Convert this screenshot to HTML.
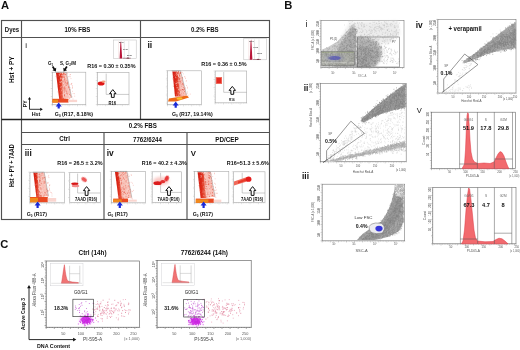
<!DOCTYPE html>
<html><head><meta charset="utf-8">
<style>
html,body{margin:0;padding:0;background:#fff;width:520px;height:350px;overflow:hidden}
svg{display:block;font-family:"Liberation Sans",sans-serif;will-change:transform}
</style></head><body>
<svg width="520" height="350" viewBox="0 0 520 350">
<g>
<defs>
<filter id="b1" x="-20%" y="-20%" width="140%" height="140%"><feGaussianBlur stdDeviation="0.7"/></filter>
<filter id="b2" x="-20%" y="-20%" width="140%" height="140%"><feGaussianBlur stdDeviation="1.5"/></filter>
<filter id="b3" x="-20%" y="-20%" width="140%" height="140%"><feGaussianBlur stdDeviation="2.5"/></filter>
<linearGradient id="rg" x1="0" x2="1" y1="0" y2="0"><stop offset="0" stop-color="#d41a0e"/><stop offset="0.35" stop-color="#e2321c"/><stop offset="0.55" stop-color="#ee6a50"/><stop offset="0.8" stop-color="#f6b4a8"/><stop offset="1" stop-color="#fbd8d2"/></linearGradient>
<linearGradient id="rg2" x1="0" x2="1" y1="0" y2="0"><stop offset="0" stop-color="#d01a10"/><stop offset="0.45" stop-color="#dc2a18"/><stop offset="1" stop-color="#ec6a52"/></linearGradient>
<marker id="ah" viewBox="0 0 6 6" refX="3" refY="3" markerWidth="2.6" markerHeight="2.6" orient="auto"><path d="M0,0 L6,3 L0,6 z" fill="#111"/></marker>
</defs>
<text x="0.9" y="9.2" font-size="11.2" font-weight="bold" text-anchor="start" fill="#111" >A</text>
<text x="284.2" y="9.2" font-size="11.2" font-weight="bold" text-anchor="start" fill="#111" >B</text>
<text x="0.3" y="248.3" font-size="11.2" font-weight="bold" text-anchor="start" fill="#111" >C</text>
<g stroke="#505050" stroke-width="1.15" fill="none">
<rect x="1.5" y="20.5" width="268" height="199"/>
<line x1="21.5" y1="20.5" x2="21.5" y2="219.5"/>
<line x1="1.5" y1="37.5" x2="269.5" y2="37.5"/>
<line x1="140.5" y1="20.5" x2="140.5" y2="119.5"/>
<line x1="1.5" y1="119.5" x2="269.5" y2="119.5" stroke-width="1.4" stroke="#222"/>
<line x1="21.5" y1="132.5" x2="269.5" y2="132.5"/>
<line x1="21.5" y1="144.5" x2="269.5" y2="144.5"/>
<line x1="104" y1="132.5" x2="104" y2="219.5"/>
<line x1="187" y1="132.5" x2="187" y2="219.5"/>
</g>
<text x="4.8" y="31.8" font-size="6.3" font-weight="bold" text-anchor="start" fill="#111"  textLength="14.4" lengthAdjust="spacingAndGlyphs">Dyes</text>
<text x="64.4" y="31.8" font-size="6.3" font-weight="bold" text-anchor="start" fill="#111"  textLength="26" lengthAdjust="spacingAndGlyphs">10% FBS</text>
<text x="190.9" y="31.7" font-size="6.3" font-weight="bold" text-anchor="start" fill="#111"  textLength="27.8" lengthAdjust="spacingAndGlyphs">0.2% FBS</text>
<text x="128.7" y="128.4" font-size="6.3" font-weight="bold" text-anchor="start" fill="#111"  textLength="28.2" lengthAdjust="spacingAndGlyphs">0.2% FBS</text>
<text x="59.2" y="141.4" font-size="6.3" font-weight="bold" text-anchor="start" fill="#111"  textLength="10.7" lengthAdjust="spacingAndGlyphs">Ctrl</text>
<text x="133" y="141.9" font-size="6.3" font-weight="bold" text-anchor="start" fill="#111"  textLength="28.8" lengthAdjust="spacingAndGlyphs">7762/6244</text>
<text x="215.2" y="141.6" font-size="6.3" font-weight="bold" text-anchor="start" fill="#111"  textLength="23.6" lengthAdjust="spacingAndGlyphs">PD/CEP</text>
<text transform="translate(14.1,69.6) rotate(-90)" font-size="6.4" font-weight="bold" text-anchor="middle" fill="#111" textLength="26.6" lengthAdjust="spacingAndGlyphs">Hst + PY</text>
<text transform="translate(14.3,165.7) rotate(-90)" font-size="6.4" font-weight="bold" text-anchor="middle" fill="#111" textLength="42.7" lengthAdjust="spacingAndGlyphs">Hst + PY + 7AAD</text>
<text x="25.3" y="47.6" font-size="8" text-anchor="start" fill="#111" >i</text>
<text x="147.4" y="47.7" font-size="8.6" font-weight="bold" text-anchor="start" fill="#111" >ii</text>
<text x="24.8" y="156.4" font-size="8.4" font-weight="bold" text-anchor="start" fill="#111" >iii</text>
<text x="106.8" y="156.4" font-size="8.4" font-weight="bold" text-anchor="start" fill="#111" >iv</text>
<text x="190.8" y="155.6" font-size="7.8" font-weight="bold" text-anchor="start" fill="#111" >V</text>
<rect x="113.5" y="40" width="22.7" height="18.5" fill="#fff" stroke="#bbb" stroke-width="0.5"/>
<line x1="118.6" y1="41" x2="118.6" y2="58.5" stroke="#f0d0d0" stroke-width="0.45"/>
<line x1="124.3" y1="41" x2="124.3" y2="58.5" stroke="#ccc" stroke-width="0.45"/>
<line x1="128.8" y1="41" x2="128.8" y2="58.5" stroke="#ccc" stroke-width="0.45"/>
<path d="M119.6,58.5 L120.4,42.5 L121.1,41 L121.5,48 L122.2,58.5 z" fill="#b81438"/>
<path d="M126.3,58.5 q1.6,-2.2 3.2,0 z" fill="#5a1020"/>
<path d="M122.8,58.2 H130.8" stroke="#7a3040" stroke-width="0.5"/>
<text x="121.3" y="43" font-size="2.4" font-weight="bold" text-anchor="middle" fill="#444" >51.9</text>
<text x="125.3" y="49.5" font-size="2.4" font-weight="bold" text-anchor="middle" fill="#444" >17.8</text>
<text x="129.3" y="55.5" font-size="2.4" font-weight="bold" text-anchor="middle" fill="#444" >29.8</text>
<text x="87.2" y="67.5" font-size="6.2" font-weight="bold" text-anchor="start" fill="#111"  textLength="48.3" lengthAdjust="spacingAndGlyphs">R16 = 0.30 ± 0.35%</text>
<rect x="52.4" y="72.2" width="33.4" height="32.5" fill="none" stroke="#aaa" stroke-width="0.6"/>
<path d="M50.8,72.2h1.6M51.6,73.8h0.8M51.6,75.5h0.8M51.6,77.1h0.8M51.6,78.7h0.8M50.8,80.3h1.6M51.6,82h0.8M51.6,83.6h0.8M51.6,85.2h0.8M51.6,86.8h0.8M50.8,88.5h1.6M51.6,90.1h0.8M51.6,91.7h0.8M51.6,93.3h0.8M51.6,95h0.8M50.8,96.6h1.6M51.6,98.2h0.8M51.6,99.8h0.8M51.6,101.5h0.8M51.6,103.1h0.8M50.8,104.7h1.6M52.4,104.7v1.6M54.1,104.7v0.8M55.7,104.7v0.8M57.4,104.7v0.8M59.1,104.7v0.8M60.8,104.7v1.6M62.4,104.7v0.8M64.1,104.7v0.8M65.8,104.7v0.8M67.4,104.7v0.8M69.1,104.7v1.6M70.8,104.7v0.8M72.4,104.7v0.8M74.1,104.7v0.8M75.8,104.7v0.8M77.5,104.7v1.6M79.1,104.7v0.8M80.8,104.7v0.8M82.5,104.7v0.8M84.1,104.7v0.8M85.8,104.7v1.6" stroke="#aaa" stroke-width="0.4" fill="none"/>
<polygon points="61.5,72.8 66.3,72.8 71.7,97.8 62.5,99.3" fill="#f8c2b8" filter="url(#b1)"/>
<polygon points="56,72.8 62,72.8 63,99.3 59.2,99.3" fill="url(#rg2)" filter="url(#b1)"/>
<path d="M62.7,81.4h0.7M62.8,90h0.7M64,87h0.7M63.7,74.3h0.7M63.3,73.8h0.7M62.2,74.7h0.7M67.1,84h0.7M62.6,76.1h0.7M69.1,89.4h0.7M64.3,88.1h0.7M63.1,98.7h0.7M64.1,95.5h0.7M62.3,76.6h0.7M66.5,81h0.7M64.4,77.6h0.7M64.3,89.7h0.7M62.7,87.3h0.7M62.5,74.4h0.7M64.7,90.8h0.7M64.9,81.1h0.7M63.5,84.8h0.7M67.3,93.9h0.7M64.6,79.3h0.7M67.9,86.7h0.7M63.9,92.1h0.7M63.3,98.8h0.7M66.5,83.9h0.7M63.9,76.8h0.7M64.5,73.8h0.7M66.1,93.1h0.7M64.3,96h0.7M66.1,91.2h0.7M64.7,88.2h0.7M70.2,95.1h0.7M65.9,85.4h0.7M64.7,74.4h0.7M69.7,89.9h0.7M64,94.6h0.7M65.7,83h0.7M63.4,73.4h0.7M62.4,77.3h0.7M65.1,74.4h0.7M62.7,76.2h0.7M67.3,83.2h0.7M63.5,74.9h0.7M68.1,87.4h0.7M69.2,94.5h0.7M63.8,80.2h0.7M67.2,82.3h0.7M63.5,98.2h0.7M62.7,77.5h0.7M64,79h0.7M63.5,88.4h0.7M63.2,72.9h0.7M64.9,82.6h0.7" stroke="#e0402a" stroke-width="0.7" opacity="0.9" fill="none"/>
<path d="M68.4,98.1h0.7M65.6,86.5h0.7M61,90.7h0.7M69,96.6h0.7M69,96h0.7M63.1,83.2h0.7M63.8,75.5h0.7M58.8,74.4h0.7M60.2,78.3h0.7M59.8,81.8h0.7M59.3,72.8h0.7M61.5,75.5h0.7M65.4,73.5h0.7M61.7,89.1h0.7M62,79.5h0.7M60.5,82.5h0.7M70.8,95.3h0.7M64.1,85.1h0.7M59.2,75.1h0.7M61.6,81.9h0.7M62.6,94.8h0.7M66,73.4h0.7M61.3,86.8h0.7M60.3,87.2h0.7M69,86.8h0.7M68,95.7h0.7M62.2,79.7h0.7M65.3,77.2h0.7M67.1,86.9h0.7M61.2,81.5h0.7M70.5,94.3h0.7M69,95.4h0.7M68.2,94.5h0.7M63.4,78.8h0.7M59.6,82.2h0.7M60.5,73.5h0.7M65,79.7h0.7M66,98.1h0.7M71.2,97.6h0.7M65.2,98.1h0.7M60.8,78.6h0.7M60.5,78h0.7M68.7,89.3h0.7M65.8,95.1h0.7M67.9,90.1h0.7M63.9,75h0.7M69.1,96.9h0.7M65.4,92.7h0.7M65.5,77.5h0.7M66.3,81.6h0.7" stroke="#fde8e4" stroke-width="0.7" opacity="0.9" fill="none"/>
<polyline points="55.4,72.2 66.3,72.2 71.7,97.8" fill="none" stroke="#777" stroke-width="0.4"/>
<rect x="52.4" y="98.8" width="16.1" height="3.8" fill="#ea4a24" filter="url(#b1)"/>
<rect x="52.4" y="99.6" width="5.6" height="3" fill="#f08a1c" filter="url(#b1)"/>
<rect x="68.5" y="99.8" width="8.6" height="2.3" fill="#fad6d0" filter="url(#b1)"/>
<path d="M65,98.5h0.6M71.6,83.4h0.6M60.2,92h0.6M57.8,76.2h0.6M71.8,96.8h0.6M68.4,76.7h0.6M69.6,98.8h0.6M64.9,82.1h0.6M55.6,76.3h0.6M69.4,98.5h0.6M72.1,86.8h0.6M70.6,84.3h0.6M61.3,94.7h0.6M60.5,79.5h0.6M65.1,79.2h0.6M62.5,79.7h0.6M69.6,76.3h0.6M63.5,82.2h0.6M71.9,88.3h0.6M71.2,83.9h0.6M65.3,86.1h0.6M57,86.7h0.6M59.4,84.5h0.6M67.2,72.9h0.6M63,77.4h0.6M66.7,92h0.6M64.3,81.4h0.6M69.7,87.5h0.6M64,75.6h0.6M60.2,79.4h0.6M66.1,93.3h0.6M69.4,87.7h0.6M65.6,97h0.6M65.4,89h0.6M68,86.4h0.6M65.1,84.8h0.6M71.9,85.5h0.6M72,91.3h0.6M62.5,97.8h0.6M72.4,87.6h0.6M60,95.1h0.6M62.3,76h0.6M59,74.7h0.6M65.6,74.7h0.6M72.8,93.6h0.6M66.7,76.9h0.6M59.5,90.3h0.6M74.5,96.2h0.6M70.7,78.6h0.6M64.2,83.4h0.6M72.7,99h0.6M62.3,77.1h0.6M62.2,86.5h0.6M60.6,78h0.6M57.6,91.9h0.6M64,87.5h0.6M60.1,73.3h0.6M65.5,89.3h0.6M70.4,74.5h0.6M74.1,93.7h0.6M59.5,75.6h0.6M67.1,73.8h0.6M57.9,80h0.6M71.1,84h0.6M62,94.5h0.6M69.8,76.8h0.6M68.4,87.9h0.6M56.2,75.2h0.6M64.4,91h0.6M69.7,74.7h0.6" stroke="#f08a80" stroke-width="0.6" opacity="1.0" fill="none"/>
<text x="50.5" y="64.6" font-size="4.6" font-weight="bold" text-anchor="middle" fill="#111" >G<tspan font-size="3" dy="1">1</tspan></text>
<text x="68" y="64.6" font-size="4.6" font-weight="bold" text-anchor="middle" fill="#111" >S, G<tspan font-size="3" dy="1">2</tspan><tspan dy="-1">/M</tspan></text>
<polygon points="51.9,66.9 53.6,69.5 52.4,70.3 55.9,71.6 56.2,67.8 55,68.6 53.3,65.9" fill="#111"/>
<polygon points="66.2,65.9 64.5,68.6 63.3,67.8 63.6,71.6 67.1,70.3 65.9,69.5 67.6,66.9" fill="#111"/>
<path d="M58.7,102.5 l-3,4 h1.9 v2.1 h2.2 v-2.1 h1.9 z" fill="#1a2ad8"/>
<text x="54.8" y="116.2" font-size="6" font-weight="bold" text-anchor="start" fill="#111"  textLength="38.3" lengthAdjust="spacingAndGlyphs">G<tspan font-size="3.6" dy="1">0</tspan><tspan dy="-1"> (R17, 8.18%)</tspan></text>
<rect x="97.4" y="72.6" width="31.6" height="32" fill="none" stroke="#aaa" stroke-width="0.6"/>
<path d="M95.8,72.6h1.6M96.6,74.2h0.8M96.6,75.8h0.8M96.6,77.4h0.8M96.6,79h0.8M95.8,80.6h1.6M96.6,82.2h0.8M96.6,83.8h0.8M96.6,85.4h0.8M96.6,87h0.8M95.8,88.6h1.6M96.6,90.2h0.8M96.6,91.8h0.8M96.6,93.4h0.8M96.6,95h0.8M95.8,96.6h1.6M96.6,98.2h0.8M96.6,99.8h0.8M96.6,101.4h0.8M96.6,103h0.8M95.8,104.6h1.6M97.4,104.6v1.6M99.1,104.6v0.8M100.7,104.6v0.8M102.4,104.6v0.8M104.1,104.6v0.8M105.7,104.6v1.6M107.4,104.6v0.8M109,104.6v0.8M110.7,104.6v0.8M112.4,104.6v0.8M114,104.6v1.6M115.7,104.6v0.8M117.4,104.6v0.8M119,104.6v0.8M120.7,104.6v0.8M122.3,104.6v1.6M124,104.6v0.8M125.7,104.6v0.8M127.3,104.6v0.8M129,104.6v0.8" stroke="#aaa" stroke-width="0.4" fill="none"/>
<polyline points="106.2,73.6 106.2,94.4 129,94.4" fill="none" stroke="#999" stroke-width="0.5"/>
<ellipse cx="101.1" cy="83.6" rx="3.4" ry="2" fill="#e01818" filter="url(#b1)"/>
<ellipse cx="103.5" cy="81.6" rx="2" ry="1.2" fill="#f4a080" filter="url(#b1)"/>
<path d="M112.8,89.6 l-3.2,4 h1.8 v3.8 h2.8 v-3.8 h1.8 z" fill="#fff" stroke="#111" stroke-width="1"/>
<text x="108.5" y="104.6" font-size="5.4" font-weight="bold" text-anchor="start" fill="#111"  textLength="7.6" lengthAdjust="spacingAndGlyphs">R16</text>
<path d="M29.5,109.3 V99 M29.5,109.3 H40.5" stroke="#111" stroke-width="0.85" fill="none"/>
<path d="M29.5,97 l-1.6,2.6 h3.2 z M42.8,109.3 l-2.6,-1.6 v3.2 z" fill="#111"/>
<text transform="translate(27,103.8) rotate(-90)" font-size="5.2" font-weight="bold" text-anchor="middle" fill="#111">PY</text>
<text x="36" y="116.2" font-size="5.4" font-weight="bold" text-anchor="middle" fill="#111" >Hst</text>
<rect x="243.8" y="38.5" width="22.5" height="21.3" fill="#fff" stroke="#bbb" stroke-width="0.5"/>
<line x1="248.8" y1="39.5" x2="248.8" y2="59.8" stroke="#f0d0d0" stroke-width="0.45"/>
<line x1="254.5" y1="39.5" x2="254.5" y2="59.8" stroke="#ccc" stroke-width="0.45"/>
<line x1="259" y1="39.5" x2="259" y2="59.8" stroke="#ccc" stroke-width="0.45"/>
<path d="M249.8,59.8 L250.6,41 L251.3,39.5 L251.7,46.5 L252.4,59.8 z" fill="#b81438"/>
<path d="M256.5,59.8 q1.6,-2.2 3.2,0 z" fill="#5a1020"/>
<path d="M253,59.5 H261" stroke="#7a3040" stroke-width="0.5"/>
<text x="251.5" y="41.5" font-size="2.4" font-weight="bold" text-anchor="middle" fill="#444" >51.9</text>
<text x="255.5" y="48" font-size="2.4" font-weight="bold" text-anchor="middle" fill="#444" >17.8</text>
<text x="259.5" y="54" font-size="2.4" font-weight="bold" text-anchor="middle" fill="#444" >29.8</text>
<text x="201.2" y="65.5" font-size="6.2" font-weight="bold" text-anchor="start" fill="#111"  textLength="45.4" lengthAdjust="spacingAndGlyphs">R16 = 0.36 ± 0.5%</text>
<rect x="167.5" y="70.8" width="33.9" height="33.9" fill="none" stroke="#aaa" stroke-width="0.6"/>
<path d="M165.9,70.8h1.6M166.7,72.4h0.8M166.7,74h0.8M166.7,75.6h0.8M166.7,77.3h0.8M165.9,78.9h1.6M166.7,80.5h0.8M166.7,82.1h0.8M166.7,83.7h0.8M166.7,85.3h0.8M165.9,86.9h1.6M166.7,88.6h0.8M166.7,90.2h0.8M166.7,91.8h0.8M166.7,93.4h0.8M165.9,95h1.6M166.7,96.6h0.8M166.7,98.2h0.8M166.7,99.9h0.8M166.7,101.5h0.8M165.9,103.1h1.6M166.7,104.7h0.8M167.5,104.7v1.6M169.1,104.7v0.8M170.7,104.7v0.8M172.3,104.7v0.8M174,104.7v0.8M175.6,104.7v1.6M177.2,104.7v0.8M178.8,104.7v0.8M180.4,104.7v0.8M182,104.7v0.8M183.6,104.7v1.6M185.3,104.7v0.8M186.9,104.7v0.8M188.5,104.7v0.8M190.1,104.7v0.8M191.7,104.7v1.6M193.3,104.7v0.8M194.9,104.7v0.8M196.6,104.7v0.8M198.2,104.7v0.8M199.8,104.7v1.6M201.4,104.7v0.8" stroke="#aaa" stroke-width="0.4" fill="none"/>
<polygon points="177,71.4 180.5,71.4 186.5,94.9 180,96.4" fill="#f8c2b8" filter="url(#b1)"/>
<polygon points="172.4,71.4 177.5,71.4 180.5,96.4 175,96.4" fill="url(#rg2)" filter="url(#b1)"/>
<path d="M182.9,87.3h0.7M180.3,73.5h0.7M180.3,73.1h0.7M179.7,82.7h0.7M183.3,85.2h0.7M178.5,78.1h0.7M179.6,84.6h0.7M178,74.1h0.7M177.9,72.7h0.7M179.1,79.2h0.7M180.6,90.4h0.7M179.3,83.9h0.7M178.6,80.1h0.7M178.3,77.7h0.7M181.8,89.7h0.7M179.2,76.1h0.7M180.5,94.8h0.7M181.5,91.9h0.7M182.4,83.8h0.7M180.2,81.2h0.7M184.5,88.6h0.7M181.6,80h0.7M182.2,89.1h0.7M179.6,81.5h0.7M177.8,72.8h0.7M179.8,73.2h0.7M178.5,77.8h0.7M180.3,73.5h0.7M183.2,93.2h0.7M178.8,78.4h0.7M179.6,78.7h0.7M179,75.3h0.7M181.9,78h0.7M182.8,95.7h0.7M181.8,77.5h0.7M179.3,79.1h0.7M178.2,71.4h0.7M180.5,83.3h0.7M179.4,76.4h0.7M177.9,71.5h0.7M178.6,73.6h0.7M177.6,72.4h0.7M178.9,79h0.7M181.1,86h0.7M182.6,90.2h0.7M183.9,89.3h0.7M179.4,81.1h0.7M180.8,96h0.7M182.3,89.5h0.7M180,72.5h0.7M183,93.7h0.7M183.5,89.7h0.7M179.2,74.9h0.7M182.5,84h0.7M184,91.5h0.7" stroke="#e0402a" stroke-width="0.7" opacity="0.9" fill="none"/>
<path d="M183.1,86h0.7M182,88.5h0.7M175,77.1h0.7M176.9,74.7h0.7M180,74h0.7M180.9,85.4h0.7M181.6,87.1h0.7M175.7,83.6h0.7M183.1,91.3h0.7M179.9,84h0.7M176.7,87.9h0.7M178.6,89.8h0.7M176,73.3h0.7M178.1,89.6h0.7M184.7,89.9h0.7M178.6,83.7h0.7M180.9,83.4h0.7M181.8,90.6h0.7M176.8,87.5h0.7M176.3,75.1h0.7M179,90h0.7M176,85.6h0.7M176,72.9h0.7M182,88.2h0.7M178.7,88.3h0.7M179.4,84.3h0.7M176.5,83.1h0.7M178.7,93.7h0.7M185.8,95.9h0.7M177.1,71.8h0.7M185.1,91.9h0.7M177.6,82.6h0.7M181.4,76.6h0.7M178.8,76.7h0.7M178.1,74.9h0.7M178.3,95.2h0.7M181.1,91.9h0.7M183.2,93.6h0.7M181.2,77.2h0.7M175.8,83.6h0.7M177.2,71.5h0.7M177.8,82.7h0.7M176.8,74.9h0.7M181.2,79.3h0.7M178.9,71.4h0.7M177.8,92.4h0.7M183.5,94.6h0.7M179.6,93.9h0.7M178.2,80.7h0.7M182.7,96.4h0.7" stroke="#fde8e4" stroke-width="0.7" opacity="0.9" fill="none"/>
<polyline points="171.8,70.8 180.5,70.8 186.5,94.9" fill="none" stroke="#777" stroke-width="0.4"/>
<polygon points="168,101.4 169,98.4 187,95.6 189,97.6 176,101.4" fill="#ee6a18" filter="url(#b1)"/>
<ellipse cx="179.5" cy="98.5" rx="3" ry="1.3" fill="#f6c030" filter="url(#b1)"/>
<path d="M178.5,80.4h0.6M172.8,78.3h0.6M182.9,73.9h0.6M185.3,78.5h0.6M175.8,77.6h0.6M175.5,84.2h0.6M186.1,80.7h0.6M186.8,93.5h0.6M187,87.2h0.6M182.8,94.9h0.6M174,89.4h0.6M180.3,89.7h0.6M183.4,90.2h0.6M172.8,78.6h0.6M175.9,94.6h0.6M177.7,83.2h0.6M182.6,78.8h0.6M178.2,95.8h0.6M177.7,87.8h0.6M178.8,85.3h0.6M174,75.6h0.6M184.4,76.6h0.6M175.9,83.8h0.6M189.9,94.1h0.6M174.6,82.6h0.6M173.1,76.2h0.6M173.6,79.9h0.6M175.6,77.4h0.6M186.2,85.6h0.6M179.8,90.1h0.6M180.1,81.7h0.6M177.2,80.8h0.6M175.3,73h0.6M176,95.6h0.6M182,84h0.6M177.1,93h0.6M175.6,78.2h0.6M178.9,81.4h0.6M187.8,95.2h0.6M174,93.2h0.6M180.9,72.2h0.6M181.4,93.8h0.6M172.9,86.1h0.6M185.8,81.2h0.6M187.2,92h0.6M178,95.7h0.6M173.8,74.1h0.6M182.9,84.5h0.6M185.6,94.9h0.6M184.8,87.6h0.6M180.7,82.8h0.6M181.9,72.4h0.6M184.8,77.2h0.6M177.7,87.5h0.6M175.1,74.6h0.6M183.7,87.3h0.6M172.6,74.2h0.6M181.4,84.5h0.6M175.6,81.1h0.6M173.1,86.4h0.6M178.7,78.9h0.6M184.4,95.4h0.6M181.4,93.5h0.6M175.4,77.3h0.6M185.4,95.4h0.6M172.5,79.1h0.6M182.7,83.9h0.6M176.2,81.9h0.6M187.4,88.1h0.6M172.5,77.1h0.6" stroke="#f08a80" stroke-width="0.6" opacity="1.0" fill="none"/>
<path d="M175.7,101.4 l-3,4 h1.9 v2.4 h2.2 v-2.4 h1.9 z" fill="#1a2ad8"/>
<text x="171.9" y="115.7" font-size="6" font-weight="bold" text-anchor="start" fill="#111"  textLength="40.9" lengthAdjust="spacingAndGlyphs">G<tspan font-size="3.6" dy="1">0</tspan><tspan dy="-1"> (R17, 19.14%)</tspan></text>
<rect x="215.2" y="71" width="31.5" height="31.8" fill="none" stroke="#aaa" stroke-width="0.6"/>
<path d="M213.6,71h1.6M214.4,72.7h0.8M214.4,74.3h0.8M214.4,76h0.8M214.4,77.7h0.8M213.6,79.4h1.6M214.4,81h0.8M214.4,82.7h0.8M214.4,84.4h0.8M214.4,86.1h0.8M213.6,87.7h1.6M214.4,89.4h0.8M214.4,91.1h0.8M214.4,92.8h0.8M214.4,94.4h0.8M213.6,96.1h1.6M214.4,97.8h0.8M214.4,99.5h0.8M214.4,101.1h0.8M214.4,102.8h0.8M215.2,102.8v1.6M216.9,102.8v0.8M218.5,102.8v0.8M220.2,102.8v0.8M221.8,102.8v0.8M223.5,102.8v1.6M225.1,102.8v0.8M226.8,102.8v0.8M228.5,102.8v0.8M230.1,102.8v0.8M231.8,102.8v1.6M233.4,102.8v0.8M235.1,102.8v0.8M236.8,102.8v0.8M238.4,102.8v0.8M240.1,102.8v1.6M241.7,102.8v0.8M243.4,102.8v0.8M245,102.8v0.8M246.7,102.8v0.8" stroke="#aaa" stroke-width="0.4" fill="none"/>
<polyline points="223.7,72 223.7,92.3 246.7,92.3" fill="none" stroke="#999" stroke-width="0.5"/>
<rect x="215.8" y="77" width="6.2" height="7" fill="#f07060" filter="url(#b1)"/>
<rect x="216.6" y="78" width="4.6" height="5" fill="#e42a22" filter="url(#b1)"/>
<path d="M232.3,86.4 l-3.2,4 h1.8 v3.9 h2.8 v-3.9 h1.8 z" fill="#fff" stroke="#111" stroke-width="1"/>
<text x="229" y="101.2" font-size="4.4" font-weight="bold" text-anchor="start" fill="#111"  textLength="5.6" lengthAdjust="spacingAndGlyphs">R16</text>
<rect x="30" y="172.2" width="34.6" height="30.6" fill="none" stroke="#aaa" stroke-width="0.6"/>
<path d="M28.4,172.2h1.6M29.2,173.8h0.8M29.2,175.4h0.8M29.2,177h0.8M29.2,178.6h0.8M28.4,180.3h1.6M29.2,181.9h0.8M29.2,183.5h0.8M29.2,185.1h0.8M29.2,186.7h0.8M28.4,188.3h1.6M29.2,189.9h0.8M29.2,191.5h0.8M29.2,193.1h0.8M29.2,194.7h0.8M28.4,196.4h1.6M29.2,198h0.8M29.2,199.6h0.8M29.2,201.2h0.8M29.2,202.8h0.8M30,202.8v1.6M31.6,202.8v0.8M33.3,202.8v0.8M34.9,202.8v0.8M36.6,202.8v0.8M38.2,202.8v1.6M39.9,202.8v0.8M41.5,202.8v0.8M43.2,202.8v0.8M44.8,202.8v0.8M46.5,202.8v1.6M48.1,202.8v0.8M49.8,202.8v0.8M51.4,202.8v0.8M53.1,202.8v0.8M54.7,202.8v1.6M56.4,202.8v0.8M58,202.8v0.8M59.7,202.8v0.8M61.3,202.8v0.8M63,202.8v1.6M64.6,202.8v0.8" stroke="#aaa" stroke-width="0.4" fill="none"/>
<polygon points="36.9,172.8 44.2,172.8 48.4,195.9 38.9,197.4" fill="#f8c2b8" filter="url(#b1)"/>
<polygon points="33.4,172.8 37.4,172.8 39.4,197.4 36.4,197.4" fill="url(#rg2)" filter="url(#b1)"/>
<path d="M40.1,181.1h0.7M39.5,189.6h0.7M44.4,192.4h0.7M39.1,185.2h0.7M40.9,196.7h0.7M40,193h0.7M42.7,178.2h0.7M44.9,180.1h0.7M39,185h0.7M39.8,178.3h0.7M46.4,189.2h0.7M39.5,176.4h0.7M44.8,178h0.7M37.8,176.3h0.7M39.2,174.3h0.7M46.5,194.9h0.7M47.2,190.8h0.7M40.9,195.7h0.7M44.3,177.4h0.7M38.9,191.2h0.7M40.7,189.1h0.7M39.6,182h0.7M37.7,177h0.7M39.5,179.7h0.7M39.7,196.3h0.7M40.2,196.5h0.7M43.8,181.6h0.7M41.5,193h0.7M39.7,174h0.7M44.9,182h0.7M39.4,177.5h0.7M39.2,194.9h0.7M43.9,182.9h0.7M39,191.7h0.7M37.6,173.7h0.7M40.4,195.4h0.7M46.1,191.2h0.7M39.2,181.1h0.7M43.6,196.4h0.7M42.4,179.2h0.7M39.1,180.6h0.7M41.9,172.9h0.7M43.7,195.3h0.7M39.3,196h0.7M40.3,178.6h0.7M47.6,196.3h0.7M39.1,182.3h0.7M40.9,183.4h0.7M39.9,195.6h0.7M44.4,192.5h0.7M44.9,193h0.7M40.1,187.7h0.7M39.7,180.7h0.7M39.2,192h0.7M42.5,177.7h0.7" stroke="#e0402a" stroke-width="0.7" opacity="0.9" fill="none"/>
<path d="M36.9,178.9h0.7M40.5,173.6h0.7M45.4,180.8h0.7M47.8,194.5h0.7M37.2,179.3h0.7M40.2,175.2h0.7M42,190.3h0.7M40,178.6h0.7M43.8,188.1h0.7M45.9,191.2h0.7M38.8,189.1h0.7M41.1,193.5h0.7M40.8,186.7h0.7M39.8,191h0.7M38.5,178.9h0.7M43.8,176.6h0.7M40.4,187h0.7M45.8,182.5h0.7M39.3,185.3h0.7M44.3,192.7h0.7M39.8,197.2h0.7M44.5,184.5h0.7M46.9,193.5h0.7M38.2,173.8h0.7M37.6,175.7h0.7M44.3,196.7h0.7M42.1,195.7h0.7M42.6,194.1h0.7M43.3,179.2h0.7M39.6,196.1h0.7M43.2,187.5h0.7M39.5,178.2h0.7M37.8,176.3h0.7M41.7,179.1h0.7M39.6,188.8h0.7M38.4,173.1h0.7M39.5,189.5h0.7M38.4,180.5h0.7M43.3,192.4h0.7M36.6,174.4h0.7M41.8,182.5h0.7M38.5,188.5h0.7M42.2,176.8h0.7M39.4,182.9h0.7M45.1,180.4h0.7M41.6,180.5h0.7M40.5,181.6h0.7M47.8,194.1h0.7M38.5,181.7h0.7M39.8,190.7h0.7" stroke="#fde8e4" stroke-width="0.7" opacity="0.9" fill="none"/>
<polyline points="32.8,172.2 44.2,172.2 48.4,195.9" fill="none" stroke="#777" stroke-width="0.4"/>
<rect x="30" y="197" width="17.8" height="5.2" fill="#ea4a24" filter="url(#b1)"/>
<rect x="30" y="197.8" width="8" height="4.4" fill="#f08a1c" filter="url(#b1)"/>
<rect x="47.8" y="198" width="8.4" height="3.7" fill="#fad6d0" filter="url(#b1)"/>
<path d="M46.7,172.9h0.6M47.1,183.2h0.6M48,182.8h0.6M36.4,184.1h0.6M41.2,173.2h0.6M49.4,188.6h0.6M42.6,175h0.6M41.7,181.9h0.6M37.4,176.4h0.6M49.2,185.6h0.6M40.5,175.5h0.6M51,192.6h0.6M35,177.7h0.6M51.7,196h0.6M34.7,184.7h0.6M41.7,195.6h0.6M45.6,195h0.6M37.6,193.1h0.6M38.5,192.1h0.6M47.4,182.8h0.6M38,193.2h0.6M39.5,178.2h0.6M40.3,185.5h0.6M36.7,175.8h0.6M49.5,190.6h0.6M41.4,173.8h0.6M35.3,191.4h0.6M36.9,193.4h0.6M43.3,187.5h0.6M39.3,188.2h0.6M43.2,183.1h0.6M44.4,183.3h0.6M40.9,183.8h0.6M42.3,173.4h0.6M37.7,184.8h0.6M47.7,191.6h0.6M36.7,184.1h0.6M35.6,184.4h0.6M39.7,176h0.6M39.7,175.1h0.6M34.6,185.3h0.6M35.7,188.5h0.6M47.6,190.8h0.6M34.8,185.4h0.6M40.1,185.2h0.6M37.6,196.2h0.6M51.7,193.9h0.6M48.2,190.8h0.6M48.7,177.6h0.6M49.6,184.9h0.6M37.9,195.3h0.6M50.3,192.2h0.6M38.2,174.4h0.6M37.3,191.4h0.6M39.7,194.9h0.6M37.3,192.9h0.6M49,185.2h0.6M37.2,177.9h0.6M39.2,185.2h0.6M35.4,173.7h0.6M47.9,176.8h0.6M49.3,189.5h0.6M45.5,177h0.6M41.2,175.6h0.6M40.3,188.5h0.6M44.4,194.3h0.6M48.7,187.1h0.6M48.5,175.4h0.6M40.8,188.3h0.6M39.2,192.4h0.6" stroke="#f08a80" stroke-width="0.6" opacity="1.0" fill="none"/>
<text x="57.3" y="165.1" font-size="6.1" font-weight="bold" text-anchor="start" fill="#111"  textLength="45.2" lengthAdjust="spacingAndGlyphs">R16 = 26.5 ± 3.2%</text>
<path d="M37.6,201.6 l-3,4 h1.9 v2.4 h2.2 v-2.4 h1.9 z" fill="#1a2ad8"/>
<text x="26.7" y="215.9" font-size="6" font-weight="bold" text-anchor="start" fill="#111"  textLength="20.2" lengthAdjust="spacingAndGlyphs">G<tspan font-size="3.6" dy="1">0</tspan><tspan dy="-1"> (R17)</tspan></text>
<rect x="69.8" y="172.6" width="30.6" height="30" fill="none" stroke="#aaa" stroke-width="0.6"/>
<path d="M68.2,172.6h1.6M69,174.3h0.8M69,175.9h0.8M69,177.6h0.8M69,179.3h0.8M68.2,180.9h1.6M69,182.6h0.8M69,184.3h0.8M69,185.9h0.8M69,187.6h0.8M68.2,189.3h1.6M69,190.9h0.8M69,192.6h0.8M69,194.3h0.8M69,195.9h0.8M68.2,197.6h1.6M69,199.3h0.8M69,200.9h0.8M69,202.6h0.8M69.8,202.6v1.6M71.4,202.6v0.8M73,202.6v0.8M74.6,202.6v0.8M76.2,202.6v0.8M77.9,202.6v1.6M79.5,202.6v0.8M81.1,202.6v0.8M82.7,202.6v0.8M84.3,202.6v0.8M85.9,202.6v1.6M87.5,202.6v0.8M89.1,202.6v0.8M90.7,202.6v0.8M92.3,202.6v0.8M94,202.6v1.6M95.6,202.6v0.8M97.2,202.6v0.8M98.8,202.6v0.8M100.4,202.6v0.8" stroke="#aaa" stroke-width="0.4" fill="none"/>
<polyline points="77.6,173.6 77.6,193 100.4,193" fill="none" stroke="#999" stroke-width="0.5"/>
<ellipse cx="74.8" cy="183.8" rx="3.6" ry="1.4" fill="#d81818" filter="url(#b1)"/>
<ellipse cx="75.5" cy="186" rx="3.8" ry="1.2" fill="#f28a8a" filter="url(#b1)"/>
<ellipse cx="84.2" cy="179.5" rx="3" ry="2.1" fill="#ec5858" filter="url(#b1)" transform="rotate(35 84.2 179.5)"/>
<path d="M86.6,186.6 l-3.2,4 h1.8 v4.8 h2.8 v-4.8 h1.8 z" fill="#fff" stroke="#111" stroke-width="1"/>
<text x="75" y="200.9" font-size="5.0" font-weight="bold" text-anchor="start" fill="#111"  textLength="22.2" lengthAdjust="spacingAndGlyphs">7AAD (R16)</text>
<rect x="111.4" y="171.4" width="34.2" height="31.4" fill="none" stroke="#aaa" stroke-width="0.6"/>
<path d="M109.8,171.4h1.6M110.6,173.1h0.8M110.6,174.7h0.8M110.6,176.4h0.8M110.6,178h0.8M109.8,179.7h1.6M110.6,181.3h0.8M110.6,183h0.8M110.6,184.6h0.8M110.6,186.3h0.8M109.8,187.9h1.6M110.6,189.6h0.8M110.6,191.2h0.8M110.6,192.9h0.8M110.6,194.5h0.8M109.8,196.2h1.6M110.6,197.8h0.8M110.6,199.5h0.8M110.6,201.1h0.8M110.6,202.8h0.8M111.4,202.8v1.6M113,202.8v0.8M114.7,202.8v0.8M116.3,202.8v0.8M117.9,202.8v0.8M119.5,202.8v1.6M121.2,202.8v0.8M122.8,202.8v0.8M124.4,202.8v0.8M126.1,202.8v0.8M127.7,202.8v1.6M129.3,202.8v0.8M130.9,202.8v0.8M132.6,202.8v0.8M134.2,202.8v0.8M135.8,202.8v1.6M137.5,202.8v0.8M139.1,202.8v0.8M140.7,202.8v0.8M142.3,202.8v0.8M144,202.8v1.6M145.6,202.8v0.8" stroke="#aaa" stroke-width="0.4" fill="none"/>
<polygon points="118.1,172 127,172 131.8,197.7 121.7,199.2" fill="#f8c2b8" filter="url(#b1)"/>
<polygon points="115,172 118.6,172 122.2,199.2 118.6,199.2" fill="url(#rg2)" filter="url(#b1)"/>
<path d="M126.4,198.9h0.7M125.8,181.8h0.7M120.9,184h0.7M121.4,192.2h0.7M122.8,194.3h0.7M129.8,189.4h0.7M125.6,187.9h0.7M119.7,180.5h0.7M119.2,172.9h0.7M123.4,188.8h0.7M128.1,185.9h0.7M120,175.6h0.7M121,189.8h0.7M120.4,172.1h0.7M120.8,174.9h0.7M123.3,178.1h0.7M121.6,188h0.7M123.8,189h0.7M126.8,175.7h0.7M120,178.6h0.7M123.3,174.6h0.7M128.3,195.7h0.7M121.3,182.9h0.7M123,172.3h0.7M122.5,187.3h0.7M123.6,189.6h0.7M128,197.5h0.7M127,178.8h0.7M122,173.2h0.7M121.1,183h0.7M124.6,173.6h0.7M122.1,172.3h0.7M122.5,197.6h0.7M123.4,177.4h0.7M125.1,185.8h0.7M122.2,194.1h0.7M121.2,180.4h0.7M125.9,173.3h0.7M127.1,193.3h0.7M125.1,172.2h0.7M124.2,192.3h0.7M124.1,192.2h0.7M119.7,178.1h0.7M119.5,178.3h0.7M125.5,181.1h0.7M128.3,190.9h0.7M122.4,191.4h0.7M123.2,187.1h0.7M125,193.4h0.7M124,179.2h0.7M123,198.3h0.7M121.8,195.9h0.7M120.5,179.1h0.7M129.8,192.2h0.7M123,192.3h0.7" stroke="#e0402a" stroke-width="0.7" opacity="0.9" fill="none"/>
<path d="M124.2,195.9h0.7M127.2,178.5h0.7M126.9,189.2h0.7M130,190.1h0.7M127.6,184.8h0.7M128.9,191h0.7M126.3,183.9h0.7M122.7,187.5h0.7M124.3,177.8h0.7M126.5,174.1h0.7M118.2,175.9h0.7M126.8,174.9h0.7M120.1,181.4h0.7M117.9,172.8h0.7M126.6,190.8h0.7M127.6,191h0.7M123.4,173.8h0.7M126.9,181.9h0.7M129.8,194.3h0.7M126,173.8h0.7M130.8,196.9h0.7M119.8,174.9h0.7M118.2,175h0.7M129.1,195.1h0.7M128.3,189.2h0.7M122.8,189.2h0.7M118.7,174.7h0.7M122.4,192.6h0.7M122.8,180.7h0.7M119.9,172.6h0.7M125.6,179.7h0.7M122,182h0.7M126.4,198.2h0.7M127.1,195.2h0.7M121.5,172.8h0.7M126.8,183.9h0.7M125.7,181.4h0.7M121.7,186.6h0.7M121.7,195.5h0.7M122.3,194.3h0.7M119.3,172h0.7M130.4,192.7h0.7M122.1,172.1h0.7M127.3,185.4h0.7M122.9,177h0.7M127,181.4h0.7M127.7,179.1h0.7M120.6,179.7h0.7M125.2,191h0.7M124,175h0.7" stroke="#fde8e4" stroke-width="0.7" opacity="0.9" fill="none"/>
<polyline points="114.4,171.4 127,171.4 131.8,197.7" fill="none" stroke="#777" stroke-width="0.4"/>
<rect x="113.2" y="198.6" width="14.8" height="3.6" fill="#ea4a24" filter="url(#b1)"/>
<rect x="113.2" y="199.4" width="8.4" height="2.8" fill="#f08a1c" filter="url(#b1)"/>
<rect x="128" y="199.6" width="8.8" height="2.1" fill="#fad6d0" filter="url(#b1)"/>
<path d="M127.8,174.2h0.6M130.5,191h0.6M122.6,189.1h0.6M122.3,182.9h0.6M118.8,196.2h0.6M117.7,196.2h0.6M119.3,177.6h0.6M126.3,196.5h0.6M130.8,182.3h0.6M122.8,178.4h0.6M129.2,186.5h0.6M128.3,192.5h0.6M120.9,181.5h0.6M129,176.2h0.6M129.6,190h0.6M122.2,176.6h0.6M127.2,193h0.6M122.4,175.4h0.6M121.5,196.1h0.6M119.9,177.2h0.6M131.6,191.1h0.6M117.2,176.2h0.6M120.5,178.7h0.6M118.7,186.2h0.6M118.5,180.9h0.6M130.8,198.5h0.6M130.8,174.8h0.6M120.9,174.8h0.6M132,198.8h0.6M124.4,191.9h0.6M125.7,177.3h0.6M117.9,174.9h0.6M116,182.6h0.6M129.3,182.9h0.6M125.4,190.9h0.6M124.5,189.2h0.6M124.9,175.9h0.6M128.4,183h0.6M125,196.7h0.6M129.3,187.6h0.6M119.5,183.5h0.6M132.3,191.6h0.6M129.3,193.1h0.6M129.3,195.2h0.6M124.4,189.4h0.6M126,180.5h0.6M121.5,174.7h0.6M129.6,193.3h0.6M120.7,189.1h0.6M123.5,183.5h0.6M123.5,188.9h0.6M133,190.4h0.6M125.9,177h0.6M123.8,193.2h0.6M132.9,185.3h0.6M123.4,173h0.6M128,176.4h0.6M126.8,197.6h0.6M124.2,174.7h0.6M128.6,186.7h0.6M127.1,185.9h0.6M126.4,194.5h0.6M132.1,183.2h0.6M126.6,177.7h0.6M128.7,182.7h0.6M131.3,175.3h0.6M116.3,181.7h0.6M121.9,179.5h0.6M121.2,172.4h0.6M127.7,183.4h0.6" stroke="#f08a80" stroke-width="0.6" opacity="1.0" fill="none"/>
<text x="141.8" y="165.1" font-size="6.1" font-weight="bold" text-anchor="start" fill="#111"  textLength="44.9" lengthAdjust="spacingAndGlyphs">R16 = 40.2 ± 4.3%</text>
<path d="M119.8,201.6 l-3,4 h1.9 v2.4 h2.2 v-2.4 h1.9 z" fill="#1a2ad8"/>
<text x="107.5" y="215.9" font-size="6" font-weight="bold" text-anchor="start" fill="#111"  textLength="20.2" lengthAdjust="spacingAndGlyphs">G<tspan font-size="3.6" dy="1">0</tspan><tspan dy="-1"> (R17)</tspan></text>
<rect x="152.2" y="171.8" width="29.4" height="30.8" fill="none" stroke="#aaa" stroke-width="0.6"/>
<path d="M150.6,171.8h1.6M151.4,173.4h0.8M151.4,175h0.8M151.4,176.7h0.8M151.4,178.3h0.8M150.6,179.9h1.6M151.4,181.5h0.8M151.4,183.1h0.8M151.4,184.8h0.8M151.4,186.4h0.8M150.6,188h1.6M151.4,189.6h0.8M151.4,191.3h0.8M151.4,192.9h0.8M151.4,194.5h0.8M150.6,196.1h1.6M151.4,197.7h0.8M151.4,199.4h0.8M151.4,201h0.8M151.4,202.6h0.8M152.2,202.6v1.6M153.8,202.6v0.8M155.5,202.6v0.8M157.1,202.6v0.8M158.7,202.6v0.8M160.4,202.6v1.6M162,202.6v0.8M163.6,202.6v0.8M165.3,202.6v0.8M166.9,202.6v0.8M168.5,202.6v1.6M170.2,202.6v0.8M171.8,202.6v0.8M173.4,202.6v0.8M175.1,202.6v0.8M176.7,202.6v1.6M178.3,202.6v0.8M180,202.6v0.8M181.6,202.6v0.8" stroke="#aaa" stroke-width="0.4" fill="none"/>
<polyline points="160.6,172.8 160.6,192.4 181.6,192.4" fill="none" stroke="#999" stroke-width="0.5"/>
<ellipse cx="161" cy="181" rx="8" ry="4" fill="#f9c8c4" filter="url(#b2)"/>
<ellipse cx="157.6" cy="183.2" rx="4.2" ry="1.9" fill="#dc1c1c" filter="url(#b1)"/>
<ellipse cx="162.8" cy="181.6" rx="2.6" ry="1.7" fill="#e43030" filter="url(#b1)"/>
<ellipse cx="166.8" cy="178.4" rx="2" ry="3" fill="#e83838" filter="url(#b1)" transform="rotate(25 166.8 178.4)"/>
<path d="M169,186.6 l-3.2,4 h1.8 v4.8 h2.8 v-4.8 h1.8 z" fill="#fff" stroke="#111" stroke-width="1"/>
<text x="157.4" y="200.9" font-size="5.0" font-weight="bold" text-anchor="start" fill="#111"  textLength="22.2" lengthAdjust="spacingAndGlyphs">7AAD (R16)</text>
<rect x="194.6" y="171.6" width="34.2" height="31.2" fill="none" stroke="#aaa" stroke-width="0.6"/>
<path d="M193,171.6h1.6M193.8,173.2h0.8M193.8,174.9h0.8M193.8,176.5h0.8M193.8,178.2h0.8M193,179.8h1.6M193.8,181.5h0.8M193.8,183.1h0.8M193.8,184.7h0.8M193.8,186.4h0.8M193,188h1.6M193.8,189.7h0.8M193.8,191.3h0.8M193.8,192.9h0.8M193.8,194.6h0.8M193,196.2h1.6M193.8,197.9h0.8M193.8,199.5h0.8M193.8,201.2h0.8M193.8,202.8h0.8M194.6,202.8v1.6M196.2,202.8v0.8M197.9,202.8v0.8M199.5,202.8v0.8M201.1,202.8v0.8M202.7,202.8v1.6M204.4,202.8v0.8M206,202.8v0.8M207.6,202.8v0.8M209.3,202.8v0.8M210.9,202.8v1.6M212.5,202.8v0.8M214.1,202.8v0.8M215.8,202.8v0.8M217.4,202.8v0.8M219,202.8v1.6M220.7,202.8v0.8M222.3,202.8v0.8M223.9,202.8v0.8M225.5,202.8v0.8M227.2,202.8v1.6M228.8,202.8v0.8" stroke="#aaa" stroke-width="0.4" fill="none"/>
<polygon points="203.1,172.2 210.2,172.2 215,196.5 205.5,198" fill="#f8c2b8" filter="url(#b1)"/>
<polygon points="197.6,172.2 203.6,172.2 206,198 200.6,198" fill="url(#rg2)" filter="url(#b1)"/>
<path d="M205.5,181.3h0.7M208.7,178h0.7M209.2,196.5h0.7M209.2,177.8h0.7M205.3,182.3h0.7M208.6,175.5h0.7M209.9,193.1h0.7M208,184.3h0.7M210.9,178h0.7M208.2,181.3h0.7M211.9,193.3h0.7M206,184.3h0.7M205.3,186.3h0.7M207.4,193.7h0.7M206.8,194.1h0.7M205.5,181.9h0.7M205.2,183.2h0.7M207.7,172.3h0.7M205.2,179.5h0.7M206.8,180h0.7M208.5,183.3h0.7M207,189.2h0.7M212.8,196.2h0.7M208.8,173.7h0.7M211.9,195.6h0.7M209.2,175.8h0.7M205.1,188.5h0.7M209.8,172.5h0.7M206.2,189.1h0.7M204.2,174.8h0.7M209.1,178.2h0.7M204.9,181.1h0.7M211.9,195.5h0.7M209.9,176.5h0.7M210.6,187.9h0.7M212.1,189.4h0.7M212,192.5h0.7M208.2,177.3h0.7M209.9,185.9h0.7M211,183.5h0.7M206,186.5h0.7M204.5,178.2h0.7M204.9,184.9h0.7M205.1,184.3h0.7M207.5,184.9h0.7M211.2,186.1h0.7M208.7,172.4h0.7M208,184.3h0.7M211.5,189.4h0.7M206.5,181.9h0.7M206.1,197h0.7M209.3,188.6h0.7M206.8,172.9h0.7M212.6,189.8h0.7M211.6,180.7h0.7" stroke="#e0402a" stroke-width="0.7" opacity="0.9" fill="none"/>
<path d="M207.1,185.4h0.7M203.5,195.4h0.7M209.5,190.7h0.7M210.4,180.9h0.7M206.4,181.6h0.7M210.2,185.8h0.7M205.3,177.6h0.7M207.5,183.1h0.7M206.2,193.5h0.7M207.5,193.6h0.7M204.7,185.2h0.7M212.4,185.3h0.7M211,189.1h0.7M204.6,180.7h0.7M207.3,179.9h0.7M210.9,188.6h0.7M207.6,173.2h0.7M209.3,195h0.7M203.3,173.5h0.7M202.1,172.4h0.7M210.2,196h0.7M211,189.2h0.7M210.1,195.7h0.7M209.1,188.1h0.7M209.1,190.2h0.7M204.8,189.8h0.7M207.4,189.4h0.7M203.8,191.9h0.7M201.1,176.9h0.7M213,192.2h0.7M206.4,189.1h0.7M211.7,193.4h0.7M204.8,186.7h0.7M205.6,180h0.7M205.7,180.4h0.7M212.6,188.8h0.7M206.1,173.6h0.7M201.5,173.2h0.7M209.3,193.1h0.7M208.3,195.9h0.7M204.1,172.6h0.7M212.4,187.5h0.7M208.9,197.5h0.7M202.6,182.8h0.7M204.6,188.8h0.7M200.8,176.1h0.7M207,172.3h0.7M210.4,175.3h0.7M209.3,174.5h0.7M200.7,175.5h0.7" stroke="#fde8e4" stroke-width="0.7" opacity="0.9" fill="none"/>
<polyline points="197,171.6 210.2,171.6 215,196.5" fill="none" stroke="#777" stroke-width="0.4"/>
<rect x="195.8" y="198.6" width="18" height="4.2" fill="#ea4a24" filter="url(#b1)"/>
<rect x="195.8" y="199.4" width="12.6" height="3.4" fill="#f08a1c" filter="url(#b1)"/>
<rect x="213.8" y="199.6" width="7.5" height="2.7" fill="#fad6d0" filter="url(#b1)"/>
<path d="M203.3,190.8h0.6M202.3,191.1h0.6M210.4,173.5h0.6M214.9,190.6h0.6M200.4,191h0.6M211.8,188.4h0.6M215.2,184.1h0.6M214.8,178.8h0.6M199,190.7h0.6M208.1,172.6h0.6M200.6,193.3h0.6M210.8,180.2h0.6M212.5,176.5h0.6M199.2,184.7h0.6M208.2,181.7h0.6M210.4,183.5h0.6M211.3,175.9h0.6M209.5,181.6h0.6M206.3,188.4h0.6M212.1,182.2h0.6M214.6,196.6h0.6M203.7,186.8h0.6M214,173.8h0.6M214.3,190.3h0.6M208.6,180.8h0.6M215.6,197.4h0.6M204.2,187.7h0.6M214.2,183.3h0.6M210.2,181.9h0.6M215.1,187.7h0.6M204.4,193h0.6M201.2,172.2h0.6M208.6,183.1h0.6M216,193.3h0.6M211.5,173.3h0.6M215.6,193.1h0.6M203.4,187h0.6M214.6,194.2h0.6M215.9,189.9h0.6M199.2,181.1h0.6M213.1,186.5h0.6M210.7,177.4h0.6M203.9,196.2h0.6M211.1,187.9h0.6M201.8,184.2h0.6M210.9,178.8h0.6M207.7,192.6h0.6M211.2,174.5h0.6M203.3,192.1h0.6M215.1,187.2h0.6M209.3,195h0.6M208.9,184.5h0.6M200.6,177.1h0.6M209.7,176.9h0.6M208,181.6h0.6M207.3,182.6h0.6M197.8,176h0.6M206.8,197.9h0.6M208.2,174.9h0.6M201.9,192.5h0.6M204.8,187.6h0.6M198.5,185.6h0.6M214.2,173.1h0.6M208.5,194.5h0.6M203.2,186.8h0.6M207,192.3h0.6M214.3,196.6h0.6M217.4,193.3h0.6M198,178.8h0.6M200.4,177.4h0.6" stroke="#f08a80" stroke-width="0.6" opacity="1.0" fill="none"/>
<text x="226.8" y="165.1" font-size="6.1" font-weight="bold" text-anchor="start" fill="#111"  textLength="41.9" lengthAdjust="spacingAndGlyphs">R16=51.3 ± 5.6%</text>
<path d="M203.6,201.6 l-3,4 h1.9 v2.4 h2.2 v-2.4 h1.9 z" fill="#1a2ad8"/>
<text x="192.8" y="215.9" font-size="6" font-weight="bold" text-anchor="start" fill="#111"  textLength="20.2" lengthAdjust="spacingAndGlyphs">G<tspan font-size="3.6" dy="1">0</tspan><tspan dy="-1"> (R17)</tspan></text>
<rect x="233.4" y="171.8" width="31.6" height="30.8" fill="none" stroke="#aaa" stroke-width="0.6"/>
<path d="M231.8,171.8h1.6M232.6,173.4h0.8M232.6,175h0.8M232.6,176.7h0.8M232.6,178.3h0.8M231.8,179.9h1.6M232.6,181.5h0.8M232.6,183.1h0.8M232.6,184.8h0.8M232.6,186.4h0.8M231.8,188h1.6M232.6,189.6h0.8M232.6,191.3h0.8M232.6,192.9h0.8M232.6,194.5h0.8M231.8,196.1h1.6M232.6,197.7h0.8M232.6,199.4h0.8M232.6,201h0.8M232.6,202.6h0.8M233.4,202.6v1.6M235.1,202.6v0.8M236.7,202.6v0.8M238.4,202.6v0.8M240.1,202.6v0.8M241.7,202.6v1.6M243.4,202.6v0.8M245,202.6v0.8M246.7,202.6v0.8M248.4,202.6v0.8M250,202.6v1.6M251.7,202.6v0.8M253.4,202.6v0.8M255,202.6v0.8M256.7,202.6v0.8M258.3,202.6v1.6M260,202.6v0.8M261.7,202.6v0.8M263.3,202.6v0.8M265,202.6v0.8" stroke="#aaa" stroke-width="0.4" fill="none"/>
<polyline points="242.2,172.8 242.2,193 265,193" fill="none" stroke="#999" stroke-width="0.5"/>
<polygon points="234,185.5 234,181.5 247,177 248.5,181" fill="#f06a5a" filter="url(#b1)"/>
<polygon points="238,183.5 238,181.5 246,178.5 247,180.5" fill="#e83a2a" filter="url(#b1)"/>
<ellipse cx="248.6" cy="179.2" rx="2.8" ry="2.6" fill="#e41c1c" filter="url(#b1)"/>
<path d="M252.6,186.6 l-3.2,4 h1.8 v4.8 h2.8 v-4.8 h1.8 z" fill="#fff" stroke="#111" stroke-width="1"/>
<text x="241" y="200.9" font-size="5.0" font-weight="bold" text-anchor="start" fill="#111"  textLength="22.2" lengthAdjust="spacingAndGlyphs">7AAD (R16)</text>
<rect x="321" y="20.4" width="83" height="46.9" fill="none" stroke="#777" stroke-width="0.6"/>
<path d="M319.4,20.4h1.6M320.2,22h0.8M320.2,23.6h0.8M320.2,25.3h0.8M320.2,26.9h0.8M319.4,28.5h1.6M320.2,30.1h0.8M320.2,31.7h0.8M320.2,33.3h0.8M320.2,35h0.8M319.4,36.6h1.6M320.2,38.2h0.8M320.2,39.8h0.8M320.2,41.4h0.8M320.2,43h0.8M319.4,44.7h1.6M320.2,46.3h0.8M320.2,47.9h0.8M320.2,49.5h0.8M320.2,51.1h0.8M319.4,52.7h1.6M320.2,54.4h0.8M320.2,56h0.8M320.2,57.6h0.8M320.2,59.2h0.8M319.4,60.8h1.6M320.2,62.4h0.8M320.2,64.1h0.8M320.2,65.7h0.8M320.2,67.3h0.8M321,67.3v1.6M322.6,67.3v0.8M324.3,67.3v0.8M325.9,67.3v0.8M327.5,67.3v0.8M329.1,67.3v1.6M330.8,67.3v0.8M332.4,67.3v0.8M334,67.3v0.8M335.6,67.3v0.8M337.3,67.3v1.6M338.9,67.3v0.8M340.5,67.3v0.8M342.2,67.3v0.8M343.8,67.3v0.8M345.4,67.3v1.6M347,67.3v0.8M348.7,67.3v0.8M350.3,67.3v0.8M351.9,67.3v0.8M353.5,67.3v1.6M355.2,67.3v0.8M356.8,67.3v0.8M358.4,67.3v0.8M360.1,67.3v0.8M361.7,67.3v1.6M363.3,67.3v0.8M364.9,67.3v0.8M366.6,67.3v0.8M368.2,67.3v0.8M369.8,67.3v1.6M371.5,67.3v0.8M373.1,67.3v0.8M374.7,67.3v0.8M376.3,67.3v0.8M378,67.3v1.6M379.6,67.3v0.8M381.2,67.3v0.8M382.8,67.3v0.8M384.5,67.3v0.8M386.1,67.3v1.6M387.7,67.3v0.8M389.4,67.3v0.8M391,67.3v0.8M392.6,67.3v0.8M394.2,67.3v1.6M395.9,67.3v0.8M397.5,67.3v0.8M399.1,67.3v0.8M400.7,67.3v0.8M402.4,67.3v1.6M404,67.3v0.8" stroke="#777" stroke-width="0.4" fill="none"/>
<polygon points="340,40 350,22 398,21 400,34 388,44 360,42" fill="#ececec" filter="url(#b2)" opacity="1.0"/>
<path d="M369.9,42h0.7M393.4,21.6h0.7M353,31.1h0.7M379.3,30.3h0.7M358,27.2h0.7M384.7,41.5h0.7M376.5,39.2h0.7M354.5,24h0.7M354.2,24.1h0.7M386.4,26.3h0.7M351.2,33.3h0.7M389.2,35.9h0.7M388.8,31.4h0.7M356.7,31.5h0.7M391.2,30.2h0.7M362.2,44.5h0.7M378.9,26h0.7M352.4,29.1h0.7M393.6,21.1h0.7M388.5,28.9h0.7M390.6,34.6h0.7M394,25.7h0.7M350.6,37.8h0.7M376.4,33.4h0.7M377.5,35.4h0.7M352,21h0.7M383.8,21h0.7M390.3,40.9h0.7M395.4,31.1h0.7M350.6,40.8h0.7M364.1,34.7h0.7M368.5,34.5h0.7M388,43h0.7M365.7,39.4h0.7M395.4,32.2h0.7M398.3,26.8h0.7M355.7,39.9h0.7M384,25.7h0.7M374.4,32.4h0.7M392.9,37.7h0.7M369.5,33.3h0.7M361.8,22.5h0.7M348.8,33.3h0.7M388.4,43.6h0.7M387.6,35.3h0.7M386.7,30.1h0.7M389.4,39.3h0.7M354,29.7h0.7M370.2,23.3h0.7M397.3,32.7h0.7M392.3,20.9h0.7M377.4,26.4h0.7M375.7,26.6h0.7M396.3,29.6h0.7M349,34.2h0.7M355.3,31.5h0.7M357.3,31.4h0.7M346.4,31.8h0.7M374.9,38.2h0.7M366.4,32.5h0.7M358.9,28.3h0.7M364.4,34.6h0.7M390.1,25.9h0.7M358,39.2h0.7M393.7,31.7h0.7M367.2,38.6h0.7M347.9,30.6h0.7M377.8,38.9h0.7M384.4,36.4h0.7M387.8,36.9h0.7M382.1,34.5h0.7M375,27.6h0.7M374.9,30.2h0.7M381.9,28.9h0.7M363.7,25.6h0.7M370.5,32.4h0.7M348.1,33.9h0.7M396.8,26.1h0.7M394.6,27.2h0.7M376.2,31.2h0.7M370.5,31.5h0.7M359.3,37.6h0.7M381.8,33.9h0.7M361.3,32.5h0.7M395.9,33h0.7M372.4,40.9h0.7M372.6,22.1h0.7M394,31.7h0.7M371.1,33.5h0.7M374.9,38.7h0.7M375.9,23.4h0.7M359.7,36.9h0.7M390,33.6h0.7M369.7,35.9h0.7M375.1,31.1h0.7M386.3,24h0.7M369.3,38.2h0.7M385.9,27.1h0.7M352.8,29h0.7M373.5,29.5h0.7M366.4,35.7h0.7M359.4,40.5h0.7M372.5,43.2h0.7M354.4,28.9h0.7M355.9,41.4h0.7M354,25.7h0.7M397.6,27.4h0.7M371.6,30.2h0.7M346.7,40.9h0.7M351.5,27.9h0.7M381.2,30.8h0.7M387.4,24.9h0.7M386.8,26.6h0.7M369.5,26.5h0.7M384,25.8h0.7M361.3,26h0.7M390.5,23.7h0.7M354.6,40.2h0.7M373.6,28.6h0.7M349.7,42.6h0.7M345.4,35.3h0.7M357.4,23.5h0.7M347.3,39h0.7M350.2,27.8h0.7M377.9,30.2h0.7M382.8,25.6h0.7M380.2,27.4h0.7M384.5,37.5h0.7M349.2,26.9h0.7M379.3,23.5h0.7M380.9,27.8h0.7M390,39.3h0.7M392.3,35.3h0.7M347.5,42.4h0.7M384.5,21.6h0.7M384.7,40.7h0.7M398.9,29.8h0.7M383.2,38.9h0.7M341.6,37.8h0.7M395.7,23.5h0.7M382,41.4h0.7M374,27.3h0.7M364.4,26.4h0.7M382.5,37.5h0.7M372.2,30.7h0.7M359.2,42.8h0.7M357.6,39h0.7M348.8,35.4h0.7M386.9,40.9h0.7M362.8,26.2h0.7M351.1,37.4h0.7M358.9,32.5h0.7M347,37.3h0.7M345.6,32.6h0.7M392.7,33.3h0.7M379.2,27.6h0.7M342.3,37.7h0.7M353.1,32.8h0.7M351.3,36.9h0.7M360.2,24.1h0.7M360.2,35.7h0.7M352.4,21.1h0.7M392.2,35.2h0.7M370.4,33.5h0.7M374.5,22h0.7M366.4,25.3h0.7M390.8,39.1h0.7M355.4,36.1h0.7M358.9,28.7h0.7M393.8,26.3h0.7M374,29.6h0.7M362.7,31h0.7M397.9,34.8h0.7M380,36.9h0.7M396.4,31h0.7M361.6,41.5h0.7M382.6,32.4h0.7M360.7,35.3h0.7M374.6,30.7h0.7M395.7,35.5h0.7M354.1,23h0.7M369.6,35.7h0.7M346.3,32.5h0.7M361.7,23.8h0.7M373.1,36.7h0.7M345.4,40.7h0.7M397.7,33.1h0.7M386.7,23.8h0.7M352.4,26.4h0.7M394.7,33.9h0.7M348.7,40.3h0.7M381.9,41h0.7M384.2,42.4h0.7M373.7,22.5h0.7M381.1,28.4h0.7M390.5,34.6h0.7M347.4,41.2h0.7M356.8,37.4h0.7M391.5,30.9h0.7M396.5,22h0.7M370.2,40.7h0.7M350.3,38.5h0.7M369.4,23.4h0.7M393.6,35.7h0.7M376,23.2h0.7M367,35.2h0.7M380,29h0.7M352,33.4h0.7M375.4,36.9h0.7M377.2,36.5h0.7M389.8,40.2h0.7M358.1,36.8h0.7M376.7,28.6h0.7M368.9,30.5h0.7M364,24.3h0.7M366,30.7h0.7M349.7,23.7h0.7M384.9,33.2h0.7M396.1,34.9h0.7M358.7,40.1h0.7M393.9,27.7h0.7M349.6,26.2h0.7M361.6,23.8h0.7M378.5,21.7h0.7M361.2,25.9h0.7M393.4,35.2h0.7M358.7,37h0.7M382.2,29.3h0.7M341.8,36.9h0.7M375.6,27h0.7M396,33.9h0.7M376.5,38.2h0.7M349.4,23.6h0.7M386.9,30.3h0.7M372.2,35.3h0.7M383.9,24.5h0.7M387.1,24h0.7M363.7,26.9h0.7M368.8,34.7h0.7M386.2,23.2h0.7M374.6,24.7h0.7M348.7,21.7h0.7M388.4,26.4h0.7M378.7,27.3h0.7M361.3,43.3h0.7M341.5,37.6h0.7M340.8,35.8h0.7M396.9,36.6h0.7M355.9,32h0.7M384.1,40.4h0.7M354.7,36.6h0.7M392.2,24.4h0.7M353.8,28.9h0.7M348.3,35.8h0.7M375.5,44.3h0.7M362.2,38.2h0.7M349.8,38.5h0.7M379.2,25.9h0.7M383.4,41.2h0.7M353.9,38.8h0.7M369.6,26.6h0.7M360.2,42.4h0.7M349.1,32.9h0.7M348.1,38h0.7M362.4,31.7h0.7M392.9,38.7h0.7M357.6,23.1h0.7M364.3,34h0.7M379.5,35.5h0.7M391.4,38.3h0.7M362.5,30.3h0.7M376.4,44.4h0.7M362.9,27.2h0.7M391,38.8h0.7M380.5,27h0.7M387.1,30.1h0.7M354,34h0.7M380.7,29.7h0.7M379.3,27h0.7M353.1,38.4h0.7M366.7,37.4h0.7M354.9,23.5h0.7M371.9,32.1h0.7M348.3,40.4h0.7M389.9,41.2h0.7M363.2,39.4h0.7M350.4,27.6h0.7M387.6,33.2h0.7M379,31.7h0.7M384.9,23.1h0.7M370.3,27.5h0.7M352.9,34.5h0.7M382.6,28.3h0.7M388.1,20.9h0.7M352.6,28.7h0.7M361,22.5h0.7M380.9,29h0.7M387.2,30.4h0.7M397.8,25h0.7M362.1,36.8h0.7M383.6,29.4h0.7M396.1,38.7h0.7M368.6,30.3h0.7M366.8,42.1h0.7M369.5,37.8h0.7M386.9,39.4h0.7M345.1,40.2h0.7M387.3,34.7h0.7M384.8,32.9h0.7M367.8,34.4h0.7M391.4,25.9h0.7M356,28.1h0.7M390,33.7h0.7M392.7,38.5h0.7M350.7,21.9h0.7M366.6,31.5h0.7M389.8,24.7h0.7M370.8,29.9h0.7M355.8,41.6h0.7M384.8,35.6h0.7M368.2,41.8h0.7M378.7,21.7h0.7M377.5,24.2h0.7M387,30.5h0.7M358.1,25.1h0.7M395.6,26.2h0.7M385.2,44h0.7M383.3,25.4h0.7M342.2,41.3h0.7M374.1,28h0.7M395.2,27.7h0.7M387.7,43.8h0.7M363.1,37.6h0.7M345.4,30.1h0.7M381.1,23h0.7M396,34.4h0.7M385.6,32.1h0.7M367.6,39.8h0.7M356.9,40.7h0.7M378.6,23.6h0.7M356,40.5h0.7M357.3,22.4h0.7M371.7,38.2h0.7M347.2,37.3h0.7M360.7,28.9h0.7M361.1,39.1h0.7M390.9,23.7h0.7M348,33.4h0.7M370.9,30.9h0.7M352.4,27h0.7M373.7,41.8h0.7M367.2,38.2h0.7M354.4,39.2h0.7M371.6,27.3h0.7M372.5,24.9h0.7M382.7,24.5h0.7M377.6,35.7h0.7M388.8,31.5h0.7M395.9,30.8h0.7M354.3,37.1h0.7M361,25.2h0.7M369.4,29.2h0.7M385.7,37.6h0.7M392.7,40.4h0.7M363.1,24.3h0.7M386.4,21h0.7M395.6,35.8h0.7M376.6,28.7h0.7M394,27.4h0.7M399.3,23.1h0.7M355.2,41.3h0.7M364.2,26.6h0.7M379.1,39h0.7M390.2,35.7h0.7M361.7,32.4h0.7M387.4,29.6h0.7M358.4,28.2h0.7M378.2,28.3h0.7M380.6,28.9h0.7M349.9,37.4h0.7M352.4,26.9h0.7M375.2,42.6h0.7M398.3,32.6h0.7M389.8,24.7h0.7M367.3,41h0.7M347.2,32.3h0.7M395.5,37.3h0.7M360.7,35.1h0.7M372.8,35.6h0.7M342.6,38.5h0.7M368.7,36.7h0.7M384.6,22.5h0.7M348.3,34.3h0.7M362.8,37.2h0.7M384.2,27.3h0.7M385.5,39.2h0.7M382.4,37.8h0.7M374.9,38.7h0.7M349,32.2h0.7M384.1,25.4h0.7M361.6,29h0.7M352.2,27.8h0.7M360.2,31.8h0.7M364.8,29.6h0.7M365.3,38.3h0.7M359,22.8h0.7M373.5,35.2h0.7M360.5,41.9h0.7M377.9,26.5h0.7M387.4,36.9h0.7M357.6,27.4h0.7M382.9,38h0.7M344.3,25h0.7M378.3,35.4h0.7" stroke="#bdbdbd" stroke-width="0.7" opacity="0.8" fill="none"/>
<polygon points="321,67 321,50 328,47 337,41.7 344,34.3 349,29 351,25.4 354,23.5 356,30 356,67" fill="#cdcdcd" filter="url(#b1)" opacity="1.0"/>
<path d="M353.4,56.6h0.8M350,40.6h0.8M338.6,44.3h0.8M337.9,59.4h0.8M334.8,50.4h0.8M349.5,61.2h0.8M349.1,44h0.8M345.8,57.6h0.8M325.2,52.8h0.8M342,60h0.8M345,65h0.8M351.8,37.7h0.8M342.2,59.1h0.8M342.4,39.4h0.8M329.1,59.9h0.8M351,47.2h0.8M342.2,54.5h0.8M339.2,51.1h0.8M356.7,58.3h0.8M336.6,52.1h0.8M326.7,55.4h0.8M328.2,54.9h0.8M342.2,53.7h0.8M353.9,61.9h0.8M327.6,51h0.8M333.8,61.6h0.8M323.4,57.9h0.8M351.1,58.3h0.8M340.9,46.3h0.8M355.2,41.5h0.8M349.5,60.2h0.8M328.4,49.1h0.8M349.8,57.8h0.8M352.9,47.1h0.8M341.4,62.1h0.8M353.8,41h0.8M335.9,47.8h0.8M344.6,56h0.8M346.6,45.7h0.8M347.5,58.1h0.8M355.5,58.5h0.8M329.7,65.5h0.8M354.2,50.9h0.8M355.8,56.1h0.8M326.4,56.3h0.8M337.1,49.5h0.8M349.5,58.9h0.8M354.9,47.6h0.8M346.8,60.1h0.8M342.2,66h0.8M344.1,49.4h0.8M333.9,48.3h0.8M348.3,57.2h0.8M343,61.3h0.8M325.8,65.1h0.8M356.9,51.2h0.8M350.3,66h0.8M351.2,65.1h0.8M348.5,61h0.8M324.1,60.7h0.8M334.4,46.7h0.8M337.3,51.2h0.8M334.3,60.8h0.8M331.8,63h0.8M345,51.9h0.8M322.2,54.3h0.8M353.5,50.7h0.8M341.8,54.1h0.8M354.7,55.1h0.8M345.1,42.4h0.8M353.8,38.2h0.8M351.1,31.9h0.8M345.1,35.6h0.8M352,29.3h0.8M354.6,39.1h0.8M323.3,62.5h0.8M334.9,56.3h0.8M329.5,59.1h0.8M348,33.9h0.8M343.7,43.8h0.8M344.3,60.1h0.8M337.5,54.7h0.8M334.8,43.4h0.8M348.8,46.1h0.8M352.2,27.9h0.8M351.9,33.1h0.8M353.3,43.2h0.8M327.9,52.7h0.8M355.5,44.6h0.8M345,46.1h0.8M347,48h0.8M343.3,53.3h0.8M354.7,55h0.8M352.8,32.7h0.8M352.6,27.3h0.8M325.7,54.9h0.8M337.5,53.2h0.8M335.8,64.9h0.8M351.3,32.3h0.8M328.5,66.2h0.8M334,52.7h0.8M328,59.5h0.8M341.1,55h0.8M325.5,65.7h0.8M339.5,48.6h0.8M339.7,44.3h0.8M344.9,60.7h0.8M356.1,41.9h0.8M353.8,62h0.8M350,57.6h0.8M344.7,47h0.8M356.6,32.9h0.8M345.3,35.6h0.8M340.8,53.7h0.8M342,42.4h0.8M344.3,53.8h0.8M354.7,58.7h0.8M352.4,33.9h0.8M352.4,32.7h0.8M344.7,57.4h0.8M353,49.8h0.8M334.1,63.5h0.8M342.7,48.6h0.8M327.6,57.6h0.8M351,48h0.8M346.5,35.4h0.8M327.8,53.8h0.8M330.5,54.4h0.8M325.6,64h0.8M332.3,47.2h0.8M342.7,55.6h0.8M345.9,38.4h0.8M354.1,48.1h0.8M345.1,39.6h0.8M350,59.1h0.8M328.3,52.6h0.8M344.6,48.6h0.8M341.2,55.3h0.8M341.8,52.1h0.8M344.6,35.4h0.8M347.5,57h0.8M348.2,38.4h0.8M323.2,50.2h0.8M353,61.8h0.8M346.1,46.1h0.8M345.2,57.8h0.8M353.1,63.8h0.8M336.9,51.5h0.8M356.1,63.9h0.8M344.2,37.2h0.8M348.8,43h0.8M325.1,65.7h0.8M350.9,32.4h0.8M354.9,30.2h0.8M349.7,63.3h0.8M337.2,54.1h0.8M329.2,66.3h0.8M356.2,29.3h0.8M326.7,56.4h0.8M336.5,58.3h0.8M355.4,36.2h0.8M327.7,63.8h0.8M352.1,58.6h0.8M348.9,64.9h0.8M348.9,33.7h0.8M349.5,29.1h0.8M350.8,36.9h0.8M353.3,28.9h0.8M346.6,52.5h0.8M339.2,44.8h0.8M348.6,62.2h0.8M349.2,33.5h0.8M346,32.4h0.8M348.6,66.3h0.8M353.6,43h0.8M331.5,61.3h0.8M340.4,59.4h0.8M335.2,61.2h0.8M356.1,55.3h0.8M335.7,54.9h0.8M339.6,58.3h0.8M329,55.2h0.8M346.1,64.8h0.8M333,56.5h0.8M340.1,54.5h0.8M356.2,47.3h0.8M353,45.5h0.8M333.7,63.9h0.8M340.6,61.1h0.8M338.4,63.9h0.8M341.9,59.1h0.8M335.3,45.9h0.8M346.2,56.8h0.8M342.5,64.1h0.8M345.9,54.6h0.8M330.8,59.8h0.8M354.4,43h0.8M349.6,53.8h0.8M343,37.3h0.8M332.5,46.5h0.8M334,66h0.8M344.8,66.1h0.8M346.3,42.2h0.8M349.9,56.3h0.8M352.4,41.3h0.8M340.2,49.9h0.8M349.5,57.1h0.8M331.9,64.3h0.8M353.3,58.5h0.8M336.4,46.7h0.8M334.5,46h0.8M334.7,49.2h0.8M332.9,63h0.8M333.5,60.5h0.8M323.5,59.1h0.8M348.7,53.5h0.8M342.2,64.8h0.8M346.8,61.1h0.8M349.3,54.7h0.8M346.2,51.3h0.8M326.1,47.7h0.8M332.7,66.5h0.8M354.9,66.2h0.8M334.4,56h0.8M335.4,57.4h0.8M351.3,50.5h0.8M355.1,60.2h0.8M336.2,53.6h0.8M350.3,46h0.8M334,51.9h0.8M337.5,64.6h0.8M342,37.8h0.8M353.1,56.2h0.8M355,55h0.8M331.3,51.7h0.8M354.8,26.4h0.8M324.3,55.6h0.8M341.9,41.9h0.8M351.4,42h0.8M347.5,52.4h0.8M345.8,32.2h0.8M337.3,62.3h0.8M336.5,46.8h0.8M335,62.5h0.8M355.6,46.5h0.8M343.3,41.7h0.8M324.2,60.4h0.8M336.9,42.3h0.8M333.2,64.6h0.8M350,29.8h0.8M353.7,43.4h0.8M354.1,32.4h0.8M354.1,56.1h0.8M352.7,44.1h0.8M349.2,52.4h0.8M339.4,58.8h0.8M325.7,52.9h0.8M337.4,45.9h0.8M339.9,56.3h0.8M354.8,38.8h0.8M326.9,48.6h0.8M344.5,47.5h0.8M332.8,63.9h0.8M350.3,53.7h0.8M349.4,50.5h0.8M355.7,52.9h0.8M354.8,37.1h0.8M334,61.8h0.8M329.1,61.1h0.8M329.5,61.7h0.8M354.7,40.8h0.8M336.8,51.4h0.8M355.4,50.1h0.8M345.1,49.1h0.8M342.2,59.3h0.8M340,48.5h0.8M347.8,33.4h0.8M346.9,31.5h0.8M338,44.8h0.8M323.3,52.1h0.8M338.9,64.8h0.8M352.3,54.5h0.8M351.4,52.9h0.8M346.4,54.6h0.8M344.2,42h0.8M334.5,53.7h0.8M356.6,64.2h0.8M344.7,44.3h0.8M353.1,59h0.8M342.6,52.5h0.8M322.7,54.1h0.8M340.5,56.2h0.8M333.4,57.2h0.8M325.1,54h0.8M326.3,61h0.8M334.6,52.7h0.8M334.3,61.5h0.8M353.7,56.7h0.8M356.2,51.1h0.8M333.5,45.3h0.8M338.3,41.2h0.8M348.2,52.9h0.8M328.7,63.7h0.8M344.2,59.3h0.8M333.5,55.7h0.8M328.3,56.4h0.8M343.2,54h0.8M353.4,44h0.8M348.9,33.9h0.8M347.9,55.6h0.8M347.1,60.8h0.8M332.2,66.4h0.8M331.4,62.9h0.8M350.2,62.5h0.8M349.6,41.3h0.8M333.3,57.9h0.8M328.6,60.3h0.8M341.4,48.7h0.8M331.4,50.8h0.8M335.9,64.7h0.8M329.5,62.1h0.8M348.7,60.5h0.8M338.7,66.8h0.8M329.3,48.8h0.8M340.3,39.9h0.8M327.2,57.4h0.8M346.2,45.9h0.8M337.5,46.4h0.8M327.8,62.4h0.8M342.4,48.4h0.8M355.5,40.5h0.8M331.9,61.1h0.8M354,39.5h0.8M343.2,52.8h0.8M327.3,58.4h0.8M334.8,55.5h0.8M354.1,52.1h0.8M326.8,50.8h0.8M338.5,51h0.8M343.5,46.1h0.8M335,58.9h0.8M354.7,58.9h0.8M353.6,65h0.8M351.2,30.1h0.8M345.5,46.2h0.8M353.3,38.4h0.8M332.4,62.4h0.8M355.9,41.9h0.8M353.3,58.1h0.8M322.9,63.3h0.8M350.8,28.7h0.8M349.3,45.7h0.8M331.2,55.2h0.8M345.4,41.4h0.8M353.2,39.4h0.8M321.9,54.2h0.8M332.6,54.5h0.8M351.4,43.9h0.8M326.8,56.4h0.8M342.3,45.4h0.8M340,49.3h0.8M349.3,34.9h0.8M343.4,59.5h0.8M355.2,32.3h0.8M328.3,61.6h0.8M327.8,49.7h0.8M337.9,42.6h0.8M321.7,64.2h0.8M347.2,48.1h0.8M348.2,36.1h0.8M340.3,52.5h0.8M323.1,50.9h0.8M341.8,56.5h0.8M351.5,26.1h0.8M333.9,57.3h0.8M346.1,57.4h0.8M322.5,64.7h0.8M336.9,55.9h0.8M351.5,40.1h0.8M337.2,49.8h0.8M349.9,28.5h0.8M343.6,50.1h0.8M346.3,56.6h0.8M345.1,52.3h0.8M332.1,49.9h0.8M344.7,35.2h0.8M341.3,59.7h0.8M325,64.5h0.8M334.4,45.6h0.8M354.2,40.4h0.8M353.8,36h0.8M334.7,56.8h0.8M350,33h0.8M341.2,41.2h0.8M329.1,48h0.8M336.1,64.6h0.8M352.8,29.8h0.8M349.7,42.4h0.8M352.4,40.1h0.8M345.1,48.3h0.8M332.2,52.4h0.8M337.9,55.5h0.8M354.3,35.2h0.8M355.6,66.4h0.8M356.4,50.5h0.8M324.1,61.7h0.8M338.4,55.4h0.8M344.4,53.6h0.8M353.7,41h0.8M344.8,54.9h0.8M341.9,48.2h0.8M355.9,57.3h0.8M350.3,32.4h0.8M354.4,59.2h0.8M348.2,45.1h0.8M349.8,58.9h0.8M326.7,56.6h0.8M332.3,61.2h0.8M321.4,61h0.8M354.6,33.7h0.8M323.5,53.8h0.8M357,39.6h0.8M326.9,60.6h0.8M347.6,53.2h0.8M326.1,53.5h0.8M344.6,48.7h0.8M341.7,37.3h0.8M344.8,62.8h0.8M352.8,57.7h0.8M348.7,38.2h0.8M348.5,32.4h0.8M356,31.6h0.8M333.8,66h0.8M348.4,49.9h0.8" stroke="#a0a0a0" stroke-width="0.8" opacity="0.8" fill="none"/>
<polygon points="334,67 339,46 346,36 352,27 356,29 356,67" fill="#b0b0b0" filter="url(#b1)" opacity="1.0"/>
<path d="M344.2,42h0.8M341.7,51.3h0.8M342.5,58.2h0.8M352.3,50.4h0.8M345,42.1h0.8M352.5,51.7h0.8M353.2,66.2h0.8M353,55.6h0.8M352.2,64h0.8M350.2,52.6h0.8M355.4,49.1h0.8M343.8,46.7h0.8M347,45.3h0.8M350.3,64.9h0.8M353.3,29.2h0.8M348.3,59.9h0.8M337.8,55h0.8M342.7,50h0.8M354.1,36.8h0.8M342.1,60.2h0.8M351.7,64.5h0.8M345.7,65.9h0.8M343,48.8h0.8M350.6,51.3h0.8M352.5,61.9h0.8M353.6,36.2h0.8M352.3,29.4h0.8M348.7,60.2h0.8M351.8,65.1h0.8M348.4,60.7h0.8M340.7,50.1h0.8M353.1,35.4h0.8M336.8,57.4h0.8M351.2,45.2h0.8M354.7,34.1h0.8M347.8,62.5h0.8M339,57h0.8M346.3,55.6h0.8M349.9,36.2h0.8M352.1,52.6h0.8M353.2,64.9h0.8M353,37.7h0.8M345.6,58.5h0.8M354.5,47.4h0.8M354.5,42.9h0.8M349.9,63.3h0.8M344.4,38.8h0.8M355,62.8h0.8M356.3,31.9h0.8M353.4,43.5h0.8M351.5,61h0.8M337.8,57.3h0.8M338.3,58.6h0.8M354.9,36.5h0.8M347.9,62.2h0.8M347.8,44.8h0.8M342.7,45.6h0.8M346.4,49h0.8M338.6,47.6h0.8M342.1,57.9h0.8M350.1,44.4h0.8M347.2,55.9h0.8M353.1,39.5h0.8M349.4,36.3h0.8M347.1,38.4h0.8M351.8,44.3h0.8M351.2,50.1h0.8M354.2,53.6h0.8M340,60.8h0.8M353,57.6h0.8M338.7,56.5h0.8M340.2,56.7h0.8M355.8,42.1h0.8M352.4,27.9h0.8M351.3,41.1h0.8M345.9,57.2h0.8M350.9,35.7h0.8M339.8,52.3h0.8M343.5,55.8h0.8M345.7,50.3h0.8M350.7,51.4h0.8M336.8,57.4h0.8M339.3,49.5h0.8M354.6,36.9h0.8M348.5,36.5h0.8M345.2,63.2h0.8M353.9,38.3h0.8M346.4,45.9h0.8M349.9,57.6h0.8M350.6,49.6h0.8M336.6,62.2h0.8M355.7,62.8h0.8M339.7,47.7h0.8M345.4,54.8h0.8M350.2,29.6h0.8M351.6,45.5h0.8M351.5,34.4h0.8M336.8,59.5h0.8M355.4,29.7h0.8M339.7,55.2h0.8M333.7,65.4h0.8M344,60.6h0.8M335.3,60.5h0.8M355.8,64.8h0.8M349.4,56h0.8M353,43.6h0.8M354.8,37.9h0.8M356,57.1h0.8M353.3,53.4h0.8M344,64.9h0.8M353.8,56.6h0.8M345.5,47.5h0.8M352.3,31.6h0.8M342.4,52.1h0.8M345.9,47.5h0.8M355.3,45.4h0.8M349.6,58.7h0.8M337.2,48.3h0.8M352.6,59.1h0.8M349,55.6h0.8M346.5,48.9h0.8M346.9,50.6h0.8M342.3,44.3h0.8M341.2,43h0.8M356.8,30.8h0.8M342,44.5h0.8M353,65.5h0.8M353.7,61.1h0.8M348.5,59h0.8M340.3,57.6h0.8M355.2,55.7h0.8M350.3,44.6h0.8M347,45.9h0.8M350.2,32.7h0.8M345.1,40.6h0.8M336.9,57.7h0.8M354.6,39.8h0.8M342.5,51.3h0.8M341.6,51.1h0.8M339.4,52h0.8M343.9,63.8h0.8M341.4,41.9h0.8M344.7,40.9h0.8M343.4,66.3h0.8M345,54.8h0.8M336.1,63.5h0.8M344.3,48.6h0.8M341.3,54.2h0.8M350.3,44.6h0.8M337.9,59.7h0.8M350.8,56.8h0.8M340.2,47.1h0.8M355.4,57.4h0.8M355.9,36.9h0.8M348.9,40.8h0.8M350.9,65.1h0.8M337.1,66.7h0.8M343.6,64.8h0.8M347.3,53.2h0.8M353.5,32h0.8M343.9,45.6h0.8M355.3,46.2h0.8M350.7,33.8h0.8M348.5,29.9h0.8M348.9,40.2h0.8M341.6,48.8h0.8M350.6,32.4h0.8M353.1,62.7h0.8M351.8,50.4h0.8M335.7,62.8h0.8M350.1,57h0.8M350.2,55.3h0.8M335.8,60.7h0.8M345.9,56.3h0.8M350.2,42h0.8M345.9,43.4h0.8M352.1,39.5h0.8M350.8,47.8h0.8M344.7,50.4h0.8M349.3,51.3h0.8M355.1,29.1h0.8M349.6,32.8h0.8M353,57.5h0.8M340.4,64.1h0.8M339.1,56.4h0.8M341.6,61.4h0.8M344.1,58.8h0.8M350,46.2h0.8M341.8,54.8h0.8M356.3,53.1h0.8M353.1,60.2h0.8M339.4,53.1h0.8M355.2,55.8h0.8M356.3,60.2h0.8M345.1,38h0.8M347,37.6h0.8M349,46h0.8M348.7,33h0.8M352.2,59.7h0.8M340.4,56.5h0.8M343,52h0.8M341.1,64h0.8M336.4,64.7h0.8M350.5,66.2h0.8M340,66.5h0.8M354,37.2h0.8M348.4,63.7h0.8M340.6,59.9h0.8M354,38.1h0.8M339,55h0.8M354,29.1h0.8M354.4,59.4h0.8M354.6,63.9h0.8M345.2,64.9h0.8M350.9,42.7h0.8M339.5,61.5h0.8M354.7,45.4h0.8M347.4,44.2h0.8M349.6,33.9h0.8M353,62.3h0.8M350.5,51.1h0.8M347,66.6h0.8M349.4,32.3h0.8M355.3,40.9h0.8M349.6,39.4h0.8M345.1,64.6h0.8M349.6,42.7h0.8M349.3,46.1h0.8M347.8,44.9h0.8M347.2,62.8h0.8M347.9,57.9h0.8M356.9,42.3h0.8M348.6,62.5h0.8M355.3,30.6h0.8M351.6,51.7h0.8M348.5,34.4h0.8M354.3,40.5h0.8M340.5,58.2h0.8M340.8,62.3h0.8M340.7,51h0.8M350.2,42.5h0.8M345.4,65.6h0.8M350.3,55.2h0.8M351.7,53.4h0.8M339.7,63.8h0.8M336.8,65.2h0.8M351.9,58.1h0.8M351.9,60.1h0.8M352.8,31.9h0.8M355.8,42h0.8M347.1,64.4h0.8M355.2,29.6h0.8M355.3,29.6h0.8M355.6,45.8h0.8M349.6,41.2h0.8M348.8,64.1h0.8M349.2,50.6h0.8M350.5,53h0.8M352.3,52.9h0.8M335.9,60h0.8M338.7,48.8h0.8M345.3,51.7h0.8M355.9,59h0.8M339,53.5h0.8M340.6,44.2h0.8M350.9,46.7h0.8M354.3,46.9h0.8M352.5,31.9h0.8M346.7,53h0.8M354.4,63.9h0.8M339.1,59.9h0.8M342.3,65.6h0.8M348.5,36.6h0.8M352,34.9h0.8M346.3,52.2h0.8M350,35.3h0.8M354,53.6h0.8M347.4,48.3h0.8M347.8,51.8h0.8M338.5,50.4h0.8M353.8,43.3h0.8M352.6,65.4h0.8M352.1,51.9h0.8M349.8,35.3h0.8M339.3,59.7h0.8M344.4,42.7h0.8M356,66.3h0.8M349.6,46.5h0.8M344.2,48.7h0.8M340.8,46.8h0.8M346.1,66.6h0.8M339.4,56.8h0.8M343.7,42.2h0.8M345.9,64.6h0.8M354.4,40.9h0.8M347.1,50.9h0.8M341.8,54.7h0.8M353.5,36.9h0.8M356,33.2h0.8M351.3,55.1h0.8M354,40.3h0.8M353.6,46.6h0.8M336,61.2h0.8M339.6,62.8h0.8M348.6,61.1h0.8M346.3,45.5h0.8M349.2,50.1h0.8M355,63.9h0.8M342.5,46.5h0.8M351.6,32.5h0.8M354.3,45.6h0.8M345.7,59.1h0.8M351.1,43.7h0.8M353.7,36.2h0.8M355.3,41h0.8M346.3,49.3h0.8M344.5,38.9h0.8M349.8,65.4h0.8M336.8,57.7h0.8M356.4,51.4h0.8M347.9,61.3h0.8M355.2,39.3h0.8M337.4,58h0.8M347.5,50.5h0.8M350.1,50.7h0.8M345.2,35.8h0.8M339.8,43.1h0.8M347.4,33.9h0.8M345.5,55.7h0.8M341.3,50h0.8M347.8,39.6h0.8M350.4,47.5h0.8M353,62.8h0.8M347.7,41h0.8M350.9,54h0.8M344.7,63.3h0.8M344.1,48.7h0.8M355.5,46.5h0.8M337.3,51.9h0.8M354.6,57.6h0.8M348.8,50h0.8M352.8,51.2h0.8M354.6,50h0.8M353.3,60.3h0.8M352.9,42.1h0.8M355.3,51.4h0.8M349.7,52h0.8M333.6,61.2h0.8M350.6,33.8h0.8M353.2,47.9h0.8M349.5,46.3h0.8M350.3,37h0.8M344.7,61.5h0.8M348.2,52h0.8M348.7,33.8h0.8M346.2,46.4h0.8M343.3,49.2h0.8M336,66.1h0.8M337.1,62.8h0.8M348.3,50.5h0.8M352.4,47h0.8M352.1,54.5h0.8M352.5,30.9h0.8M345.7,47.5h0.8M350.5,39.9h0.8M354.9,38h0.8M345.1,64.4h0.8M341.7,64.8h0.8M354.1,29.4h0.8M341.7,43.3h0.8M353,62.9h0.8M350.9,52.6h0.8M335,63.7h0.8M355.2,34.6h0.8M347.2,57.8h0.8M355.9,57.9h0.8M350.5,47.4h0.8M348.2,54.5h0.8M341.3,60.6h0.8M356.6,29.7h0.8M335.1,65.7h0.8M352.1,47.6h0.8M343.9,66.4h0.8M353.5,45h0.8M338.3,62.7h0.8M342.4,57.6h0.8M342.4,50h0.8M346,40.8h0.8M349.6,41.2h0.8M342.8,39.5h0.8M348.5,42.7h0.8M343.8,48h0.8M349.1,40.3h0.8M336.6,54h0.8M350.7,54.6h0.8M349.2,45.1h0.8" stroke="#8c8c8c" stroke-width="0.8" opacity="0.8" fill="none"/>
<polygon points="357,67 357,37.5 364,37.5 370,38.8 376,41.5 380,46 382,52 381,58 378.8,62 375,67" fill="#b2b2b2" filter="url(#b2)" opacity="1.0"/>
<path d="M380.3,48.1h0.8M375.5,63.8h0.8M370,45.6h0.8M377.1,51.7h0.8M361.4,65.1h0.8M371.9,50.7h0.8M372.5,47.3h0.8M370.9,64.9h0.8M364.4,63.7h0.8M372.1,47.8h0.8M370.3,62.4h0.8M364.8,62.9h0.8M357.4,38.6h0.8M360.9,51h0.8M370.6,49.9h0.8M378.5,55.4h0.8M362.3,64.1h0.8M372.2,54.1h0.8M375.2,42.2h0.8M356.6,41h0.8M381.2,51.6h0.8M378.1,52.7h0.8M359.2,56.5h0.8M359.9,56.6h0.8M375.8,47.8h0.8M375.9,57.8h0.8M364.5,59.7h0.8M375.4,52.2h0.8M373.6,53.2h0.8M359.2,52.5h0.8M359.3,64.2h0.8M374.5,58.4h0.8M369.3,65.4h0.8M368.3,49.1h0.8M374.4,63.4h0.8M367.1,41.2h0.8M362.1,58.3h0.8M365.2,51.4h0.8M363.6,63.9h0.8M362.3,50.7h0.8M376.6,52.3h0.8M365,53.4h0.8M359.9,45.5h0.8M364.3,53.5h0.8M379.8,52.2h0.8M359.5,52.4h0.8M370.7,45h0.8M380.1,56.1h0.8M375.7,61.9h0.8M365.1,50.2h0.8M375.3,61.7h0.8M364.6,51.2h0.8M361.8,63.1h0.8M369.1,66.3h0.8M362.1,37.8h0.8M361.3,48.7h0.8M362.5,59.4h0.8M371.6,54h0.8M361.7,42.6h0.8M376.4,54h0.8M377.6,51.8h0.8M374.1,47.9h0.8M360.5,46.2h0.8M372.6,52.5h0.8M368.9,51.1h0.8M369,44.7h0.8M363.1,43.6h0.8M378.8,60.7h0.8M356.8,64.6h0.8M369.5,51.2h0.8M381.7,56.8h0.8M378.5,44.2h0.8M378.5,43.1h0.8M369.9,60.5h0.8M380.8,52.6h0.8M366.2,52.2h0.8M364.6,60.9h0.8M372.6,51.8h0.8M358,50.4h0.8M368.6,42h0.8M358.5,58.8h0.8M362.5,65.9h0.8M380.5,53h0.8M358.9,46.7h0.8M362.9,65h0.8M374.3,46.8h0.8M376.2,59.8h0.8M364.6,43h0.8M371.2,42.8h0.8M356.7,39h0.8M375.1,62.3h0.8M364,51.5h0.8M380.6,61.2h0.8M375.4,52h0.8M372.3,58.9h0.8M358.4,53.2h0.8M365.4,50.6h0.8M379.1,46.6h0.8M360.4,62.3h0.8M368.2,61.7h0.8M358.5,44.9h0.8M363.1,50.8h0.8M360.6,47.6h0.8M359.8,60.8h0.8M376.5,61.6h0.8M360.4,58h0.8M373,44.4h0.8M378.2,54.5h0.8M358.8,62.2h0.8M371.8,50.5h0.8M364,52.8h0.8M369.9,62.4h0.8M368.5,54.1h0.8M370.8,56.8h0.8M377.3,58.2h0.8M363.8,48h0.8M366.9,57.8h0.8M378.4,48.7h0.8M365.5,48.3h0.8M376.1,42.8h0.8M362.6,48.8h0.8M359.5,57.2h0.8M376.4,47.5h0.8M375.6,64.3h0.8M376.1,41.5h0.8M364.7,49.9h0.8M373.8,39.4h0.8M377.7,60.4h0.8M358.7,54.1h0.8M361.6,63.7h0.8M360.7,48.2h0.8M377,52.5h0.8M357.8,39h0.8M375.9,44.2h0.8M379.4,59.8h0.8M357.9,53.3h0.8M375.1,58h0.8M375.3,58.1h0.8M377.7,48h0.8M378.1,56.5h0.8M370.1,50.7h0.8M362.5,44.2h0.8M369.4,63.5h0.8M375.1,61h0.8M380.4,54.6h0.8M357.7,55.7h0.8M371.8,58.9h0.8M358.9,66.1h0.8M361.2,38.3h0.8M371.6,45.2h0.8M374.8,65.4h0.8M356.9,55.8h0.8M367.8,56.8h0.8M371.6,62.7h0.8M380.6,48.3h0.8M361.7,47.1h0.8M369.4,66.4h0.8M357.6,49.9h0.8M364.2,53h0.8M359.3,57.8h0.8M369.3,48.5h0.8M358.6,38.7h0.8M372.4,47.8h0.8M370.8,45.6h0.8M367.5,54.8h0.8M370.4,57.9h0.8M367,60.1h0.8M357.9,44.2h0.8M373.6,61.8h0.8M376.6,55.9h0.8M357.6,51.8h0.8M362.4,54.1h0.8M372.6,51.2h0.8M360,40.4h0.8M380.6,47.1h0.8M374.8,52.3h0.8M366.4,62.4h0.8M362.2,49h0.8M370.8,56.1h0.8M370.6,59.2h0.8M375.3,54.7h0.8M359.7,42.7h0.8M361.9,50.9h0.8M360.9,41.8h0.8M356.1,57.9h0.8M363.8,56.2h0.8M366.3,60.5h0.8M369.6,51.7h0.8M361.3,38h0.8M368.7,53.4h0.8M370.2,42.2h0.8M362.5,51.6h0.8M362.2,63.2h0.8M356.6,46.7h0.8M362,55.3h0.8M369.7,44.6h0.8M376,55.2h0.8M358.7,63.5h0.8M362.8,46.6h0.8M372.1,51.3h0.8M365.2,57.1h0.8M369.1,40.3h0.8M379.5,56.9h0.8M372.2,65.2h0.8M362.1,65.7h0.8M381.9,56.5h0.8M375.7,55.6h0.8M376.7,51.9h0.8M364.8,44.1h0.8M374.5,62.1h0.8M368.2,45.6h0.8M364.5,58.6h0.8M372.3,63.8h0.8M375.1,44.7h0.8M359.6,64.8h0.8M365.5,52.9h0.8M358.1,54.3h0.8M367.5,62.9h0.8M356.6,53.7h0.8M358.2,65.6h0.8M371.2,51.9h0.8M371.9,62.8h0.8M358.8,64.2h0.8M373.8,48.7h0.8M356.7,52.6h0.8M365.4,54.2h0.8M373,65.2h0.8M369,63.2h0.8M368.7,59.5h0.8M369.3,59.2h0.8M369.5,56.2h0.8M372.6,51.2h0.8M366.1,57.9h0.8M363.2,52.8h0.8M377.3,56.8h0.8M370.1,59.5h0.8M378.2,44.2h0.8M376.3,51.1h0.8M365.7,42.7h0.8M359.3,45.1h0.8M362.3,56.6h0.8M361.7,42.9h0.8M374.1,63.7h0.8M360.7,47.6h0.8M369.3,58.3h0.8M368.6,57.7h0.8M362,41.3h0.8M375.4,61h0.8M371.5,50.2h0.8M366.1,58.7h0.8M376.5,50.3h0.8M377.2,60.5h0.8M371.8,49h0.8M365.2,59h0.8M370.2,38.4h0.8M369.4,52.8h0.8M368.7,49.8h0.8M364.1,61.7h0.8M368.4,63.3h0.8M365,48.5h0.8M358.2,53.4h0.8M381.2,54.4h0.8M374.4,60h0.8M373.6,43.9h0.8M362.9,52.8h0.8M373.3,65.9h0.8M375,47.9h0.8M375,45.3h0.8M374.1,48.9h0.8M365.2,36.7h0.8M374.1,61.2h0.8M374.4,63h0.8M364.2,48.8h0.8M358.9,65.2h0.8M373.3,43.9h0.8M366.7,53.1h0.8M376.7,57h0.8M360.7,38.8h0.8M361.2,54.3h0.8M375.4,46.1h0.8M367.2,37.2h0.8M369,56.9h0.8M356.3,65.3h0.8M370.6,48.6h0.8M360,63.3h0.8M357.8,42.1h0.8M363.5,47.6h0.8M375.3,42.4h0.8M376.8,42h0.8M358.4,64.1h0.8M368.2,39.7h0.8M374.6,55.6h0.8M371.6,53.5h0.8M363.2,46.7h0.8M364.9,50.8h0.8M366.4,62.1h0.8M364.2,54h0.8M368.1,41.6h0.8M362.2,45.3h0.8M376,49.3h0.8M369.5,66.2h0.8M361.4,63.7h0.8M356.2,57.7h0.8M375,60.4h0.8M379.3,58.8h0.8M359,53.3h0.8M357.4,58.1h0.8M368,65.7h0.8M368.3,55.5h0.8M374.6,63.1h0.8M372.8,54.9h0.8M369.1,41h0.8M373.6,57.5h0.8M359.3,48.8h0.8M363,38.9h0.8M370.3,51h0.8M370.6,45.2h0.8M361.4,50.5h0.8M361.8,58.4h0.8M360.3,66.8h0.8M376.4,51.3h0.8M376.9,62.9h0.8M368.6,51.6h0.8M363.6,39.1h0.8M365.3,65.1h0.8M358.9,51.1h0.8M367.5,66.6h0.8M376.2,57.3h0.8M365,65.5h0.8M379.6,46.8h0.8M374.4,60.5h0.8M360.5,55h0.8M367.3,65.6h0.8M359.7,48.6h0.8M381.1,47.3h0.8M374.9,54.5h0.8M374.7,63.8h0.8M360.2,59.1h0.8M361.1,51.8h0.8M364.3,62.3h0.8M376.6,53.8h0.8M372.6,40.1h0.8M367.8,60.1h0.8M370.9,53.1h0.8M372.5,39.6h0.8M360.6,58.8h0.8M377.7,40h0.8M373.9,65.2h0.8M365.8,58.8h0.8M367.9,41.7h0.8M375.7,43.6h0.8M373.3,58.1h0.8M371.3,56.9h0.8M377.9,56.8h0.8M368.9,52.7h0.8M358.7,62.6h0.8M370.3,40.1h0.8M375.8,43.7h0.8M365,51.4h0.8M362.1,59.2h0.8M359.6,39.1h0.8M371.7,55.8h0.8M366.6,57.5h0.8M362.2,50.7h0.8M366,55.7h0.8M372,50.7h0.8M358.6,57h0.8M376,51.4h0.8M374.4,51.2h0.8M363.4,57h0.8M381.1,46.3h0.8M375,48.8h0.8M377.8,49.3h0.8M370.5,42.7h0.8M357.3,53.5h0.8M376.7,53.1h0.8M366.5,40.1h0.8M359.1,56.3h0.8M381.8,61.3h0.8M367,65.7h0.8M365.5,52.5h0.8M378.3,56.6h0.8M366.3,48.2h0.8M375,63.5h0.8M377.4,49.6h0.8M367.9,55.3h0.8M364.2,62.6h0.8M366.8,48.8h0.8M366,53.6h0.8M376.7,52.8h0.8M370.1,45.3h0.8M366.4,42.6h0.8M369.4,54.5h0.8M379.8,47.2h0.8M379,54h0.8M362.7,56.8h0.8M360.1,45.2h0.8M370,61.8h0.8M365,58.7h0.8M363.1,56.3h0.8M367.7,38.6h0.8M374.7,52h0.8M360.3,60.2h0.8M377.3,53.2h0.8M369.3,54h0.8M360.6,55.8h0.8M369.5,47.6h0.8M361.7,46.8h0.8M371.3,57h0.8M368.4,62.3h0.8M359.2,46.9h0.8M368.4,56.8h0.8M372.1,42h0.8M362.7,54.4h0.8M368.4,46.8h0.8M369.4,47.4h0.8M373.1,42.5h0.8M381.3,47.9h0.8M367.2,53h0.8M377.1,53.8h0.8M377.2,55.6h0.8M374.5,56.4h0.8M377.3,56h0.8M368.1,64.7h0.8M370.3,53h0.8M375.7,55.5h0.8M357.5,50.9h0.8M366.8,54.7h0.8M360.6,36.7h0.8M368.1,38.4h0.8M364.3,51.1h0.8M373.7,56.3h0.8M364.2,41.3h0.8M357.4,63.3h0.8M378.9,61.2h0.8M377.3,55.4h0.8M376.7,54.4h0.8M367.7,41h0.8M368.1,61.1h0.8M374,53.5h0.8M373.4,41.5h0.8M374.4,46.9h0.8M366,66h0.8M375.7,41.3h0.8M360.2,56.2h0.8M361.9,57h0.8" stroke="#8e8e8e" stroke-width="0.8" opacity="0.85" fill="none"/>
<polygon points="357,67 357,48 366,46 373,52 374,60 370,67" fill="#a8a8a8" filter="url(#b1)" opacity="1.0"/>
<path d="M366.6,46.5h0.8M367.3,63.3h0.8M357.3,59.6h0.8M366.6,55.1h0.8M359.5,63.9h0.8M358.7,56.4h0.8M371,51.1h0.8M362,65h0.8M360.9,54.7h0.8M357.4,54h0.8M368.3,51.7h0.8M363.4,62.4h0.8M365.9,64.4h0.8M364.7,49.8h0.8M364.2,65.5h0.8M365.5,60.8h0.8M362.7,62.9h0.8M366.3,61h0.8M364.9,53h0.8M365.8,55.7h0.8M361.1,61.6h0.8M366.3,65.5h0.8M363,54h0.8M369.2,65.6h0.8M368.7,55.9h0.8M367.7,58.5h0.8M370,50.6h0.8M369,62.7h0.8M365.5,52.3h0.8M370.3,50h0.8M367.9,52.9h0.8M364.1,59.5h0.8M367.7,50.5h0.8M374.8,56.8h0.8M359.9,60.7h0.8M368.5,61.3h0.8M365.3,65.4h0.8M359.7,51.2h0.8M362.4,61.5h0.8M363.9,62.1h0.8M371,55.9h0.8M363.9,58.2h0.8M372.8,61.3h0.8M358.3,59.4h0.8M368.3,50h0.8M360.1,63.9h0.8M369.3,55.4h0.8M358.5,61.6h0.8M364.1,53h0.8M364.8,48.8h0.8M359.3,48.7h0.8M357,63.6h0.8M364.8,55.6h0.8M373.3,50.9h0.8M363.9,64.2h0.8M356.7,57h0.8M362.2,60.8h0.8M372.7,55.8h0.8M361.7,47h0.8M361.2,49h0.8M363.2,59.4h0.8M365.9,51.6h0.8M357.3,48.8h0.8M364.8,57h0.8M368.9,63.5h0.8M373.4,57.3h0.8M362.8,49.6h0.8M368.1,64.5h0.8M364.3,56.6h0.8M358.1,63h0.8M364.9,48.6h0.8M361.3,66.3h0.8M365.3,58.8h0.8M365.3,54h0.8M371.5,50.8h0.8M361.8,66h0.8M359.9,59.8h0.8M358.3,59.6h0.8M358.1,62.9h0.8M361.2,54.2h0.8M366.8,64.2h0.8M363.6,65.6h0.8M370.3,66.2h0.8M371,57.5h0.8M364.3,51.5h0.8M361.9,63.6h0.8M361.5,62.7h0.8M360.9,66h0.8M369,52.4h0.8M360.7,49.7h0.8M360.6,64.5h0.8M358.4,57.8h0.8M356.5,55h0.8M362.5,63.3h0.8M361.7,58.3h0.8M358.7,51.1h0.8M357.4,53.8h0.8M366.3,57.8h0.8M368.6,65.8h0.8M362.6,58.2h0.8M368.3,53.2h0.8M360.4,47.9h0.8M361.1,53h0.8M372.6,56.7h0.8M365.1,62.9h0.8M363.1,50.3h0.8M365.3,59.1h0.8M363.1,59.9h0.8M367.8,48.3h0.8M369.7,54h0.8M362.2,65.9h0.8M364.9,57.6h0.8M362.4,47.9h0.8M361.9,58.7h0.8M360.7,64.2h0.8M361.8,59.4h0.8M360.6,53.6h0.8M367.8,56.3h0.8M363.5,65.3h0.8M366.8,56.2h0.8M366.9,53.3h0.8M364.2,56.2h0.8M365.9,46.8h0.8M361.4,51.5h0.8M367.3,53.9h0.8M365.3,64.4h0.8M360.4,47.4h0.8M363.4,49.3h0.8M370.9,53.8h0.8M358.6,49.3h0.8M357.6,52.7h0.8M356.7,65.2h0.8M359,57.3h0.8M361.7,58.6h0.8M357.7,63.4h0.8M365.9,65.4h0.8M361.7,62.7h0.8M363.1,57.5h0.8M366.2,59.3h0.8M361.6,53h0.8M363.1,51.4h0.8M365.2,60.7h0.8M365.9,49.6h0.8M363.1,60.6h0.8M373.4,61.7h0.8M361.2,54.7h0.8M360.8,56.1h0.8M360.6,60.6h0.8M366.5,57.4h0.8M368,62.9h0.8M372,58.1h0.8M356,66.3h0.8M366.9,47h0.8M363.9,50.4h0.8M362.8,63.2h0.8M365.1,60.1h0.8M367.7,55h0.8M362.4,50.7h0.8M372.4,60.4h0.8M370.5,59.1h0.8M365.2,52.3h0.8M365.4,54.7h0.8M372.2,50.1h0.8M368.2,60h0.8M366,66.2h0.8M371.6,60.3h0.8M360.4,49.2h0.8M369.9,50.6h0.8M369.9,59.2h0.8M360.3,49.6h0.8M355.9,55h0.8M365.1,54.2h0.8M364.9,54.9h0.8M365.9,60.2h0.8M359.1,59.9h0.8M370,54.8h0.8M360.8,58.5h0.8M362.8,56.5h0.8M362.2,61.3h0.8M365.7,48.6h0.8M359.5,55.8h0.8M363,61.4h0.8M365.9,61.3h0.8M363.3,49.2h0.8M361.2,58h0.8M371.7,57h0.8M373.8,52.7h0.8M359.5,61.8h0.8M358.7,47h0.8M364.8,65.7h0.8M368.2,54.3h0.8M360.8,53h0.8M370.2,53.3h0.8M370.7,48.6h0.8M372,51.7h0.8M357.1,52.7h0.8M364.6,65.1h0.8M358.1,56.6h0.8M367.9,63.3h0.8M371,57.2h0.8M363.3,54.3h0.8M363.9,60.1h0.8M363.5,59.5h0.8M358.7,48.2h0.8M366.6,61h0.8M363.7,59.1h0.8M357.3,66.6h0.8M360.1,56.8h0.8M371.3,63.6h0.8M366.1,54.5h0.8M369.1,52.3h0.8M368.8,57.4h0.8M357.4,47.8h0.8M366,60.6h0.8M359.3,66.7h0.8M365.6,47.8h0.8M370.2,61h0.8M365.6,57.1h0.8M358.7,58.4h0.8M373,57.7h0.8M367.5,64.7h0.8M358.9,59.9h0.8M362.4,50.9h0.8M364.2,53.3h0.8M369.4,50.4h0.8M359,48.4h0.8M361.3,62.5h0.8M369.9,56.2h0.8M367.8,51.8h0.8M360.9,51h0.8M355.7,51.6h0.8M368.1,49.4h0.8M366.4,66.7h0.8M374.2,61.4h0.8M366.2,57.9h0.8M371.1,57.5h0.8M370.2,58h0.8M364.8,64h0.8M371.2,59.6h0.8M370.1,55.7h0.8M360.1,61.2h0.8M365.5,50.9h0.8M357.4,53.7h0.8M363.5,59.8h0.8M365.3,50.4h0.8M363.7,57.1h0.8M363.7,47.8h0.8M366.7,48.4h0.8" stroke="#838383" stroke-width="0.8" opacity="0.85" fill="none"/>
<path d="M390.5,49.2h0.7M391.9,62.3h0.7M386.8,61.8h0.7M388.2,49h0.7M395.2,52.2h0.7M390.6,59.2h0.7M384,59h0.7M395.6,53.2h0.7M382.8,56.4h0.7M392.5,58.1h0.7M398.2,59h0.7M392.6,62.2h0.7M381.3,43.6h0.7M386.2,50.1h0.7M384.6,48.6h0.7M385.8,55.3h0.7M397.7,62.8h0.7M390.9,54.4h0.7M395.4,61.5h0.7M383.8,52h0.7M384.1,60.9h0.7M388,57.6h0.7M392.7,61.7h0.7M386.9,55.5h0.7M381.9,53.3h0.7M384.6,61.9h0.7M391.5,50.4h0.7M394,50.2h0.7M399,61.2h0.7M389,48.3h0.7M383.8,63.6h0.7M385.9,60.4h0.7M391.2,49.3h0.7M387.8,56.4h0.7M397.1,51.9h0.7M396.2,63.4h0.7M383.1,62.9h0.7M381.5,49.3h0.7M384,46.2h0.7M395.6,52.3h0.7M386.4,63.7h0.7M387,59.8h0.7M385.8,52h0.7M383.9,50.3h0.7M393.4,59.4h0.7M387.2,59.4h0.7M384.5,53.6h0.7M393.4,53.5h0.7M391.9,60.5h0.7M393.7,60.2h0.7M386,47.4h0.7M386.6,56.1h0.7M397.6,63.8h0.7M384.7,47h0.7M381.8,43.7h0.7M387.4,51.1h0.7M388.1,49.2h0.7M384.9,57.2h0.7M390.8,51.2h0.7M389.8,61.6h0.7M398.6,61.4h0.7M390.5,53.3h0.7M391.6,55.2h0.7M383.4,49.1h0.7M394.7,54.4h0.7M390.7,58h0.7M390.1,53h0.7M384.4,55.8h0.7M394.3,51.7h0.7M383.3,59.9h0.7M390.3,61.2h0.7M382.8,62.9h0.7M387.5,57.8h0.7M385.3,48h0.7M385.1,47.7h0.7M391.4,60.5h0.7M389.4,53.7h0.7M383.8,46.2h0.7M392.7,58.4h0.7M387.2,52.5h0.7" stroke="#aaaaaa" stroke-width="0.7" opacity="0.8" fill="none"/>
<rect x="321.5" y="51.6" width="33" height="14" fill="#b0b2aa" opacity="0.75" filter="url(#b1)"/>
<path d="M335,63.1h0.8M330.2,55.4h0.8M342.5,57.4h0.8M349.4,57.6h0.8M329.5,63.7h0.8M339,61.5h0.8M352.8,57.3h0.8M348.3,64.1h0.8M352.4,54.9h0.8M331.1,57.9h0.8M322.5,56.6h0.8M336.7,63.6h0.8M349.6,58.7h0.8M340.1,63.5h0.8M346,59.3h0.8M339.3,59.1h0.8M323.8,63.5h0.8M332.6,62.9h0.8M337,54h0.8M334,58.1h0.8M351.2,59.3h0.8M352.4,61.4h0.8M326.2,62.5h0.8M327,60.5h0.8M354,59.4h0.8M344.7,64.7h0.8M326.2,55.1h0.8M329.2,61.2h0.8M335.2,54.3h0.8M322,61.2h0.8M350.3,60.6h0.8M335.6,56.4h0.8M326.1,54.9h0.8M341.1,54.7h0.8M337.7,61.7h0.8M328.3,52.3h0.8M331.2,53.7h0.8M337,63.2h0.8M328.9,64.4h0.8M351.3,58.6h0.8M349.5,64.3h0.8M323.4,52.1h0.8M350.3,65.7h0.8M330.3,55.4h0.8M351.5,56.8h0.8M347.5,64.3h0.8M337.7,64.2h0.8M328.2,58.7h0.8M346.9,63.1h0.8M343.4,57.9h0.8M349.8,65.7h0.8M339.4,63.8h0.8M329.8,62.8h0.8M324.6,53.6h0.8M332.3,52.9h0.8M335.4,55.8h0.8M347.8,56.8h0.8M328.7,55.2h0.8M351.3,54.2h0.8M327.5,56.6h0.8M340.6,54.1h0.8M330.4,59.8h0.8M330.2,63.8h0.8M332,56h0.8M342.7,64.8h0.8M322.7,62.9h0.8M342.6,61.6h0.8M350.8,58.6h0.8M350.3,61h0.8M352.5,55.2h0.8M325.6,56.5h0.8M332,64.5h0.8M333,63.1h0.8M323.6,57.1h0.8M335.7,63.5h0.8M331.8,52.8h0.8M353.3,64.8h0.8M348.8,54.2h0.8M324,61.1h0.8M323.2,61.3h0.8M324.1,65.1h0.8M327.7,61.2h0.8M326,53.3h0.8M349,52.1h0.8M339.1,54.9h0.8M342.4,60.9h0.8M344.2,65.4h0.8M332.4,54.2h0.8M326.7,54.7h0.8M338.3,65.4h0.8M327.4,53.9h0.8M336.6,59h0.8M353.2,57.1h0.8M341.5,64.3h0.8M325.5,54h0.8M335.3,60.8h0.8M340.1,57.7h0.8M321.6,54.9h0.8M343.6,58.1h0.8M329.1,65.3h0.8M338.8,59h0.8M335.7,64h0.8M336.5,55h0.8M336.8,52.2h0.8M321.6,54h0.8M331.2,53h0.8M324.9,60.5h0.8M344.1,52.2h0.8M350.8,60.9h0.8M328.8,62.6h0.8M351.8,52.5h0.8M339.3,63.1h0.8M322.2,52.4h0.8M335.7,53.5h0.8M349.1,55.7h0.8M340.3,61.4h0.8M331.8,64.9h0.8M343.3,64.9h0.8M351.8,58h0.8M341.8,63.7h0.8M350.4,56.1h0.8M342.7,56h0.8M334.5,65.3h0.8M342.4,52.3h0.8M353.7,53.1h0.8M325.2,64.4h0.8M330,54.1h0.8M327.6,59h0.8M325.7,54.7h0.8M331.9,55h0.8M333.8,63h0.8M346.5,55h0.8M351.2,56.6h0.8M328.7,62.3h0.8M334.7,63.3h0.8M343.8,54.3h0.8M334.8,62.1h0.8M337.6,53.2h0.8M340.3,56h0.8M338.2,64.5h0.8M336.2,57.4h0.8M339,55h0.8M352,58.6h0.8M338.6,56.9h0.8M341.5,56.3h0.8M323.1,52.6h0.8M339.3,55.5h0.8M334.5,59.6h0.8M353.5,64.4h0.8M329.9,61.6h0.8M325.2,59.7h0.8M326.4,54.6h0.8M350.1,64.3h0.8M339.5,62.7h0.8M341.1,63.8h0.8M338.8,63.7h0.8M331.4,53.4h0.8M353.2,54.8h0.8M327.3,60.7h0.8M341.5,53.5h0.8M337.4,59.5h0.8M335.9,62.9h0.8M348.5,52.5h0.8M352.9,58.5h0.8M324.9,64.2h0.8M347.7,56.9h0.8M337.7,55.9h0.8M339.2,59.4h0.8M324,55.9h0.8M338.6,53.7h0.8M352,64.3h0.8M344.1,52.9h0.8M322.9,54h0.8M351.7,63.1h0.8M321.8,59.4h0.8M351.8,60.9h0.8M341,53.8h0.8M339.4,60.7h0.8M321.9,55.1h0.8M323.7,62.2h0.8M348.7,54.6h0.8M349.2,55.6h0.8M328.7,55h0.8M353.2,61.1h0.8M340.9,59.8h0.8M352.7,58.5h0.8M332.4,58.5h0.8M325.8,55.2h0.8M325.1,59.9h0.8M330.8,59.4h0.8M323.5,60.2h0.8M340.2,64.3h0.8M338,62.3h0.8M333.6,59.1h0.8M340.8,57.5h0.8M335.8,58.1h0.8M342,64.3h0.8M338.6,60.3h0.8M321.4,56.8h0.8M351.5,60.6h0.8M347.6,53.5h0.8M335.3,61.1h0.8M325.2,52.7h0.8M328.6,65.4h0.8M333.4,55.2h0.8M353.1,62h0.8M353.7,64.4h0.8M339.1,65.4h0.8M321.8,60.4h0.8M328.5,64.4h0.8M344.5,64.5h0.8M330.2,55.3h0.8M332.2,63.1h0.8M337.9,53.9h0.8M345.8,54.1h0.8M324.6,54.2h0.8M331.5,65.3h0.8M346.5,53.3h0.8M332.3,54.8h0.8M353.2,57.1h0.8M328,56.4h0.8M346.9,53.5h0.8M322.2,64.7h0.8M328.2,54.1h0.8M322,63.1h0.8M341.2,52.8h0.8M330.3,53.9h0.8M322.9,61.7h0.8M326.6,53h0.8M351.1,63.8h0.8M342.1,56.6h0.8M335.7,57.3h0.8M345.4,63.7h0.8M328.8,58.3h0.8M351.2,62.6h0.8M337.6,56h0.8M338.9,62.1h0.8M336,64.5h0.8M353.6,53.6h0.8M331.4,53.4h0.8M327.4,64.1h0.8M339.4,58.7h0.8M330.6,64.1h0.8M338,58.9h0.8M340.8,65.6h0.8M323.2,65.6h0.8M341.8,54.9h0.8M327.7,57.5h0.8M352.8,59.5h0.8" stroke="#8e9088" stroke-width="0.8" opacity="0.8" fill="none"/>
<line x1="321.5" y1="52.2" x2="354" y2="52.2" stroke="#8c9a6a" stroke-width="0.8" opacity="0.7"/>
<line x1="321.5" y1="62.8" x2="354" y2="62.8" stroke="#d4d4d0" stroke-width="0.7"/>
<ellipse cx="334.6" cy="58" rx="9.5" ry="3.2" fill="#8488b4" opacity="0.45" filter="url(#b2)"/>
<ellipse cx="334.6" cy="58" rx="6.2" ry="2.1" fill="#5252b4" filter="url(#b1)" opacity="0.75"/>
<path d="M326.4,61.8h0.8M333.7,54.4h0.8M349,53.7h0.8M338.8,61.4h0.8M326.6,61.6h0.8M336.6,64.3h0.8M338.7,63.6h0.8M348.3,54.1h0.8M323.7,54.9h0.8M350.5,54.7h0.8M342.1,59.2h0.8M328.7,64.8h0.8M329.7,64.7h0.8M328.2,63.3h0.8M349.4,61.9h0.8M347.8,61.6h0.8M325.2,55.3h0.8M343.6,57.4h0.8M329,58.6h0.8M347.8,62.2h0.8M331.7,59.6h0.8M348.2,62.7h0.8M329.3,61.7h0.8M351,58.3h0.8M331.4,57.4h0.8M344.3,60.1h0.8M349,60.5h0.8M352.7,53.5h0.8M345.3,56.3h0.8M322.5,60.5h0.8M342.1,60.9h0.8M324.7,53.4h0.8M351.3,64.7h0.8M338.9,59.2h0.8M335.3,55.4h0.8M347,64h0.8M338.2,54.5h0.8M343.1,59h0.8M349.3,59h0.8M334.3,57.9h0.8M326.1,60.8h0.8M345.3,59.2h0.8M339.1,60.7h0.8M333,62.1h0.8M326.2,60.1h0.8M347.2,62.8h0.8M331.2,63.6h0.8M339.1,53.3h0.8M346.8,62.5h0.8M352.7,54.7h0.8M349.3,62h0.8M344.3,53.4h0.8M336.2,59.2h0.8M323.9,63.2h0.8M337.3,55.4h0.8M345.2,55.5h0.8M341.4,55.1h0.8M324.4,61h0.8M343.3,64.7h0.8M326.5,53.7h0.8M344.8,63.9h0.8M323.4,58h0.8M347.2,54.2h0.8M342.5,55.1h0.8M329.9,57.8h0.8M338.9,54.1h0.8M340.1,57.6h0.8M339.2,59.4h0.8M329.3,57.5h0.8M323.8,64.9h0.8" stroke="#909090" stroke-width="0.8" opacity="0.7" fill="none"/>
<rect x="321.3" y="51.6" width="33" height="14" fill="none" stroke="#6a6a6a" stroke-width="0.45"/>
<rect x="357.2" y="37" width="42.4" height="30" fill="none" stroke="#555" stroke-width="0.5"/>
<text x="330" y="40" font-size="3" text-anchor="start" fill="#555" >P1(1)</text>
<text x="392" y="42.5" font-size="3" text-anchor="start" fill="#555" >P7</text>
<text x="305.6" y="27.3" font-size="8.4" text-anchor="start" fill="#111" >i</text>
<text transform="translate(319,24) rotate(-90)" font-size="3.2" text-anchor="middle" fill="#444">250</text>
<text transform="translate(319,33) rotate(-90)" font-size="3.2" text-anchor="middle" fill="#444">200</text>
<text transform="translate(319,42) rotate(-90)" font-size="3.2" text-anchor="middle" fill="#444">150</text>
<text transform="translate(319,51) rotate(-90)" font-size="3.2" text-anchor="middle" fill="#444">100</text>
<text transform="translate(319,61) rotate(-90)" font-size="3.2" text-anchor="middle" fill="#444">50</text>
<text transform="translate(314.3,40) rotate(-90)" font-size="2.8" text-anchor="middle" fill="#555">FSC-A (x 1,000)</text>
<text x="333" y="73.5" font-size="2.6" text-anchor="middle" fill="#555" >10²</text>
<text x="354" y="73.5" font-size="2.6" text-anchor="middle" fill="#555" >10³</text>
<text x="375" y="73.5" font-size="2.6" text-anchor="middle" fill="#555" >10⁴</text>
<text x="395" y="73.5" font-size="2.6" text-anchor="middle" fill="#555" >10⁵</text>
<text x="362" y="77" font-size="2.8" text-anchor="middle" fill="#888" >SSC-A</text>
<rect x="320.5" y="83.3" width="85.7" height="78.4" fill="none" stroke="#777" stroke-width="0.6"/>
<path d="M318.9,83.3h1.6M319.7,84.9h0.8M319.7,86.6h0.8M319.7,88.2h0.8M319.7,89.8h0.8M318.9,91.5h1.6M319.7,93.1h0.8M319.7,94.7h0.8M319.7,96.4h0.8M319.7,98h0.8M318.9,99.6h1.6M319.7,101.3h0.8M319.7,102.9h0.8M319.7,104.5h0.8M319.7,106.2h0.8M318.9,107.8h1.6M319.7,109.4h0.8M319.7,111.1h0.8M319.7,112.7h0.8M319.7,114.3h0.8M318.9,116h1.6M319.7,117.6h0.8M319.7,119.2h0.8M319.7,120.9h0.8M319.7,122.5h0.8M318.9,124.1h1.6M319.7,125.8h0.8M319.7,127.4h0.8M319.7,129h0.8M319.7,130.7h0.8M318.9,132.3h1.6M319.7,133.9h0.8M319.7,135.6h0.8M319.7,137.2h0.8M319.7,138.8h0.8M318.9,140.5h1.6M319.7,142.1h0.8M319.7,143.7h0.8M319.7,145.4h0.8M319.7,147h0.8M318.9,148.6h1.6M319.7,150.3h0.8M319.7,151.9h0.8M319.7,153.5h0.8M319.7,155.2h0.8M318.9,156.8h1.6M319.7,158.4h0.8M319.7,160.1h0.8M319.7,161.7h0.8M320.5,161.7v1.6M322.1,161.7v0.8M323.7,161.7v0.8M325.4,161.7v0.8M327,161.7v0.8M328.6,161.7v1.6M330.2,161.7v0.8M331.8,161.7v0.8M333.4,161.7v0.8M335.1,161.7v0.8M336.7,161.7v1.6M338.3,161.7v0.8M339.9,161.7v0.8M341.5,161.7v0.8M343.1,161.7v0.8M344.8,161.7v1.6M346.4,161.7v0.8M348,161.7v0.8M349.6,161.7v0.8M351.2,161.7v0.8M352.8,161.7v1.6M354.5,161.7v0.8M356.1,161.7v0.8M357.7,161.7v0.8M359.3,161.7v0.8M360.9,161.7v1.6M362.5,161.7v0.8M364.2,161.7v0.8M365.8,161.7v0.8M367.4,161.7v0.8M369,161.7v1.6M370.6,161.7v0.8M372.2,161.7v0.8M373.9,161.7v0.8M375.5,161.7v0.8M377.1,161.7v1.6M378.7,161.7v0.8M380.3,161.7v0.8M381.9,161.7v0.8M383.6,161.7v0.8M385.2,161.7v1.6M386.8,161.7v0.8M388.4,161.7v0.8M390,161.7v0.8M391.6,161.7v0.8M393.3,161.7v1.6M394.9,161.7v0.8M396.5,161.7v0.8M398.1,161.7v0.8M399.7,161.7v0.8M401.3,161.7v1.6M403,161.7v0.8M404.6,161.7v0.8M406.2,161.7v0.8" stroke="#777" stroke-width="0.4" fill="none"/>
<polygon points="323,162 404.5,141.5 405.5,146.5 332,162" fill="#d2d2d2" filter="url(#b1)" opacity="1.0"/>
<path d="M395.9,143.4h0.8M389.7,146.8h0.8M369.3,153.6h0.8M376.7,149.3h0.8M378.7,150.2h0.8M390.2,148.3h0.8M394.3,144.3h0.8M358.5,155.4h0.8M390.9,144.9h0.8M368,154.2h0.8M400.3,145.9h0.8M368.5,152.9h0.8M356,154.4h0.8M403.5,146.4h0.8M395.6,145.2h0.8M355.9,156.4h0.8M384.9,149.2h0.8M333.7,160.7h0.8M380.6,147.9h0.8M359,154.2h0.8M404.4,147.1h0.8M350.2,157.1h0.8M350,157.1h0.8M384.8,148.5h0.8M378,149.7h0.8M394.7,146.7h0.8M375.8,152.3h0.8M400.3,145.6h0.8M340.6,158.2h0.8M388.6,147.4h0.8M365.9,150.4h0.8M373.3,151.8h0.8M391.1,147.1h0.8M399.5,145.4h0.8M385.8,148.5h0.8M347,156.6h0.8M379.2,150.9h0.8M340.6,156.7h0.8M402.1,145.2h0.8M353.1,156.4h0.8M378.7,152.6h0.8M398.4,146.5h0.8M400.9,145.5h0.8M353.8,156.9h0.8M355.6,158.5h0.8M404.6,146.2h0.8M390.8,148.9h0.8M402.8,145.1h0.8M365.6,152.9h0.8M390.1,144.6h0.8M380,150.3h0.8M352,159.3h0.8M393.1,146.5h0.8M402.1,144.9h0.8M336,158.8h0.8M375.7,149.5h0.8M385.1,148.4h0.8M366.3,153.9h0.8M362.8,155.4h0.8M377.2,149.3h0.8M373.2,150.1h0.8M355.1,154.3h0.8M401.2,147.1h0.8M401.7,144.1h0.8M379.2,149.2h0.8M395.3,148.4h0.8M343.4,157.4h0.8M402.6,145.9h0.8M341.7,160.2h0.8M352.8,157.3h0.8M349.8,157.7h0.8M363.1,153.6h0.8M333.2,159.3h0.8M364.5,153.1h0.8M363,153.9h0.8M353.8,156.4h0.8M364.4,151h0.8M399,142h0.8M373.6,151.9h0.8M371.6,152.9h0.8M371.5,151.5h0.8M388.3,150.8h0.8M381.7,149h0.8M392.3,144.4h0.8M357.7,154.3h0.8M373.3,150.3h0.8M361.3,155h0.8M391.8,148.9h0.8M333,160.5h0.8M337.6,161.2h0.8M340.7,154.6h0.8M387.5,144.9h0.8M351.4,156.7h0.8M337.8,159h0.8M392.4,146.2h0.8M403.9,146.3h0.8M393.9,149.6h0.8M384,145.8h0.8M386.6,151.8h0.8M385.4,146.6h0.8M401.2,149.5h0.8M399.7,145.2h0.8M370.6,152.7h0.8M344.7,155.5h0.8M393.9,147.2h0.8M403.8,140.8h0.8M384.5,148.9h0.8M375.1,150.7h0.8M341.4,158.5h0.8M384.6,149.3h0.8M391,146.7h0.8M363.2,154.2h0.8M365.9,151.1h0.8M370.1,154.2h0.8M350.1,156.2h0.8M391.2,146.1h0.8M388.1,145.2h0.8M352.9,156h0.8M374.3,149.7h0.8M388.4,148.1h0.8M370.3,149.6h0.8M376.7,152h0.8M371.9,152.9h0.8M404.3,145.8h0.8M350.2,157h0.8M387.6,149.7h0.8M393.6,149.2h0.8M339.3,158.2h0.8M360.6,155.4h0.8M372.9,152.5h0.8M356.2,154.6h0.8M384.7,148.3h0.8M364.6,153.6h0.8M375.8,152.7h0.8M342.2,156.9h0.8M390.6,147.9h0.8M399.2,144.9h0.8M366.5,153.8h0.8M359.6,155.1h0.8M367.4,152.8h0.8M375.2,153.1h0.8M387.9,145.3h0.8M396.4,147.8h0.8M361.5,155.4h0.8M333.5,158.9h0.8M377,147.7h0.8M364.7,153.6h0.8M376.4,152.7h0.8M381,149.2h0.8M343,158.9h0.8M374.4,152.2h0.8M383.6,148.2h0.8M340.7,160h0.8M347.7,155.2h0.8M364.1,153.8h0.8M395,147h0.8M380.9,151.6h0.8M362.2,154h0.8M386,148.4h0.8M377.7,149h0.8M383.8,147.9h0.8M391.8,145.2h0.8M362.5,153.1h0.8M404.7,145h0.8M390.6,148.7h0.8M362.7,153.2h0.8M384.1,151.5h0.8M388.4,149h0.8M398.6,145.8h0.8M396,146.5h0.8M355.8,153.4h0.8M344.3,157.4h0.8M348.5,158.8h0.8M335.4,160.7h0.8M372.6,153.2h0.8M386.7,146.4h0.8M339,158.7h0.8M362.5,153.3h0.8M396.9,146.9h0.8M394.7,144.8h0.8M397.2,145.6h0.8M403.2,144.1h0.8M376.3,152.3h0.8M342.8,158.5h0.8M375.3,150.4h0.8M353.7,155.5h0.8M369.6,150.4h0.8M388.8,146.7h0.8M362.6,156h0.8M403.3,141.8h0.8M369.6,153h0.8M400.8,145.4h0.8M349,158.3h0.8M365.4,152.9h0.8M380.2,148.3h0.8M348.6,155.1h0.8M386.5,149.2h0.8M403.9,142.7h0.8M369.5,154.8h0.8M387.4,148.6h0.8M337.8,159.3h0.8M390.9,148.9h0.8M401.7,146.7h0.8M404.4,144.4h0.8M394,147.3h0.8M355.8,155.4h0.8M345.2,157.9h0.8M352.1,157h0.8M376.5,151.2h0.8M341.1,157.1h0.8M395.3,144.9h0.8M399.4,145.5h0.8M360.5,154.1h0.8M396,145.3h0.8M359.3,156h0.8M391.7,146.5h0.8M391.8,144.1h0.8M345.1,160.1h0.8M401.4,143.7h0.8M388.5,148.4h0.8M360.5,155.7h0.8M398.8,143.8h0.8M375.6,153h0.8M391.8,146.2h0.8M404.8,146.5h0.8M379.7,150.1h0.8M398.8,141.4h0.8M335.9,159.5h0.8M403.6,142.9h0.8M387.4,149.5h0.8M369.3,150.6h0.8M368.2,152.2h0.8M352.6,156.3h0.8M354.2,156.1h0.8M360.8,154.4h0.8M375.4,153.8h0.8M403.5,146.3h0.8M393.5,148.1h0.8M378.8,153.1h0.8M350.6,155.9h0.8M343.2,158.4h0.8M343,158.1h0.8M369.5,153.6h0.8M381.8,147.3h0.8M363.1,151.2h0.8M395.9,143.9h0.8M327.7,160.8h0.8M397.9,143.8h0.8M394.4,142h0.8M382.3,147.7h0.8M396.8,145.4h0.8M397.9,146.2h0.8M386.2,147.3h0.8M391.3,145.8h0.8M364.6,153.8h0.8M368.6,152.1h0.8M354.7,153.7h0.8M340.3,158h0.8M364,153.2h0.8M354.4,155.7h0.8M390.5,145.2h0.8M348.8,156.5h0.8M337.5,160.8h0.8M390.6,150.6h0.8M350.9,154.9h0.8M367.2,152.8h0.8M391,145.9h0.8M340.3,160.3h0.8M397.6,143.8h0.8M374.1,151.8h0.8M401.2,144.6h0.8M345.1,157.4h0.8M397.6,144h0.8M382.4,149.1h0.8M344.6,157.6h0.8M391.9,148.5h0.8M338,158.7h0.8M389.7,148.3h0.8M387.6,147.3h0.8M354.8,156.4h0.8M404.1,146.9h0.8M346.2,157.6h0.8M337.4,159.2h0.8M343,158.8h0.8M342.2,156h0.8M391,146.2h0.8M387,146.8h0.8M369.4,151.1h0.8M366.1,151.8h0.8M337.8,158.5h0.8M385.1,149.9h0.8M398.8,146.9h0.8M404.5,145.8h0.8M393.9,146.1h0.8M347,159.6h0.8M339.7,158.9h0.8M403.7,145.1h0.8M356.5,159h0.8M387.3,145.5h0.8M388.8,148.3h0.8M404.1,142h0.8M334.5,160.4h0.8M402.3,144.1h0.8M353.5,156.3h0.8M350.6,158.1h0.8M369.7,149.3h0.8M372.1,150.7h0.8M372.7,152.9h0.8M329.9,158.6h0.8M348.8,158.9h0.8M346.4,157h0.8M376.3,149.9h0.8M363,152.6h0.8M405,144.3h0.8M356.8,153.7h0.8M363.5,153.8h0.8M360,155.3h0.8M392,150.1h0.8M393.7,143.9h0.8M396,145.7h0.8M380.9,148.8h0.8M367.3,151.7h0.8M385.6,147.8h0.8M405.7,146.5h0.8M382,147.9h0.8M358.6,155.4h0.8M368.3,151.7h0.8M351.9,154.4h0.8M390.4,150.1h0.8M392.1,148.8h0.8M380.8,150.3h0.8M385.5,149.6h0.8M391.7,148.9h0.8M339.2,157.5h0.8M375.7,152.3h0.8M345.2,160.2h0.8M349.4,157h0.8M343.1,156.6h0.8M401.7,146.1h0.8M362.8,155.8h0.8M392.4,145.1h0.8M368,151.1h0.8M330,161.1h0.8M332.5,159.6h0.8M402.1,146.1h0.8M373.4,152.6h0.8M350.2,155h0.8M382.8,147.6h0.8M395.5,148.6h0.8M386.3,151.9h0.8M371.8,154.2h0.8M400.5,142.4h0.8M402.4,145.4h0.8M369.3,152.1h0.8M371.8,153.3h0.8M379.3,150.9h0.8M367.4,150.2h0.8M350.1,154.3h0.8M380.8,148.5h0.8M345.5,156.1h0.8M400.1,143.2h0.8M362.2,154.1h0.8M361.3,154.9h0.8M360.5,153.8h0.8M385,146.7h0.8M348.9,154.7h0.8M400.1,145.4h0.8M402.7,144h0.8M398.6,144.6h0.8M385.8,147.6h0.8M360.1,154.2h0.8M402.3,145.4h0.8M393.9,147.9h0.8M390.5,147.8h0.8M400.6,143.6h0.8M365.5,153h0.8M402.5,144.8h0.8M379.3,147.3h0.8M341.5,158.3h0.8M333.1,159.6h0.8M382.1,152.2h0.8M397.2,145.4h0.8M393.6,143.8h0.8M401.4,147.5h0.8M389.4,149.8h0.8M373.6,149.2h0.8M376.4,149.2h0.8M393.1,145.8h0.8M401.1,144.1h0.8M369.4,150.1h0.8M391.1,146.8h0.8M393.7,148.1h0.8M403.6,143.3h0.8M346.9,157h0.8M351,155.2h0.8M402.9,143.3h0.8M363.9,153.3h0.8M352.2,155.1h0.8M363.7,152h0.8M393.3,145.7h0.8M403.9,142.4h0.8M385.5,146.5h0.8M390.6,146h0.8M402.6,144.3h0.8M387.4,149.6h0.8M355.6,158.2h0.8M394.2,145.4h0.8M404.7,141.7h0.8M396.2,144.5h0.8M398.6,144.1h0.8M377.5,149.4h0.8M332.1,160.7h0.8M338.8,158.4h0.8M350.6,157.4h0.8M402.2,143.9h0.8M392.7,146.5h0.8M401.9,146.9h0.8M372.4,152.7h0.8M403.2,143h0.8M331.5,160h0.8M386,147.8h0.8M404.1,147.4h0.8M379.5,154h0.8M388,147.6h0.8M370.9,151.2h0.8M338.8,160h0.8M387.9,146.1h0.8M342.5,159.4h0.8M362.9,154.6h0.8M380.7,152.1h0.8M349.5,156.7h0.8M369.4,152.8h0.8M382.6,148.3h0.8M339.5,159.9h0.8M395.1,144.7h0.8M358,154.6h0.8M403.4,147.6h0.8M366.3,150.7h0.8M357.8,155h0.8M365.3,150.9h0.8M350.7,155.9h0.8M388.7,149.2h0.8M400.8,142.3h0.8M356.4,156.2h0.8M327.2,160.6h0.8M364.6,156.1h0.8M377.1,153.4h0.8M380.9,151.8h0.8M373.1,152h0.8M400.7,146.8h0.8M347,157.2h0.8M404.3,143.7h0.8M364.2,153.6h0.8M349.3,155.3h0.8M390.7,146.5h0.8M350.9,154.5h0.8M368.7,155.1h0.8M401.8,146.5h0.8M335.3,160.6h0.8M400.2,142.4h0.8M394.6,145.2h0.8M385,149.1h0.8M400.6,145.9h0.8M383.2,149.7h0.8M393.6,147.7h0.8M352.5,154.7h0.8M384.2,147.3h0.8M381.8,150.4h0.8M375.8,148.6h0.8M395.2,144.7h0.8M402.1,145.5h0.8M394.4,147h0.8M374.2,151.7h0.8M402.4,141.5h0.8M376.5,150.3h0.8M391.3,147.5h0.8M403.3,146.9h0.8M387.7,147.3h0.8M343.8,158.4h0.8M404.5,143.7h0.8M358.4,151.9h0.8M349.5,158h0.8M339.8,157.4h0.8M331.3,160.3h0.8M363.8,153.8h0.8M362.6,154.1h0.8M333.3,157.8h0.8M393,145.5h0.8M394.6,146.3h0.8M363.4,155h0.8M367.9,153.4h0.8M384.2,150.2h0.8M392.7,145.5h0.8M397.1,143.3h0.8M348.6,157.1h0.8M351.8,156.5h0.8M331.4,160.3h0.8M377.5,149.7h0.8M375.8,148.7h0.8M366.9,154.2h0.8M351.6,157.8h0.8M379.6,152h0.8M345.7,158.1h0.8M347.8,156.2h0.8M391.8,146.5h0.8M361.5,154.9h0.8M355.9,157.5h0.8M356.4,157.7h0.8M397.8,144h0.8M359.9,154.4h0.8M397.5,147h0.8M391.3,145.8h0.8M355.6,156.4h0.8M384,148.9h0.8M347.1,157.1h0.8M398.1,144.2h0.8M350.2,155.4h0.8M386.7,148.2h0.8M382.8,149.3h0.8M377.8,150.1h0.8M395.6,145.2h0.8M380,150.5h0.8M373.7,152.4h0.8M346.2,157h0.8M396.1,143.4h0.8M350.2,156.7h0.8M342.9,159h0.8M397,145.5h0.8M369.4,153.3h0.8M352.4,157.9h0.8M338.5,159.1h0.8M381.5,147.8h0.8M356.9,155.1h0.8M395.9,145.4h0.8M364.3,154.1h0.8M390.5,145.6h0.8M368.4,154h0.8M389.8,146.8h0.8M395.6,144.6h0.8M344.4,157.6h0.8M396.1,145.1h0.8M374.1,149h0.8M355.1,155.1h0.8M399.2,144.8h0.8M369.5,152.9h0.8M370.3,154.2h0.8M340.3,158.8h0.8M358.3,154.4h0.8M395.8,145.4h0.8M395.4,147.5h0.8M347.3,156h0.8M349.8,156.4h0.8M390.8,147.3h0.8M365.1,151.1h0.8M387.9,150.3h0.8M390.2,149.6h0.8M382,149.4h0.8M327.1,161.1h0.8M362.2,155.7h0.8M345.7,156.2h0.8M358.2,153.8h0.8M390.3,145.2h0.8M396.5,142.2h0.8M374.3,150.9h0.8M355.3,155h0.8M404.5,143.6h0.8M402.6,144.2h0.8M337.7,158.9h0.8M360.3,154.2h0.8M361.4,150.2h0.8M362.3,154.6h0.8M382.1,147.2h0.8M402.5,142.4h0.8M352,157.4h0.8M356.8,154.6h0.8M362.5,152.8h0.8M390.4,146.2h0.8M330.3,160.3h0.8M381.6,150.9h0.8M354.7,152.5h0.8M357.7,154.3h0.8M342.9,156.3h0.8M400.7,147.4h0.8M336.1,159.7h0.8M370.2,152.9h0.8M337.1,160.1h0.8M389.9,146h0.8" stroke="#a8a8a8" stroke-width="0.8" opacity="0.85" fill="none"/>
<path d="M399.9,145.4h0.7M381.8,153.6h0.7M386.2,151.8h0.7M391.7,147.2h0.7M402.5,146.1h0.7M399.5,147.4h0.7M384.4,149.4h0.7M383.1,151.1h0.7M405.1,146.6h0.7M400,149.2h0.7M402.9,146.8h0.7M395.4,146.8h0.7M384.1,152.2h0.7M399.3,146.3h0.7M400.9,144.3h0.7M403.4,146.8h0.7M390.8,151.8h0.7M381.4,148.8h0.7M386.3,148.5h0.7M382,150.9h0.7M396,150.6h0.7M395,150.2h0.7M392.7,153.5h0.7M396.7,149.6h0.7M396.5,153.1h0.7M383.9,150.1h0.7M384.3,148.2h0.7M389.5,148.9h0.7M386.3,149h0.7M385.3,149.1h0.7M395.1,145.6h0.7M399,148.6h0.7M401.2,149.4h0.7M392.3,146h0.7M400.3,146h0.7M405.1,147.2h0.7M404.8,151.1h0.7M401.5,146h0.7M403.9,146.5h0.7M391.5,150.6h0.7M387,149h0.7M392.6,150.4h0.7M398.4,146.7h0.7M396,150.3h0.7M403.4,149.3h0.7M391,147.4h0.7M404.9,149.1h0.7M405.2,150.8h0.7M404.6,145.9h0.7M389.1,149.8h0.7M398.3,148.5h0.7M399,149h0.7M395,146.8h0.7M402.5,149.5h0.7M403,148.5h0.7M394,149.3h0.7M385.9,151.1h0.7M398.2,147.8h0.7M401.4,147.5h0.7M384.2,149.1h0.7M393.9,150.7h0.7M396.1,147h0.7M392.5,151.9h0.7M405.4,150.5h0.7M399.5,148.3h0.7M383.3,148.7h0.7M399.7,149.3h0.7M397.1,148.5h0.7M394.9,148.9h0.7M384.4,147.4h0.7M386.3,150.4h0.7M387,150.3h0.7M405.2,145.7h0.7M401.2,150.2h0.7M403.4,151.1h0.7M386,151.4h0.7M398.6,145.7h0.7M401.2,148.5h0.7M382.9,150.8h0.7M400.8,154.2h0.7M397.4,151h0.7M387.9,150.5h0.7M400.2,147h0.7M400.9,150.5h0.7M404,150.9h0.7M390.2,147.6h0.7M404.4,144.5h0.7M393.8,149.4h0.7M403.4,147.3h0.7M399.3,147.3h0.7M398.7,149.8h0.7M382.1,150.6h0.7M398.1,150.2h0.7M402.6,150h0.7M395.1,147h0.7M396,147.8h0.7M402.3,150.6h0.7M385.9,151h0.7M404.1,145.2h0.7M393.1,151.7h0.7M396.8,152.6h0.7M399.1,150.9h0.7M397.3,145h0.7M390.3,149.6h0.7M395.8,149.9h0.7M401.2,147.8h0.7M404.6,146.7h0.7M394.8,150.5h0.7M380.6,148.9h0.7M389.6,150.5h0.7M385.4,152h0.7M392.3,153h0.7M391,149.7h0.7M400.1,148h0.7M405.2,150.5h0.7M397.8,150.4h0.7" stroke="#b8b8b8" stroke-width="0.7" opacity="0.8" fill="none"/>
<path d="M387.1,121.2h0.7M376,131.9h0.7M371.2,128.6h0.7M359.7,142.4h0.7M361.7,147h0.7M400.7,128h0.7M380.5,139.5h0.7M368.7,144.5h0.7M392,128.9h0.7M397.2,116.2h0.7M403.3,142.1h0.7M341,153.3h0.7M359.5,135h0.7M381,123.3h0.7M396.8,115.6h0.7M361.8,136.3h0.7M392.2,128.6h0.7M376.9,136.6h0.7M349.6,155.5h0.7M393.3,136.6h0.7M396.7,125.3h0.7M392.8,140.3h0.7M370.4,145h0.7M359.1,146.2h0.7M369.8,129h0.7M387.8,123h0.7M361,132.7h0.7M383.2,130h0.7M402.9,137.6h0.7M377.5,130.5h0.7M366.7,149.1h0.7M393.5,118.4h0.7M381.3,133h0.7M377.8,142.7h0.7M370.4,135.1h0.7M391,136.6h0.7M390.3,142.6h0.7M375.6,129.8h0.7M396.2,143.1h0.7M362.5,134.6h0.7M364.7,148.2h0.7M376.1,123.9h0.7M381.2,123.3h0.7M372.2,123.1h0.7M360.8,146.3h0.7M401,132h0.7M404.4,129.7h0.7M396.4,124.9h0.7M368,147.8h0.7M402.4,128.5h0.7M383.6,138.2h0.7M376.8,127h0.7M382.7,134.7h0.7M366.3,151.4h0.7M388.3,131.9h0.7M378.1,122.8h0.7M399.9,114.1h0.7M377.1,133.8h0.7M366.8,150.8h0.7M349.6,153.9h0.7M401.4,129h0.7M382.3,135.4h0.7M352.5,150.6h0.7M404.4,137h0.7M386.9,138h0.7M375.3,131.9h0.7M399.1,137.5h0.7M342.7,152.3h0.7M381.3,142.7h0.7M391.9,137.8h0.7M357,143.2h0.7M348.4,147.2h0.7M383.6,137.3h0.7M397.5,133.5h0.7M358,139.4h0.7M387.2,130.6h0.7M401.3,130.2h0.7M401.3,138.8h0.7M394.4,118.1h0.7M365.1,138.4h0.7M400.1,119.8h0.7M402.1,125.5h0.7M371.5,124.1h0.7M376.7,150.2h0.7M376.7,149h0.7M371.4,146.8h0.7M346.1,149.8h0.7M371.1,134.7h0.7M401.7,115.4h0.7M398.1,139h0.7M376.9,141.3h0.7M361.5,132.8h0.7M383.3,131.9h0.7M356.7,144.3h0.7M383.1,126h0.7M344,148.9h0.7M388.7,115.7h0.7M357.9,152.3h0.7M369.1,147.8h0.7M396.9,140.7h0.7M357.4,147h0.7M398.8,138.1h0.7M367.7,143.7h0.7M380,133.4h0.7M385.1,135.3h0.7M404.8,139h0.7M399.3,135.2h0.7M344.1,150.5h0.7M400.1,136.4h0.7M380.6,124.2h0.7M402.5,122.1h0.7M397.8,139.4h0.7M350.6,150.4h0.7M381.1,141.3h0.7M376.1,128.2h0.7M371.2,132.1h0.7M378.1,131.3h0.7M385.1,127.1h0.7M386.4,123.7h0.7M402.1,129.3h0.7M399.8,116.3h0.7M385.5,138.9h0.7M351.7,151h0.7M389.8,123.6h0.7M369.6,139.2h0.7M353.7,155.3h0.7M387.5,135.5h0.7M393.5,124.2h0.7M369.5,134.8h0.7M354.6,148.7h0.7M376.2,143.9h0.7M351.4,150.2h0.7M387,125.1h0.7M354.9,141h0.7M388,120.2h0.7M375.9,131.3h0.7M398.3,129.7h0.7M371.7,136.4h0.7M370.2,138.6h0.7M387.9,128.6h0.7M387.3,138.6h0.7M397.6,125.4h0.7M368.9,135.2h0.7M382.6,120.9h0.7M384.4,141.3h0.7M390.2,134.4h0.7M378.1,128.4h0.7M377.8,143.5h0.7M378,132.5h0.7M393.6,113.3h0.7M373.1,131.2h0.7M394.5,136.3h0.7M367.2,146.9h0.7M366.2,138.2h0.7M366.2,136h0.7M395.1,139.2h0.7M377.7,143.4h0.7M367.8,149.9h0.7M360.5,140.5h0.7M374.5,145.9h0.7M364.4,127.7h0.7M356.3,147.7h0.7M392.3,141.4h0.7M402.4,112.4h0.7M399.3,119.1h0.7M365.5,133.2h0.7M389.1,146.7h0.7M398.8,122.5h0.7M394.9,118.9h0.7M371.3,124.7h0.7M363.9,142h0.7M365.8,128.7h0.7M397.1,117.8h0.7M385.2,124h0.7M394.7,124.8h0.7M387.6,117h0.7M403.6,116.6h0.7M390.1,138.1h0.7M364.5,149.9h0.7M343,155.7h0.7M364.3,129.8h0.7M378.5,134h0.7M356.9,148.1h0.7M365.9,137.1h0.7M372.9,142.8h0.7M361.4,133.5h0.7M370.7,130h0.7M384,137.7h0.7M381.3,120.9h0.7M397.9,128.1h0.7M369.7,128.8h0.7M363,133.3h0.7M357.2,149.8h0.7M398.2,129.9h0.7M375,136.2h0.7M401.5,112.3h0.7M364,135.3h0.7M382.3,120.5h0.7M340.3,156h0.7M375.1,125.7h0.7M388,139.5h0.7M364.3,143.5h0.7M388.8,118.6h0.7M386.2,121.5h0.7M374.9,126.7h0.7M353.4,145.2h0.7M350,152.7h0.7M402.7,122h0.7M387,129.5h0.7M378.9,133.8h0.7M348.5,151.8h0.7M384.8,142.9h0.7M352.5,146.7h0.7M389.4,132.8h0.7M370.9,131h0.7M378,127.2h0.7M398.3,121h0.7M387.4,120.1h0.7M383.4,136.5h0.7M371.5,131.5h0.7M378.5,131.5h0.7M395.3,133.3h0.7M402.9,138h0.7M395.8,138.7h0.7M356.5,155h0.7M391.5,129.5h0.7M390.5,118.6h0.7M392.9,117h0.7M397.6,137.1h0.7M375.3,147.4h0.7M372.4,136.7h0.7M388.1,118.4h0.7M356.4,147h0.7M397.3,133.3h0.7M380.3,128.2h0.7M370.5,124.2h0.7M387.9,141.5h0.7M388,120.3h0.7M366.3,134.1h0.7M399.4,116.7h0.7M390.7,121.2h0.7M385.4,125.4h0.7M357.7,142.7h0.7M393.1,114.6h0.7M356.9,147.4h0.7M361.4,144.8h0.7M402,136.5h0.7M367,128.3h0.7M393.9,117.8h0.7M399.7,139.3h0.7M394.9,114.3h0.7M375.6,144h0.7M387.9,131.3h0.7M355.3,145.5h0.7M388.9,131.9h0.7M386.5,133h0.7M391.1,127.9h0.7M372.7,132.8h0.7M391.6,129.1h0.7M356.1,134.4h0.7M361.6,137.6h0.7M360.7,141.3h0.7M372.5,127.9h0.7M378.3,124.6h0.7M374.9,131.1h0.7M378.5,143.2h0.7M355.1,152.7h0.7M362.9,143.1h0.7M380.1,139.8h0.7M371.6,142h0.7M384.9,138.9h0.7M349.7,152.9h0.7M389.8,119.8h0.7M366.7,132.3h0.7M377,146.4h0.7M378.7,141.3h0.7M364.3,143h0.7M400.2,135.4h0.7M358.3,142.4h0.7M379.6,126h0.7M392.2,122.7h0.7M380.8,138.4h0.7M375.6,129.8h0.7M362.2,135.6h0.7M363.1,145.9h0.7M372.9,122.8h0.7M396.8,121.8h0.7M397.1,136.5h0.7M355.3,149.4h0.7M392.3,140.5h0.7M358,153.9h0.7M345.2,156h0.7M397.4,122.4h0.7M356.7,146.2h0.7M344,156.1h0.7M371.2,126.8h0.7M355.2,152h0.7M389.9,115.2h0.7M385.8,125.2h0.7M374.9,128.4h0.7M390.4,133.1h0.7M398.1,130.2h0.7M353.2,148.6h0.7M377.7,135.4h0.7M384.4,122.5h0.7M376.1,131.9h0.7M360.3,147h0.7M347.8,149.9h0.7M392.5,132.9h0.7M373.5,145.8h0.7M395.7,142.3h0.7M375.9,128.5h0.7M396.4,138.3h0.7M378.2,132.6h0.7M400.4,126h0.7M347.3,152.8h0.7M377.4,132.4h0.7M390,120.3h0.7M389.9,126.5h0.7M390.8,119.2h0.7M390.8,131.3h0.7M398.3,139.3h0.7M375.2,142h0.7M389.1,126.8h0.7M363.9,133.4h0.7M370.3,140.6h0.7M392.2,130.1h0.7M391.2,133.4h0.7M348,152.9h0.7M385.6,130.4h0.7M389.3,135.5h0.7M370.1,129.8h0.7M377.1,126.2h0.7M397.2,139.5h0.7M392.1,141.6h0.7M390.2,141.8h0.7M397.9,124.8h0.7M393.1,127.7h0.7M378.1,139h0.7M383.2,136.7h0.7M366.9,142.4h0.7M351.2,150.4h0.7M399.2,114h0.7M350.6,152.1h0.7M374.8,142.7h0.7M399.1,116.6h0.7M401.5,128.1h0.7M383.5,136h0.7M391.9,142.4h0.7M403.3,118.6h0.7M374.4,136.9h0.7M387.6,132.2h0.7M372.6,137.5h0.7M388.1,134.4h0.7M404.3,133.1h0.7M375,137.2h0.7M364.8,133.5h0.7M385.3,119.3h0.7M365.4,131.7h0.7M365.9,137h0.7M404.7,127.3h0.7M367.8,146.9h0.7M391.3,136.6h0.7M399.8,137.4h0.7M404.2,113h0.7M387.2,133.5h0.7M380.3,142.6h0.7M347.2,153.4h0.7M386.8,120.7h0.7M399.3,116.6h0.7M345.1,158.8h0.7M392.2,135.2h0.7M394.6,126h0.7M381.3,133.4h0.7M401.3,117.3h0.7M355.8,146.1h0.7" stroke="#c8c8c8" stroke-width="0.7" opacity="0.8" fill="none"/>
<path d="M330.4,156.6h0.7M334.2,154.7h0.7M351.6,132.8h0.7M348.6,137.1h0.7M345.7,140.4h0.7M349.8,134.8h0.7M340.1,150.5h0.7M358,133.6h0.7M349.5,141.1h0.7M339.7,151.3h0.7M339.9,149.3h0.7M351.6,139.8h0.7M338.1,153.6h0.7M341.5,148.9h0.7M355.4,131.5h0.7M338.8,149.1h0.7M349.2,135.1h0.7M355,129.1h0.7M339.4,146.6h0.7M337.7,152.7h0.7M328.1,157.3h0.7M335.8,151.7h0.7M347.5,139.2h0.7M350.6,136.9h0.7M344.2,142.7h0.7M341.5,143h0.7M343.6,145.3h0.7M358.9,127.2h0.7M338.3,147.7h0.7M358.6,127.6h0.7M336.9,156.3h0.7M356.5,131.8h0.7M332.1,158.4h0.7M336.5,150.1h0.7M354.3,131.1h0.7M343.7,141.2h0.7M346.8,142.7h0.7M343.3,148.2h0.7M357.1,127.6h0.7M342.5,143.1h0.7M330.3,157.1h0.7M343.9,141.6h0.7M331.3,157.7h0.7M331.5,154.5h0.7M339,152.8h0.7M329.5,158.5h0.7M351.6,131.1h0.7M355.2,131.1h0.7M345.5,145.9h0.7M345.5,141.1h0.7M341.9,147.7h0.7M343.8,143.6h0.7M353.7,125.4h0.7M349.9,141.4h0.7M362.3,125.9h0.7M350.7,139.8h0.7M344.5,140.8h0.7M360.2,130.9h0.7M347,144.2h0.7M348.5,140.7h0.7M333.1,150h0.7M334.3,156.2h0.7M334.3,151.6h0.7M344.3,138.3h0.7M327.9,161h0.7M333.7,161.1h0.7M354.9,132.4h0.7M339.4,145.9h0.7M330.8,159.9h0.7M334.4,152.3h0.7M346.8,140.6h0.7M342.9,142h0.7M342,149.8h0.7M358.5,126h0.7M359.7,127.6h0.7M332.5,150.3h0.7M358.5,128.4h0.7M360.1,127.5h0.7M328.6,155.5h0.7M333.6,153.8h0.7M342.6,141.6h0.7M334.4,155.7h0.7M357.1,126.5h0.7M353.8,135.7h0.7M350.6,137.9h0.7M352.4,131.5h0.7M345.5,146.7h0.7M339.8,151.7h0.7M330.1,157.7h0.7M339,148.9h0.7M343.7,144.7h0.7M355.2,130.8h0.7M355.9,127.6h0.7M330.2,159h0.7M337.4,147.7h0.7M343.2,143.8h0.7M331.3,155.9h0.7M342.8,144.7h0.7M332.9,151h0.7M330.4,155h0.7M352.1,133.8h0.7M351.5,136.8h0.7M330,154.9h0.7M360.1,126.5h0.7M342.6,144.7h0.7M342.9,142h0.7M332.7,155.3h0.7M336.5,148.1h0.7M361,127.8h0.7M350.7,138.7h0.7M332.4,159.1h0.7M348.1,140.2h0.7M332.7,154.8h0.7M335.8,149.3h0.7M334.2,153.3h0.7M328.3,161.2h0.7M351.5,134.4h0.7M354.7,128.2h0.7M345.7,143.1h0.7M332.2,152.5h0.7M350.8,131.9h0.7M347.9,141.7h0.7M360.2,127.5h0.7M344,144.2h0.7M351.6,137.1h0.7M346.8,142h0.7M340.3,145.1h0.7M331.2,156.2h0.7M351.8,135.2h0.7M358.9,123.5h0.7M345.4,143.2h0.7M358.1,123.6h0.7M358.3,125.4h0.7M350.2,134.8h0.7M340.2,151.3h0.7M346.1,145.3h0.7M346.1,138.2h0.7M335.2,159.6h0.7M333.4,150.3h0.7M327.4,157.7h0.7M348.4,138.6h0.7M354.1,128.8h0.7M334.2,153.6h0.7M330.5,157.8h0.7M344.2,144.5h0.7M344.6,143.4h0.7M351.8,138h0.7M331,155.9h0.7M353.5,127.8h0.7M337.8,143.8h0.7M336.3,146h0.7M345.4,136h0.7M330.7,156.3h0.7M341.1,140.6h0.7M329,158.6h0.7M335.5,151.4h0.7M338.9,143.3h0.7M356.4,128.4h0.7M327.1,159.6h0.7" stroke="#bdbdbd" stroke-width="0.7" opacity="0.8" fill="none"/>
<polygon points="360.4,121 364,116.5 372,109.5 386,98 398,89 405.7,84 405.7,107.5 396,109.5 384,113 372,117.5 364,122.5" fill="#a0a0a0" filter="url(#b1)" opacity="1.0"/>
<path d="M386.6,102.1h0.8M377.7,107.1h0.8M379.5,108.1h0.8M385.8,108.9h0.8M386.6,106.4h0.8M403,85.1h0.8M391.9,100.6h0.8M367.7,118.1h0.8M389.9,106h0.8M389.3,108.9h0.8M390.8,101.8h0.8M364,119.9h0.8M401.8,90.1h0.8M400.7,106.8h0.8M395.8,95.2h0.8M401.2,92.5h0.8M405.1,86h0.8M377.9,108.5h0.8M380.2,107.4h0.8M377.9,112.1h0.8M398.6,108.3h0.8M392.3,104.2h0.8M396.2,105.6h0.8M395.9,97.3h0.8M387.4,104.5h0.8M396.8,90.8h0.8M362.6,118.2h0.8M386.8,109.9h0.8M378.5,111.8h0.8M387.3,96.9h0.8M378.7,111.4h0.8M371.6,116.1h0.8M403.6,86.1h0.8M383.8,105.9h0.8M386.5,102.1h0.8M377,114.1h0.8M378.3,109.6h0.8M396.8,93.5h0.8M363.1,117.3h0.8M397.8,89.6h0.8M389.8,103.7h0.8M390,102.8h0.8M403.7,99h0.8M394,99h0.8M394.4,102.1h0.8M370.4,114.8h0.8M389.3,97.2h0.8M379.3,111.4h0.8M379.9,108.9h0.8M392.7,100.3h0.8M401.6,103.4h0.8M366,119.6h0.8M383.4,105.6h0.8M389.9,103.6h0.8M397.8,109.5h0.8M382.4,103.5h0.8M371.2,115.2h0.8M391.8,106.6h0.8M394.3,97.3h0.8M362.1,120.4h0.8M361.7,119.1h0.8M382.9,106h0.8M403.8,101.7h0.8M386.5,105.6h0.8M377.1,112.6h0.8M405.7,103.2h0.8M395.4,90.5h0.8M392.4,105.5h0.8M388.9,99.5h0.8M398.8,90.1h0.8M393.6,101h0.8M372.3,111.2h0.8M401.8,92h0.8M378.2,115.4h0.8M387.8,104h0.8M377.9,111.1h0.8M402.1,107.9h0.8M379.8,103.8h0.8M377.2,112.6h0.8M373,114.4h0.8M400.9,95h0.8M376.5,109.7h0.8M402.7,96.9h0.8M396.2,91h0.8M396.1,96.1h0.8M385.6,111.2h0.8M367.8,116.6h0.8M377.1,113.9h0.8M385.9,99.9h0.8M382.1,112.2h0.8M397.7,99.5h0.8M394,95.5h0.8M371.5,118.2h0.8M377.5,113.2h0.8M390.2,102.2h0.8M396.3,94.1h0.8M374.7,115.2h0.8M400.8,96.4h0.8M372.5,111.7h0.8M396.5,90.8h0.8M401.6,95.8h0.8M364.2,117.5h0.8M381.7,108.9h0.8M396.3,103.7h0.8M381.6,110.6h0.8M401.8,99.1h0.8M368,115.9h0.8M390,101h0.8M400.5,95.5h0.8M400.5,88h0.8M372.1,116.3h0.8M390.1,101.2h0.8M377.6,107.6h0.8M378.6,106.5h0.8M402.7,87.9h0.8M388.8,98.9h0.8M394.3,99.1h0.8M382.6,110.8h0.8M398.4,95h0.8M381.8,111.1h0.8M371.8,111.4h0.8M383.8,108h0.8M388.3,109.9h0.8M384,105.9h0.8M379.5,111.2h0.8M386.6,105.8h0.8M362.2,118h0.8M388.1,98.8h0.8M374.9,114.2h0.8M396,95.3h0.8M401.9,91h0.8M398.3,94.5h0.8M369,112.2h0.8M363.2,121.8h0.8M389.8,103.3h0.8M394.4,101.6h0.8M399.1,93.1h0.8M398.8,95.6h0.8M367,112.5h0.8M381,109h0.8M395.6,92.9h0.8M367.1,115.8h0.8M381.8,104.8h0.8M397.2,109.1h0.8M404.5,84.1h0.8M398.2,93.1h0.8M399.4,96.2h0.8M396.6,97.5h0.8M389.8,103.4h0.8M398.9,97.8h0.8M385,111.2h0.8M371.8,114.6h0.8M403.4,94.9h0.8M401.1,96.9h0.8M376,115.5h0.8M404.6,84.6h0.8M377.9,113.1h0.8M363.7,119h0.8M372.2,115.4h0.8M396.4,100.9h0.8M380.1,106.8h0.8M361.6,121.8h0.8M383,110.2h0.8M376,113.9h0.8M395.7,107.1h0.8M375.3,113.8h0.8M372.9,109.6h0.8M401.2,92.2h0.8M389.4,110.2h0.8M384.6,105.9h0.8M378.3,104.8h0.8M397.3,99.3h0.8M383.7,107.5h0.8M374,108.3h0.8M381.2,100.7h0.8M402.3,104.1h0.8M382.9,104.2h0.8M383,111.2h0.8M370.1,118.4h0.8M380.4,107.6h0.8M380.6,108h0.8M366.4,117.5h0.8M367,119.2h0.8M389.8,100.2h0.8M383.7,100.6h0.8M389.9,99.2h0.8M398.8,92h0.8M365.1,118.8h0.8M395.1,106.3h0.8M391.3,105.6h0.8M365.1,116.5h0.8M388.4,102h0.8M389.2,108.9h0.8M380.7,110.4h0.8M393.7,99.1h0.8M398.1,98.6h0.8M362,119.6h0.8M375.5,107.3h0.8M395.4,104.8h0.8M376,112.9h0.8M394.2,102h0.8M402.3,88.6h0.8M404.1,95.6h0.8M365.8,119.2h0.8M360.9,117.9h0.8M386.4,110.2h0.8M369.1,115.1h0.8M401.9,97h0.8M393,96.8h0.8M394.4,107.4h0.8M382.3,111h0.8M387.6,109.3h0.8M397.5,106.7h0.8M378,106.4h0.8M384.1,106.6h0.8M401.2,88h0.8M389.5,102h0.8M385,107.7h0.8M363.4,121.6h0.8M395.7,99.9h0.8M389,109.5h0.8M402.1,91.8h0.8M404.2,89.5h0.8M373.7,113.2h0.8M379.7,107.1h0.8M382.5,105.9h0.8M394.7,95.2h0.8M397.8,97.1h0.8M379.6,109.2h0.8M364.6,121.1h0.8M397.4,101.1h0.8M391.4,98.4h0.8M404.2,106.5h0.8M368.5,113.9h0.8M398.3,106.6h0.8M369.8,118.5h0.8M364.3,116.5h0.8M390.1,106.3h0.8M396.9,96.7h0.8M390.8,94.2h0.8M396.6,106h0.8M403.6,108.5h0.8M377.8,104.3h0.8M389.9,104.7h0.8M374.8,116.2h0.8M401.3,90.9h0.8M384.9,107h0.8M395.4,93.8h0.8M390.4,106.3h0.8M380.7,106.4h0.8M399.2,106.3h0.8M371.7,113.1h0.8M382,110.7h0.8M392.4,95.3h0.8M381.2,107.1h0.8M375.2,115.1h0.8M369,114.5h0.8M396.1,100.5h0.8M363.8,119.4h0.8M392.2,97.1h0.8M386,99.1h0.8M393.8,97h0.8M399.3,99.8h0.8M399.5,91.1h0.8M396.5,101.3h0.8M367,118.3h0.8M381.9,112.6h0.8M372.6,113.4h0.8M378,112.6h0.8M392.4,95.2h0.8M377.5,104.6h0.8M404,86h0.8M399.5,91.9h0.8M386.6,101.7h0.8M391,109h0.8M375.3,111.3h0.8M387.8,111h0.8M366.4,115.1h0.8M370,118.7h0.8M375.6,117h0.8M405.5,96h0.8M392,97.8h0.8M384.1,105.2h0.8M403.4,94.5h0.8M367.5,116.9h0.8M371.8,117.4h0.8M401.8,104h0.8M396.1,106.1h0.8M396,96h0.8M369.5,116.2h0.8M395.5,100.6h0.8M370.4,111.8h0.8M401.6,99.1h0.8M386.2,105.4h0.8M395.7,92.1h0.8M382,108.8h0.8M398.1,98h0.8M391.2,100.1h0.8M381.1,111.8h0.8M372.4,112.9h0.8M387.2,96.6h0.8M397.2,97.5h0.8M379.9,108h0.8M376.8,114.1h0.8M389,95.6h0.8M400.1,100.1h0.8M395.1,105.4h0.8M399.5,95.1h0.8M381.7,110.1h0.8M400.4,98.8h0.8M372.7,110.9h0.8M400.8,87.1h0.8M397.9,103.2h0.8M379.1,106.9h0.8M399,91.2h0.8M403.3,106h0.8M373.9,114.6h0.8M385.6,108.1h0.8M391.7,94.2h0.8M400.2,96.4h0.8M394.3,102.6h0.8M389.1,111.2h0.8M380.6,105.6h0.8M390.4,104h0.8M381.3,106.4h0.8M398.6,103.1h0.8M362.6,117.9h0.8M368.9,117.5h0.8M404.8,94.5h0.8M401.9,99.8h0.8M402.4,93.1h0.8M362,119.4h0.8M400,95h0.8M395.8,103.7h0.8M404.1,97.9h0.8M391.1,104.1h0.8M398.2,102h0.8M383.5,107h0.8M398.3,108.2h0.8M394.4,96.7h0.8M362.6,116.4h0.8M395.5,103.7h0.8M377.7,109.8h0.8M385.1,109.1h0.8M389.6,98.8h0.8M381.7,112.6h0.8M371.6,112.8h0.8M396.9,105.1h0.8M394.9,101.7h0.8M373.5,115.5h0.8M400.2,106.8h0.8M373.7,115.3h0.8M404.9,98.2h0.8M380.4,113.1h0.8M400.3,101.8h0.8M372.5,114.4h0.8M368.5,122.7h0.8M396.2,103h0.8M365.5,118.8h0.8M380.9,110.7h0.8M395.3,106h0.8M394.7,93.4h0.8M392.8,97.1h0.8M373,112.6h0.8M382.4,102.8h0.8M382,108.7h0.8M373.6,109.4h0.8M364.1,118.6h0.8M395.6,104.9h0.8M365.8,118.1h0.8M392.7,96.5h0.8M392.6,97.3h0.8M401.5,90h0.8M390.8,101h0.8M404.9,91.9h0.8M397.3,93.8h0.8M391.8,101.7h0.8M403.6,95.9h0.8M379.8,105.6h0.8M395.9,100.2h0.8M369.9,114.1h0.8M400.2,101.2h0.8M403.5,89.8h0.8M389.9,106.9h0.8M403.5,105.7h0.8M382.3,105.2h0.8M393.3,93.9h0.8M405.6,94.3h0.8M381.5,109.3h0.8M385.2,107.2h0.8M379.4,111h0.8M395,95.1h0.8M401.8,104.4h0.8M387.2,108.6h0.8M391.8,112.7h0.8M380.9,106.1h0.8M396.7,98.8h0.8M379.6,112.9h0.8M398.8,95.3h0.8M371.1,111.4h0.8M368.3,113.6h0.8M387.2,102.1h0.8M387.4,101.9h0.8M400.8,103.2h0.8M367.3,111.4h0.8M380.9,103.4h0.8M386.7,103.9h0.8M374.1,108.6h0.8M387.9,107.3h0.8M397.4,106.7h0.8M389.5,100.7h0.8M385.9,104.6h0.8M384.4,107.3h0.8M391.1,102.9h0.8M393.6,108h0.8M367.8,117.6h0.8M403.9,108.7h0.8M372.1,113.5h0.8M401.4,108.2h0.8M398.1,105.3h0.8M377.2,112.4h0.8M376,110.8h0.8M383.8,104.4h0.8M401.4,91.2h0.8M385.8,107.7h0.8M403.2,89.6h0.8M394.3,108.8h0.8M396.2,97h0.8M405.3,89.4h0.8M400.5,94.2h0.8M376.4,110.8h0.8M398.3,95.7h0.8M398.4,103.3h0.8M402.2,102.9h0.8M379.7,113.3h0.8M384.7,110.6h0.8M382.3,109h0.8M379,113.4h0.8M400.1,97.8h0.8M378.8,111.8h0.8M380.1,110.4h0.8M388.6,101.6h0.8M388.7,109h0.8M396.2,96.7h0.8M385.8,95.9h0.8M397.9,95.4h0.8M366.3,116.9h0.8M385.8,110.4h0.8M402.7,84.3h0.8M398.3,94.5h0.8M380.4,104.2h0.8M401.1,108.9h0.8M400.9,89h0.8M385.3,111.2h0.8M405.1,100.3h0.8M402.4,90.4h0.8M398.1,95.7h0.8M387.5,107.2h0.8M375.2,116h0.8M376.6,107.4h0.8M394.5,94.8h0.8M394.7,90.9h0.8M390.4,101.2h0.8M398.3,104.3h0.8M387.9,98.8h0.8M398.6,100.3h0.8M401.8,90.7h0.8M382.2,101.8h0.8M401.4,86.7h0.8M371.8,115.8h0.8M367.2,117.2h0.8M387.2,111.4h0.8M393.1,103.7h0.8M383,106.6h0.8M393.4,94.8h0.8M404.1,100.4h0.8M370.2,115.1h0.8M383.4,107.2h0.8M403.8,88h0.8M385.8,102.5h0.8M405.4,84.7h0.8M365.3,118.4h0.8M402.4,103.5h0.8M395.9,97.7h0.8M402.3,97.3h0.8M397.1,92.2h0.8M400.7,99.3h0.8M399.7,101.5h0.8M400.2,103.8h0.8M401.7,86.7h0.8M390.5,101.1h0.8M395.1,109.7h0.8M373.5,106.5h0.8M403.7,88.1h0.8M378.6,110.8h0.8M404.9,85.2h0.8M397.1,105h0.8M381.6,110.5h0.8M383.2,99.4h0.8M386.3,104.1h0.8M391.7,97h0.8M393.6,107.8h0.8M398.1,90.2h0.8M400.5,98.1h0.8M401.9,102.8h0.8M399.2,105h0.8M397,99.6h0.8M384,101.5h0.8M384.3,104.9h0.8M388.5,107.3h0.8M382.7,107.7h0.8M386.5,102.1h0.8M392.2,97.9h0.8M384.9,104.9h0.8M399,101.8h0.8M390.6,101.9h0.8M384.8,101.5h0.8M382.8,107.2h0.8M402.8,106.5h0.8M402.7,101h0.8M367.9,116.1h0.8M385.8,99.4h0.8M397.4,90.4h0.8M383.7,105h0.8M375.2,110.1h0.8M389.4,96.5h0.8M400.2,95.6h0.8M403.6,102.4h0.8M380.5,109.4h0.8M364.9,120.7h0.8M394.1,98.3h0.8M382.9,108.3h0.8M370.8,114.5h0.8M363.4,117.7h0.8M401.4,92.9h0.8M387.7,102.9h0.8M366.8,119.5h0.8M371.7,109.7h0.8M403.7,95.3h0.8M394.5,101.1h0.8M383.7,100.5h0.8M394.3,109h0.8M399.2,88.7h0.8M397.3,97.2h0.8M389.9,106.9h0.8M386.2,108.7h0.8M375.9,108.7h0.8M398,105.3h0.8M382.1,109h0.8M369,114.7h0.8M394.7,108.5h0.8M393.1,97h0.8M366.5,119h0.8M398.6,88.4h0.8M395.6,96h0.8M403.6,89.1h0.8M390.4,113.1h0.8M404.4,93.2h0.8M382.8,108.3h0.8M403.1,89.2h0.8M402.6,96.9h0.8M375.5,116.4h0.8M403,98.4h0.8M369.2,114.1h0.8M383.7,111h0.8M365.1,117.7h0.8M399.2,104h0.8M369.7,115.8h0.8M391.5,101.2h0.8M383.8,111.9h0.8M390.6,99.7h0.8M391.8,94.9h0.8M389.5,102.2h0.8M387.7,98.5h0.8M364.7,119.4h0.8M385.1,109.5h0.8M385.4,101.5h0.8M405.5,106.3h0.8M364.4,119.1h0.8M396.8,98.5h0.8M386.8,112.4h0.8M362.6,119.8h0.8M396.9,93.2h0.8M385.6,112.7h0.8M397.9,105.5h0.8M403.3,104.3h0.8M394,94h0.8M394,108.7h0.8M403.7,104h0.8M395.5,106.4h0.8M394.1,105.1h0.8M386.7,99.1h0.8M397.8,93.7h0.8M377.2,105.2h0.8M393.8,93.9h0.8M367.3,115.9h0.8M395.3,91.7h0.8M390.5,94.1h0.8M381.7,109.8h0.8M398.7,90.9h0.8M399.2,99.6h0.8M391.5,108.2h0.8M398.8,94h0.8M382.8,98.9h0.8M399.8,90.9h0.8M402.6,100.5h0.8M390.9,103.5h0.8M402,107.2h0.8M376.9,109.5h0.8M396.3,107.6h0.8M398.9,91.1h0.8M387.3,101.3h0.8M380,113.4h0.8M401.4,97.6h0.8M401.9,106.8h0.8M395.5,107.7h0.8M399.7,89.9h0.8M384.9,106.8h0.8M401.6,91.3h0.8M364.5,122.9h0.8M385.9,106.1h0.8M397.5,92.8h0.8M389.6,105.4h0.8M383.5,102.8h0.8M398.1,108.4h0.8M385.3,105.3h0.8M396.2,102.6h0.8M373.4,111.5h0.8M395.8,95.1h0.8M371.1,110.5h0.8M400.6,94.3h0.8M377,111.1h0.8M398,103.3h0.8M399,105.1h0.8M392.6,103.3h0.8M388.9,104.5h0.8M398.7,107.6h0.8M388.8,108h0.8M383.9,102.4h0.8M397.8,92.8h0.8M402.1,96.1h0.8M403.8,101h0.8M391.9,109.1h0.8M394.6,99.1h0.8M401.6,92.8h0.8M387.6,106.3h0.8M400.7,99.5h0.8M402.9,95.6h0.8M399,108.6h0.8M389.8,96.4h0.8M386.3,111h0.8M386.7,106.1h0.8M396.9,89.9h0.8M399.7,105.2h0.8M397.1,99.9h0.8M398.1,90.5h0.8M387.8,103.9h0.8M400,96.2h0.8M394.8,100.5h0.8M402.4,85.1h0.8M380.5,103.3h0.8M378.6,112.9h0.8M384,109.3h0.8M392.1,102.3h0.8M389.2,104.2h0.8M402.6,101.7h0.8M399.2,92h0.8M381.6,112.5h0.8M380.4,104.2h0.8M393.3,104.9h0.8M372.5,109.7h0.8M378.7,111.4h0.8M378.5,114.2h0.8M379.2,108.4h0.8M390.4,100.1h0.8M396.9,103.8h0.8M390.5,94.9h0.8M383,102.4h0.8M378.1,114.4h0.8M399.2,98.6h0.8M378.2,110.8h0.8M396.2,101.4h0.8M390.7,108.4h0.8M400.8,103.9h0.8M399.3,93.1h0.8M374.7,114.5h0.8M390.2,95h0.8M402.2,88.3h0.8M404.1,101.8h0.8M373.6,114.4h0.8M405.6,87.3h0.8M402.2,105.4h0.8M395.1,106.4h0.8M395.7,97.2h0.8M383.9,101.7h0.8M393.5,97.7h0.8M398.8,93.9h0.8M379.4,106.7h0.8M398.1,96.2h0.8M389.5,99.9h0.8M389.9,102.7h0.8M396.1,87.8h0.8M403.8,90.7h0.8M392.2,105.3h0.8M366.7,118.3h0.8M384.8,102.2h0.8M361.9,120.1h0.8M405.3,86.3h0.8M395.4,96h0.8M370.4,112.2h0.8M399.6,95.2h0.8M398.4,106.4h0.8M395.4,109.4h0.8M378,109.4h0.8M403.1,98.7h0.8M381.1,105.1h0.8M379.3,110.1h0.8M390.3,107.1h0.8M399,94.6h0.8M366.5,117h0.8M368.3,117h0.8M403.6,93h0.8M391.9,98.7h0.8M392.1,92.9h0.8M384.2,104.2h0.8M380.7,110.1h0.8M402,99.7h0.8M396.3,101.9h0.8M400,102.3h0.8M390.3,102.7h0.8M403.8,94.1h0.8M405.5,99.1h0.8M403.4,93.9h0.8M387,101.7h0.8M400,88.2h0.8M402.5,94.9h0.8M386.9,104h0.8M403.1,87.9h0.8M388.6,97.4h0.8M399.9,102.4h0.8M385.8,106.2h0.8M400.1,97.3h0.8M390.2,104h0.8M403.1,97.9h0.8M379.3,110.7h0.8M387.6,102.8h0.8M385.9,108.2h0.8M401.3,100.9h0.8M379.9,106.5h0.8M396.2,104.3h0.8M389.8,108.7h0.8M361.8,118.9h0.8M401.2,98.7h0.8M372.9,111h0.8M396.7,105.7h0.8M390,104.9h0.8M400.2,90.7h0.8M367.4,120.4h0.8M392.7,103.4h0.8M399.2,103.8h0.8M396.4,100.8h0.8M398.4,103.2h0.8M402.3,99.3h0.8M395.7,102.6h0.8M403.6,104.6h0.8M396.4,97.6h0.8M394.1,98h0.8M368.8,119.2h0.8M400.2,96.1h0.8M401.2,102.7h0.8M377.4,106.3h0.8M403.9,88.4h0.8M389,97.1h0.8M389.3,100.1h0.8M401.6,94.8h0.8M367.8,119h0.8M362.3,120.6h0.8M381.2,113.2h0.8M373.7,109.3h0.8M397.4,109.5h0.8M397,104.7h0.8M375.4,112.8h0.8M379.1,102.4h0.8M387,108.2h0.8M399.6,100.8h0.8M394.8,101.3h0.8M405.2,103.5h0.8M394.8,100.9h0.8M378.9,114h0.8M389.5,102.7h0.8M400.9,94.8h0.8M384.9,103.9h0.8M391.7,101.6h0.8M398.8,88.4h0.8M395.8,100.2h0.8M386.3,99.1h0.8M372.9,111.4h0.8M376.6,110.4h0.8M393.2,98.6h0.8M371.5,113.4h0.8M387.3,109.4h0.8M387,105.3h0.8M388,100.2h0.8M374.7,107.3h0.8M399.8,101.9h0.8M394.9,106.4h0.8M386.6,98.6h0.8M400.8,94.6h0.8M386.2,100.1h0.8M404.9,86.8h0.8M381,102.6h0.8M380.3,108.4h0.8M403.2,101.1h0.8M384.3,100.5h0.8M372,115h0.8M401.7,103.8h0.8M365.9,122.2h0.8M395.9,92.2h0.8M401.9,89.6h0.8M371.8,117.5h0.8M366.7,117.9h0.8M373.8,113.3h0.8M404.2,95.1h0.8M377,109.2h0.8M394.3,98.9h0.8M380.5,108.9h0.8M400.3,93.2h0.8M375.6,114.1h0.8M387.5,95h0.8M375.4,110.9h0.8M379.9,107.8h0.8M402.6,91.5h0.8M397.7,107.2h0.8M385.1,104.2h0.8M376.6,107.9h0.8M386.8,111.4h0.8M385,104.1h0.8M397.3,102.9h0.8M389.5,96.6h0.8M390,98.2h0.8M400.8,102h0.8M400.4,94.9h0.8M404.3,96.7h0.8M386,109.5h0.8M382.7,111h0.8M390.8,97.7h0.8M379.2,102.4h0.8M383.4,111.1h0.8M375.1,115.9h0.8M367.4,118.8h0.8M400.4,89.9h0.8M383.4,107.7h0.8M380.9,110.9h0.8M394.7,100.9h0.8M394.2,96h0.8M399.9,95h0.8M393.1,101.3h0.8M394.5,98.9h0.8M398.2,104.3h0.8M383.9,103.1h0.8M396.1,95.7h0.8M384.4,109.2h0.8M380.5,109.7h0.8M396.8,105.4h0.8M393.5,95.7h0.8M395.3,95.3h0.8M388.2,106h0.8M377.9,109.2h0.8M400,103.3h0.8M402.1,95.6h0.8M401.5,101.5h0.8M403.1,99.1h0.8M394.7,106.5h0.8M390.6,104h0.8M405.3,96.4h0.8M396.1,99.8h0.8M384.9,104.4h0.8M378.7,112.9h0.8M394.3,103h0.8M386.1,104.7h0.8M372.6,109.1h0.8M396.2,90.6h0.8M379.5,107.7h0.8M402.8,91.3h0.8M382.7,106.8h0.8M404.4,97.5h0.8M387.8,106.7h0.8M381.1,103.5h0.8M382.1,110h0.8M374.6,107.4h0.8M398.1,90.9h0.8M405,104.1h0.8M397.4,95.8h0.8M399.7,105.4h0.8M375.9,106.6h0.8M385.9,103.4h0.8M391.9,104.9h0.8M388.3,105.4h0.8M390.9,101.9h0.8M381.8,100.9h0.8M382.6,99.8h0.8M402,89.1h0.8M398.1,99.7h0.8M375.5,112.1h0.8M392.8,101.6h0.8M373.3,116.3h0.8M375.9,113.8h0.8M374.8,115.9h0.8M399.1,106.6h0.8M383.7,104.1h0.8M401,106.4h0.8M390.8,110.1h0.8M397.8,102.1h0.8M391.5,99.4h0.8M394.7,109h0.8M371.7,117.2h0.8M394.4,97.1h0.8M402.2,90.6h0.8M379.3,111.2h0.8M390.5,101.5h0.8M399.5,88h0.8M375.7,108.3h0.8M389.4,98.6h0.8M398,97.5h0.8M393.3,101.9h0.8M391.6,108h0.8M377.4,107.7h0.8M373.3,109.6h0.8M401.2,101.4h0.8M388.7,97h0.8M405,96.1h0.8M380.4,106h0.8M393,106.1h0.8M390.3,95.2h0.8M403.8,106.5h0.8" stroke="#828282" stroke-width="0.8" opacity="0.85" fill="none"/>
<path d="M380.9,104.5h0.7M397.5,97.8h0.7M391.2,105.1h0.7M376.8,100.7h0.7M385.4,105.1h0.7M370.9,119.1h0.7M374.5,112.3h0.7M386.8,111.4h0.7M403,98.7h0.7M383.4,113.3h0.7M401.3,100.2h0.7M400.9,94.2h0.7M365.3,116.4h0.7M401.2,113.2h0.7M366.6,120.3h0.7M399.6,91.8h0.7M378,110.3h0.7M370.4,114.9h0.7M379.9,104.4h0.7M401.4,100.6h0.7M400.4,99.1h0.7M392.8,102.1h0.7M399.8,98.1h0.7M390,101.2h0.7M393.9,89.2h0.7M395.1,101.6h0.7M376.7,107.7h0.7M380.9,109.6h0.7M398.8,102.6h0.7M393,95.8h0.7M381.4,108.4h0.7M386,103.8h0.7M397.9,107.2h0.7M399.3,98.7h0.7M392.7,100.2h0.7M386,104.3h0.7M372.7,109.5h0.7M365.1,124.1h0.7M385.6,108.5h0.7M388.9,109.1h0.7M402.3,91.9h0.7M400.2,98.4h0.7M373.4,113.9h0.7M379.6,113.2h0.7M380.9,106.3h0.7M371.3,113.7h0.7M400.6,110.4h0.7M401.6,94.9h0.7M373.2,113.1h0.7M360.9,117.6h0.7M403.8,106.6h0.7M391.6,106.8h0.7M364,117.3h0.7M405.3,92.6h0.7M394.9,100h0.7M384.1,110.2h0.7M393.1,89.4h0.7M401.7,97.9h0.7M377,104.5h0.7M366.5,114.3h0.7M392.4,110.4h0.7M373.5,110.7h0.7M387.2,106.7h0.7M389.8,104.1h0.7M401,97.9h0.7M390.6,104.6h0.7M379.6,114.2h0.7M375.9,103.5h0.7M375.5,108h0.7M383,102.6h0.7M361.3,119h0.7M405.3,90.6h0.7M377.1,116h0.7M387.2,104.9h0.7M399.7,100.7h0.7M381.7,110.1h0.7M383.2,104.7h0.7M382.7,102.7h0.7M383.5,101h0.7M363.6,117.3h0.7M395.5,110.4h0.7M401.6,99.2h0.7M371.1,113.9h0.7M396.8,103.6h0.7M389.9,110.6h0.7M386.3,110.9h0.7M396.3,89.2h0.7M375.3,112.4h0.7M391.1,108.2h0.7M395.2,101.4h0.7M392.2,108.3h0.7M400.6,97h0.7M397,91.7h0.7M388.6,100h0.7M388.1,98.5h0.7M388.2,101.2h0.7M404.2,97h0.7M384.2,110.1h0.7M383.7,109.5h0.7M388.1,108.5h0.7M388.2,98.1h0.7M393.5,91.7h0.7M379.4,109.6h0.7M391.6,115.1h0.7M371.5,115.8h0.7M370.6,117.6h0.7M402.2,91.8h0.7M381.2,107.3h0.7M364.9,117.6h0.7M393.9,99.7h0.7M392.7,102.2h0.7M368.9,113h0.7M403.9,84.8h0.7M396.3,106.6h0.7M400.3,91h0.7M387.2,102.1h0.7M379.7,106.4h0.7M391.6,99h0.7M405,97.5h0.7M386.6,106.7h0.7M385.8,113.5h0.7M396.4,97.4h0.7M389.8,98.8h0.7M390.1,97.9h0.7M400.5,98.4h0.7M396.1,104.3h0.7M398.7,97.3h0.7M401.1,102.1h0.7M375.9,105.5h0.7M404.5,104h0.7M387.7,98.6h0.7M396.2,109.2h0.7M381.5,105.1h0.7M374,110.7h0.7M399.4,90.6h0.7M360.9,120.7h0.7M391.9,109.8h0.7M397.6,104.9h0.7M387.3,100.5h0.7M397.3,105h0.7M374.1,107.6h0.7M400.7,90.3h0.7M383.7,107.1h0.7M378.7,111.1h0.7M404.4,110.1h0.7M403.8,97.3h0.7M399.9,91.7h0.7M401.9,105.5h0.7M362.4,123.1h0.7M375.2,109.9h0.7M403.2,89.2h0.7M394,102.1h0.7M395,97.5h0.7M404.2,100.6h0.7M386.3,106.2h0.7M395.4,97.5h0.7M381.9,103.6h0.7M394.8,92.6h0.7M375.1,106.3h0.7M365.2,113h0.7M399,101.9h0.7M395.8,92.3h0.7M400.5,95.4h0.7M398.2,89.2h0.7M388.1,103.1h0.7M405.3,105.3h0.7M386.1,100.5h0.7M395.2,92.3h0.7M381.7,101.9h0.7M385.5,111.2h0.7M398.3,103.4h0.7M397.2,91.1h0.7M386.6,106.9h0.7M397.2,96.5h0.7M400.5,86.3h0.7M399.2,97.2h0.7M396.8,113.9h0.7M389.1,100.7h0.7M386,108.8h0.7M392.3,105.8h0.7M379.1,107.4h0.7M388.8,99.9h0.7M392.8,102.2h0.7M400,105.3h0.7M378.8,105.4h0.7M375.3,105.3h0.7M394.4,93.2h0.7M403.6,95h0.7M382.7,113.5h0.7M390.2,94h0.7M386,110.1h0.7M386.3,106.4h0.7M405.6,99.8h0.7" stroke="#a8a8a8" stroke-width="0.7" opacity="0.85" fill="none"/>
<polygon points="326.6,160.2 326.6,150.7 350.9,121.2 364.4,133.4 323.2,162.5" fill="none" stroke="#333" stroke-width="0.5"/>
<text x="330.3" y="134.5" font-size="3" text-anchor="middle" fill="#666" >SP</text>
<text x="325" y="142.6" font-size="6" font-weight="bold" text-anchor="start" fill="#111"  textLength="11.8" lengthAdjust="spacingAndGlyphs">0.5%</text>
<text x="303.8" y="91.2" font-size="8.4" font-weight="bold" text-anchor="start" fill="#111" >ii</text>
<text transform="translate(311.8,117.5) rotate(-90)" font-size="2.8" text-anchor="middle" fill="#555">Hoechst Blue-A</text>
<text transform="translate(312,88) rotate(-90)" font-size="2.6" text-anchor="middle" fill="#555">(x 1,000)</text>
<text transform="translate(318.5,86) rotate(-90)" font-size="3.2" text-anchor="middle" fill="#444">250</text>
<text transform="translate(318.5,103) rotate(-90)" font-size="3.2" text-anchor="middle" fill="#444">200</text>
<text transform="translate(318.5,120) rotate(-90)" font-size="3.2" text-anchor="middle" fill="#444">150</text>
<text transform="translate(318.5,137) rotate(-90)" font-size="3.2" text-anchor="middle" fill="#444">100</text>
<text transform="translate(318.5,154) rotate(-90)" font-size="3.2" text-anchor="middle" fill="#444">50</text>
<text x="341" y="166.5" font-size="2.6" text-anchor="middle" fill="#555" >50</text>
<text x="358" y="166.5" font-size="2.6" text-anchor="middle" fill="#555" >100</text>
<text x="375" y="166.5" font-size="2.6" text-anchor="middle" fill="#555" >150</text>
<text x="392" y="166.5" font-size="2.6" text-anchor="middle" fill="#555" >200</text>
<text x="363" y="173.2" font-size="3" text-anchor="middle" fill="#555" >Hoechst Red-A</text>
<text x="401" y="171" font-size="2.6" text-anchor="middle" fill="#555" >(x 1,000)</text>
<rect x="322.2" y="184.2" width="82.5" height="56.6" fill="none" stroke="#777" stroke-width="0.6"/>
<path d="M320.6,184.2h1.6M321.4,185.8h0.8M321.4,187.4h0.8M321.4,189.1h0.8M321.4,190.7h0.8M320.6,192.3h1.6M321.4,193.9h0.8M321.4,195.5h0.8M321.4,197.1h0.8M321.4,198.8h0.8M320.6,200.4h1.6M321.4,202h0.8M321.4,203.6h0.8M321.4,205.2h0.8M321.4,206.8h0.8M320.6,208.5h1.6M321.4,210.1h0.8M321.4,211.7h0.8M321.4,213.3h0.8M321.4,214.9h0.8M320.6,216.5h1.6M321.4,218.2h0.8M321.4,219.8h0.8M321.4,221.4h0.8M321.4,223h0.8M320.6,224.6h1.6M321.4,226.2h0.8M321.4,227.9h0.8M321.4,229.5h0.8M321.4,231.1h0.8M320.6,232.7h1.6M321.4,234.3h0.8M321.4,235.9h0.8M321.4,237.6h0.8M321.4,239.2h0.8M320.6,240.8h1.6M322.2,240.8v1.6M323.8,240.8v0.8M325.4,240.8v0.8M327.1,240.8v0.8M328.7,240.8v0.8M330.3,240.8v1.6M331.9,240.8v0.8M333.5,240.8v0.8M335.1,240.8v0.8M336.8,240.8v0.8M338.4,240.8v1.6M340,240.8v0.8M341.6,240.8v0.8M343.2,240.8v0.8M344.8,240.8v0.8M346.5,240.8v1.6M348.1,240.8v0.8M349.7,240.8v0.8M351.3,240.8v0.8M352.9,240.8v0.8M354.6,240.8v1.6M356.2,240.8v0.8M357.8,240.8v0.8M359.4,240.8v0.8M361,240.8v0.8M362.6,240.8v1.6M364.3,240.8v0.8M365.9,240.8v0.8M367.5,240.8v0.8M369.1,240.8v0.8M370.7,240.8v1.6M372.3,240.8v0.8M374,240.8v0.8M375.6,240.8v0.8M377.2,240.8v0.8M378.8,240.8v1.6M380.4,240.8v0.8M382.1,240.8v0.8M383.7,240.8v0.8M385.3,240.8v0.8M386.9,240.8v1.6M388.5,240.8v0.8M390.1,240.8v0.8M391.8,240.8v0.8M393.4,240.8v0.8M395,240.8v1.6M396.6,240.8v0.8M398.2,240.8v0.8M399.8,240.8v0.8M401.5,240.8v0.8M403.1,240.8v1.6M404.7,240.8v0.8" stroke="#777" stroke-width="0.4" fill="none"/>
<polygon points="357,240 363,233.5 370,229 375.7,226 380.5,222 384.3,217 387.5,211.5 390,205.7 392,200 393.4,194.3 394.5,189.5 395.1,184.5 403.5,184.5 403.5,221 400,230 394,234 387,237 379,239.2 375,240" fill="#a8a8a8" filter="url(#b1)" opacity="1.0"/>
<path d="M363.6,235.3h0.8M385.1,221.4h0.8M396.6,212.8h0.8M394.3,231.3h0.8M385.4,220.1h0.8M392.5,224.1h0.8M398.4,230.4h0.8M388.2,226.9h0.8M378.2,226.8h0.8M402.6,209.1h0.8M388.2,232.3h0.8M401.1,199.5h0.8M388,232.7h0.8M394.7,230.2h0.8M400.2,184.7h0.8M386.3,233.8h0.8M391.8,220.1h0.8M401.6,224h0.8M396.6,209.2h0.8M377.4,236.7h0.8M401.8,192.2h0.8M374.1,235.9h0.8M394.1,199.4h0.8M373.9,237.6h0.8M394.2,213.9h0.8M397.6,196.7h0.8M390.3,208.8h0.8M401.9,194.9h0.8M401.5,212.7h0.8M368.1,237.1h0.8M394.9,198.9h0.8M388.1,210.6h0.8M399.6,193.5h0.8M399.3,195.3h0.8M399.3,195h0.8M397.3,214.6h0.8M395,214.7h0.8M358.9,237.1h0.8M364.9,234.8h0.8M392.5,231.8h0.8M399.8,188.5h0.8M392.2,234.8h0.8M398.7,213.2h0.8M395.1,227.3h0.8M387.3,228.1h0.8M390,230.3h0.8M387.8,212.5h0.8M373.7,228.1h0.8M392.2,233.4h0.8M396.7,188.9h0.8M398.3,208.3h0.8M380.7,229.2h0.8M389.6,218.8h0.8M375.3,231.6h0.8M382.5,231.5h0.8M366.1,238.9h0.8M374.8,237h0.8M378.5,223h0.8M387.5,211.1h0.8M393.6,201.7h0.8M370,230.8h0.8M392.4,235.1h0.8M397,222.4h0.8M399.1,201.7h0.8M399.2,224.6h0.8M398.2,195.6h0.8M381.4,225.1h0.8M401.2,225.2h0.8M394.1,219.9h0.8M401.4,211.8h0.8M383.8,235h0.8M362.6,236.4h0.8M392.6,232h0.8M398.8,217.3h0.8M402,190.3h0.8M395.9,209.7h0.8M386.3,224.3h0.8M378.6,236.2h0.8M398.7,216.7h0.8M381.1,226.4h0.8M397.4,202.9h0.8M395,195.3h0.8M373.2,232.1h0.8M361.4,236.1h0.8M381.8,234.4h0.8M374.5,237.7h0.8M371.6,229.1h0.8M399.8,203.6h0.8M402.4,206.8h0.8M388.7,221.2h0.8M385.3,221.7h0.8M399.4,197.9h0.8M401.2,204.7h0.8M381.6,232.3h0.8M377.6,228.4h0.8M398.3,211.5h0.8M398.1,198.7h0.8M370.7,232.3h0.8M381,226.2h0.8M365,238.3h0.8M383,235.7h0.8M385.4,224.5h0.8M400.2,198.9h0.8M393.1,223.3h0.8M399.6,195.6h0.8M380.5,225h0.8M381.5,231.4h0.8M397,213.6h0.8M374.3,237.1h0.8M394.6,196.4h0.8M380,222.5h0.8M362.1,234.9h0.8M384.5,226.9h0.8M386.6,234.6h0.8M401.4,214.6h0.8M400.5,228.1h0.8M388.9,231h0.8M381.7,225.7h0.8M376.4,231.4h0.8M385.7,220.6h0.8M396.7,202h0.8M380.3,232.9h0.8M386.2,218.1h0.8M394,225.4h0.8M371.9,230.4h0.8M393.8,198.3h0.8M399.7,206.4h0.8M371.6,232h0.8M392.8,197h0.8M377.6,233.9h0.8M398.3,188.4h0.8M380.1,225.1h0.8M396.4,191.5h0.8M392.9,220.4h0.8M399.2,193.3h0.8M400.8,191.1h0.8M386.3,226.2h0.8M398,209.5h0.8M383.3,230.6h0.8M396.7,231.8h0.8M377.6,232.4h0.8M396.6,233.8h0.8M401.6,206.5h0.8M400.4,213.5h0.8M391.7,222.5h0.8M392.8,220h0.8M395.3,210.5h0.8M379.6,222.5h0.8M397.1,209.8h0.8M395.4,202.1h0.8M394,226h0.8M395,199.1h0.8M361,237.8h0.8M386.7,228.4h0.8M399.3,216.1h0.8M396.5,218h0.8M385.6,227.4h0.8M393.8,223.9h0.8M396.5,205.7h0.8M386.2,232.2h0.8M394.4,193.5h0.8M382.2,237.1h0.8M398.4,196.4h0.8M381.1,222.8h0.8M389.7,214.6h0.8M391.1,222h0.8M392.6,194.7h0.8M372.5,231.5h0.8M372,237.3h0.8M393.6,209.2h0.8M395.1,219.7h0.8M400.3,199.2h0.8M403.3,219.4h0.8M395.7,217.1h0.8M392.3,225.1h0.8M393.1,226h0.8M382.6,232.1h0.8M392.9,204.1h0.8M394.5,194.7h0.8M396.1,197.5h0.8M393,229.9h0.8M365.3,236.9h0.8M382.9,229.4h0.8M392.9,212.7h0.8M377.3,229.3h0.8M373.7,237.5h0.8M401.1,192.6h0.8M402.4,218.2h0.8M372.8,233h0.8M380.7,229.4h0.8M377.1,230.7h0.8M393.5,227.3h0.8M402.6,221.3h0.8M382.8,230.1h0.8M372.2,232.8h0.8M394,223.4h0.8M376.6,233.4h0.8M399,188.4h0.8M391,209.2h0.8M388.3,226.5h0.8M389.9,221.3h0.8M388.8,229.1h0.8M396.4,229.8h0.8M397.6,224.5h0.8M391.1,230.1h0.8M383,234.9h0.8M392.1,205.5h0.8M385.2,228.5h0.8M392,219.2h0.8M368.9,233.2h0.8M376.6,228.5h0.8M382.3,221.7h0.8M364.6,238.9h0.8M378.8,229.1h0.8M383.5,236.2h0.8M397,200.3h0.8M375.6,228.6h0.8M401.5,206.2h0.8M400.5,209.9h0.8M400.8,193.2h0.8M389,208.1h0.8M391.2,217.3h0.8M398.4,186.8h0.8M393.3,218.6h0.8M369.3,233.8h0.8M398,195.7h0.8M403.3,207.7h0.8M392.6,230h0.8M388.4,228h0.8M395.9,210.1h0.8M367.6,233.3h0.8M391.9,199.7h0.8M392.9,222.7h0.8M397.5,197.3h0.8M383.7,222.3h0.8M378.9,231h0.8M399.2,222.1h0.8M379.4,234.5h0.8M397.6,192.7h0.8M400.4,224.8h0.8M387.4,220.6h0.8M400.6,223.9h0.8M374.8,233h0.8M390.8,208.8h0.8M372.1,228.8h0.8M380.8,232.3h0.8M390.5,224h0.8M396.3,218.9h0.8M401.3,196.2h0.8M384.4,222.8h0.8M398.3,220h0.8M378.9,234.4h0.8M373.2,230.9h0.8M397.4,221.4h0.8M390.3,208.8h0.8M385.6,219.6h0.8M381.1,238.2h0.8M396.1,193.6h0.8M395,205.5h0.8M371.6,227.8h0.8M387,236.6h0.8M391.3,204.3h0.8M387.1,236.5h0.8M374.9,228.1h0.8M385.8,233.5h0.8M392.6,203.6h0.8M399.2,224.2h0.8M398.1,206.8h0.8M400.1,221h0.8M393.7,216h0.8M398.8,201h0.8M398.7,187.1h0.8M398.7,201.7h0.8M391.4,208.5h0.8M376.3,236.7h0.8M375.8,238.6h0.8M392.1,198.5h0.8M403,198.3h0.8M384.2,228.3h0.8M402.8,187.6h0.8M379.4,235.7h0.8M398.4,218.6h0.8M402,194.8h0.8M369.8,236.8h0.8M376.1,227.9h0.8M397.2,185.4h0.8M386.8,224.2h0.8M397,202.1h0.8M359.9,237.5h0.8M398,199.5h0.8M388.5,228.1h0.8M385.5,222.6h0.8M375.3,235.6h0.8M367.1,237.4h0.8M385.4,222.4h0.8M400.4,211.6h0.8M389,229h0.8M385.7,223.9h0.8M369.3,237.9h0.8M403.2,222.3h0.8M393.7,193.5h0.8M388.3,229.9h0.8M370.6,230.7h0.8M400.4,200h0.8M379.4,228.1h0.8M395.2,218.7h0.8M399.5,201.1h0.8M384.5,237.1h0.8M399.1,225.2h0.8M400.5,218.2h0.8M402.5,211.4h0.8M393.4,220.8h0.8M388.6,225.4h0.8M402.2,206.6h0.8M378.7,225.4h0.8M398,230.2h0.8M399.5,191.1h0.8M378,238.1h0.8M385.8,232.4h0.8M401.4,185h0.8M400.2,226.3h0.8M372.3,235.8h0.8M393.9,200.6h0.8M400.8,198.8h0.8M397.6,228.6h0.8M400.8,207.2h0.8M388.2,220.9h0.8M386.1,220.5h0.8M400.3,224.6h0.8M389.2,232.1h0.8M385.7,218.2h0.8M377.3,234.8h0.8M399.4,190h0.8M385.3,223.9h0.8M376.3,233.2h0.8M374.2,231.3h0.8M388.9,234.3h0.8M384.9,232.5h0.8M365.6,239h0.8M377.7,236.7h0.8M389.3,209.7h0.8M394.6,210.6h0.8M399.7,220.2h0.8M402.1,219.2h0.8M392.5,199.1h0.8M392.6,229.6h0.8M397.6,203.2h0.8M399.2,209.1h0.8M388,233.4h0.8M399.6,188.6h0.8M395.8,210.4h0.8M400.5,190.3h0.8M397.1,230.5h0.8M372.7,235.7h0.8M378.9,228.4h0.8M389.1,220.9h0.8M397,209.9h0.8M393.9,229h0.8M390,209.7h0.8M397.6,219.8h0.8M401.8,211.8h0.8M391.9,206.6h0.8M384.6,232.9h0.8M398.1,220.6h0.8M395.9,211.9h0.8M400.8,202.9h0.8M392.9,204h0.8M393.2,213h0.8M382.7,229.4h0.8M393.4,207.2h0.8M376.1,238.1h0.8M375.2,236.8h0.8M396.7,196.1h0.8M395.2,194h0.8M389.6,232.8h0.8M387.4,235.8h0.8M389.5,227.4h0.8M373.8,237.7h0.8M385,234.5h0.8M391.3,203.8h0.8M392.9,206.2h0.8M373.5,229.5h0.8M388.4,213.4h0.8M379.3,226.1h0.8M387.2,212.4h0.8M359.4,237.7h0.8M391,218h0.8M379.8,229h0.8M396,221.8h0.8M388,229.8h0.8M386.4,222.9h0.8M390.2,234.2h0.8M403.4,214.6h0.8M385.3,226.4h0.8M391.7,232.1h0.8M386.7,228.1h0.8M399.5,190.1h0.8M400.4,196.3h0.8M360.7,236.3h0.8M399.1,212.7h0.8M377,229.6h0.8M398.8,205.8h0.8M402.8,195.9h0.8M386.9,220h0.8M387.6,217.4h0.8M403.3,208.8h0.8M387.9,236.2h0.8M391,226.5h0.8M399,203.2h0.8M400.9,212.2h0.8M400,220.1h0.8M403.3,190h0.8M395.4,214.9h0.8M394.3,217.8h0.8M366.8,232h0.8M399.4,224.4h0.8M403.1,188.6h0.8M386.9,235.5h0.8M395.6,201.4h0.8M381,232.7h0.8M397,188.5h0.8M401.4,224.5h0.8M397,211.8h0.8M393.3,222.3h0.8M400.1,214.6h0.8M397.9,212.6h0.8M375.9,229.8h0.8M402.3,188.1h0.8M396.7,224.1h0.8M393.1,233.2h0.8M360.8,238.8h0.8M376.5,232.4h0.8M396.1,190.1h0.8M386.5,221.9h0.8M393.9,223.2h0.8M392.8,222.2h0.8M396.8,205.2h0.8M387.2,223h0.8M398.7,210.2h0.8M387.4,235.7h0.8M402.6,191.1h0.8M401.8,202.8h0.8M400.8,221.3h0.8M391.9,234.1h0.8M386.9,224.3h0.8M399,186.1h0.8M402.6,212.2h0.8M393.9,215.7h0.8M397.6,186.2h0.8M366.7,236.8h0.8M371.7,228.9h0.8M395.4,194.1h0.8M400,224.9h0.8M398.3,189.8h0.8M373.2,230.4h0.8M401,199.5h0.8M391.8,215.6h0.8M389.9,207.2h0.8M402.4,221h0.8M384.9,229h0.8M380.9,234.6h0.8M367.5,231h0.8M385,232.5h0.8M395.7,218.5h0.8M400.3,199.4h0.8M360.6,236.4h0.8M392.6,227.5h0.8M385.2,223.6h0.8M393.6,198.7h0.8M390.5,221.8h0.8M401.5,225h0.8M379.6,226.8h0.8M368.5,230.2h0.8M383.3,225.3h0.8M401,224.3h0.8M377.3,233.6h0.8M391.1,228.6h0.8M400,197.1h0.8M382.4,228.2h0.8M370.9,237.7h0.8M403.4,220h0.8M398,217h0.8M388.8,213.9h0.8M389.9,212.6h0.8M377.2,231.8h0.8M399.2,190.6h0.8M376,235.7h0.8M402.8,211.3h0.8M377.2,233.5h0.8M379.7,236.6h0.8M394.8,228h0.8M380.7,220.4h0.8M364.6,236.2h0.8M394.1,232.3h0.8M382.3,226.1h0.8M390.6,205h0.8M388.8,213.4h0.8M389.9,231.3h0.8M401.1,218.6h0.8M396.3,225.8h0.8M397.2,196.4h0.8M387.6,210.7h0.8M386.2,235.2h0.8M385.7,220.4h0.8M396.7,194.2h0.8M398.5,232.8h0.8M397.9,226.3h0.8M381.3,224.1h0.8M391,203.9h0.8M372,235.3h0.8M390.8,210.9h0.8M382.5,236.9h0.8M373.1,226h0.8M384,216.2h0.8M397.2,203.2h0.8M400.6,195.9h0.8M400.9,204.4h0.8M397.4,212.2h0.8M394.5,211h0.8M387,217.4h0.8M399.4,218.2h0.8M401.6,196.2h0.8M394.8,217.6h0.8M384.2,228.2h0.8M372,234h0.8M394.9,233.3h0.8M366.7,236.6h0.8M379.4,232.6h0.8M393,232.5h0.8M397.9,227.4h0.8M370.2,236.4h0.8M379.2,231h0.8M398.4,206.8h0.8M380.9,228.8h0.8M391.3,219.6h0.8M368.4,234.1h0.8M402.8,221.1h0.8M393.7,224.4h0.8M387.1,224.5h0.8M388.5,216.6h0.8M393.4,196.8h0.8M395.8,226.5h0.8M393,229.3h0.8M402,213.2h0.8M393.3,234h0.8M398.3,203.8h0.8M393.9,222.8h0.8M390.4,217.7h0.8M385.9,226.9h0.8M398.9,226.8h0.8M393.1,216.8h0.8M373.9,238.7h0.8M392.2,230h0.8M378.7,231.6h0.8M378.4,235.5h0.8M397.8,214.7h0.8M396.7,206.2h0.8M376.9,229.1h0.8M397.6,231.3h0.8M365.8,233.6h0.8M387.2,216.6h0.8M402.2,203.5h0.8M389.5,217.2h0.8M400.3,205.3h0.8M400.8,221.9h0.8M369.6,231.1h0.8M396.7,193.3h0.8M361.2,237.1h0.8M402,213.5h0.8M394.5,201.2h0.8M398.9,190.6h0.8M387.1,234.7h0.8M403.2,192.3h0.8M401.8,220h0.8M387.5,227.9h0.8M402.1,221.9h0.8M368.8,233.6h0.8M400.6,206.4h0.8M390,206.3h0.8M396.5,227.6h0.8M373.9,233.8h0.8M395.9,212.2h0.8M375.6,227.8h0.8M394.6,193.3h0.8M379.9,234.8h0.8M375.2,232.9h0.8M383.8,232.8h0.8M399.5,223.4h0.8M360.5,237.9h0.8M362.6,239.1h0.8M394.4,218.8h0.8M371.1,239.3h0.8M392.6,204.2h0.8M386.5,235.9h0.8M397.8,218.4h0.8M394.5,232.5h0.8M383.6,235.9h0.8M386.7,225.7h0.8M369.2,234.5h0.8M385,220.4h0.8M392.1,223.5h0.8M400.1,202.5h0.8M373.8,236.9h0.8M372.3,229.3h0.8M368.3,230.7h0.8M392.2,210.8h0.8M388.9,217h0.8M399.3,192h0.8M395.4,200.7h0.8M395.1,199.8h0.8M397.8,200.8h0.8M403.5,195.6h0.8M403,203.7h0.8M396.2,218.1h0.8M385.8,231.9h0.8M392.6,227.2h0.8M386.7,217.6h0.8M368.4,237.7h0.8M395.9,212.2h0.8M389.1,232.5h0.8M399.4,226.5h0.8M394.8,198h0.8M387.8,223.2h0.8M382.5,236.3h0.8M386.9,216.9h0.8M362.9,234.7h0.8M399,220.8h0.8M397.1,229.5h0.8M366.7,236.4h0.8M403.6,213.1h0.8M389.7,214.8h0.8M390.8,220.4h0.8M402.5,191.9h0.8M388.7,233.4h0.8M397.2,226.2h0.8M373.3,237.1h0.8M375.1,232.4h0.8M398.7,189.5h0.8M385.3,229h0.8M384.6,223.2h0.8M399.8,188.5h0.8M390.5,203.7h0.8M376.1,230h0.8M402.5,210.9h0.8M393.7,222.4h0.8M360.7,238.7h0.8M372.4,237.1h0.8M400.1,208.6h0.8M394,230.6h0.8M367.7,233.8h0.8M396.6,214.4h0.8M400.3,219.6h0.8M363.6,236.9h0.8M386.3,222.4h0.8M393.3,220.9h0.8M402.7,185.7h0.8M386.5,214.8h0.8M403.3,218.8h0.8M400.9,205.1h0.8M368.3,234h0.8M372.4,228.6h0.8M401.2,228.3h0.8M397.7,202.9h0.8M370.2,234.1h0.8M370.9,233.9h0.8M399,192.2h0.8M385.6,235.1h0.8M368.7,233.4h0.8M384,222.3h0.8M385.1,230.2h0.8M398.7,219.9h0.8M385.2,224.1h0.8M373.3,239.6h0.8M402.5,217.7h0.8M376,235.8h0.8M391,220.1h0.8M398.6,194.9h0.8M381.2,228.8h0.8M369.4,229.4h0.8M397.6,212.8h0.8M403.6,211.5h0.8M384.4,219.9h0.8M390.6,215.9h0.8M401.8,212.5h0.8M391.8,217.4h0.8M387.8,224.2h0.8M400.6,192.4h0.8M383.9,224.1h0.8M402.6,192.7h0.8M394.1,207.8h0.8M395.3,195.5h0.8M393.2,216.5h0.8M386.6,223h0.8M374.8,238.5h0.8M394.1,203.3h0.8M394.6,223.2h0.8M400,220.9h0.8M399.4,228.9h0.8M397.4,201.7h0.8M365.5,232.8h0.8M402.3,186h0.8M397.2,185.7h0.8M396.3,209.9h0.8M400.2,198.4h0.8M388,215.3h0.8M363.6,235.1h0.8M373.6,230.9h0.8M391,232.5h0.8M399.5,197.2h0.8M385.9,225h0.8M400.8,204.5h0.8M388.1,210.1h0.8M381.2,229h0.8M378.4,237.8h0.8M401.4,205.5h0.8M399.5,200.7h0.8M398.8,197.5h0.8M382.9,232.5h0.8M391.5,219h0.8M394.7,209.5h0.8M393,201.8h0.8M402.6,213.8h0.8M399,212.8h0.8M396.9,189.7h0.8M399.8,194.5h0.8M365.9,236.6h0.8M387.3,228.5h0.8M403.4,202.3h0.8M374.6,231.8h0.8M383.1,233h0.8M402.4,222.9h0.8M399.9,198.8h0.8M397.1,223.5h0.8M398.8,209.7h0.8M401.9,209.3h0.8M400.6,206.3h0.8M401.9,207.5h0.8M397.1,208.9h0.8M388.7,230.7h0.8M398,187.5h0.8M395.8,220.5h0.8M396.8,224h0.8M394.9,217.2h0.8M365.8,236.1h0.8M390.2,234.3h0.8M398.5,205.5h0.8M368.9,238.2h0.8M393.9,195.2h0.8M399.7,187.3h0.8M395.7,192.2h0.8M397.3,190.4h0.8M395.3,208h0.8M397.2,231.5h0.8M382,234.5h0.8M402.4,197.4h0.8M384.5,230h0.8M396.4,212.4h0.8M377.3,230.3h0.8M397.3,225.8h0.8M387.4,233.4h0.8M379.7,228.9h0.8M390.8,227h0.8M401,190.4h0.8M393.2,206h0.8M391.6,230.2h0.8M376.9,229.4h0.8M388.9,225.3h0.8M385.5,235.5h0.8M379.8,223.4h0.8M391.5,206.5h0.8M394.8,196.4h0.8M392.3,228.6h0.8M403.3,201.8h0.8M392.3,208h0.8M385,235.3h0.8M398.5,202.2h0.8M393.9,199.2h0.8M388.3,220.3h0.8M383.2,225h0.8M383.6,233h0.8M380.1,236.3h0.8M389.2,221.8h0.8M400,211.8h0.8M389.7,235.2h0.8M372.8,232.5h0.8M400.4,229.9h0.8M394.7,201h0.8M399.2,207.4h0.8M402.8,186.5h0.8M385.9,215.6h0.8M397.4,190.2h0.8M369.9,234.3h0.8M388.6,220.3h0.8M401,215h0.8M389.5,209.2h0.8M367.6,237.5h0.8M400.5,218.6h0.8M383.5,218.5h0.8M395.3,185.6h0.8M388.7,210.9h0.8M400.7,199.6h0.8M396.2,201.1h0.8M373.2,236.6h0.8M396.6,211.1h0.8M391.2,205.3h0.8M389.8,235.9h0.8M389.9,215.5h0.8M401.9,204.4h0.8M395.9,194.6h0.8M396.8,192.4h0.8M381.8,237.1h0.8M401,203.9h0.8M402,205.1h0.8M373.7,233.4h0.8M380.8,235.5h0.8M369.1,235h0.8M383,234.2h0.8M398.8,207h0.8M388.7,224h0.8M401.6,213.4h0.8M391.9,232h0.8M365.7,238.3h0.8M400.2,212h0.8M398.4,191.4h0.8M397.2,224.4h0.8M381.7,224.2h0.8M387.8,230.5h0.8M381.9,223.2h0.8M377.5,235.7h0.8M366.3,235.7h0.8M399.2,191.7h0.8M393.5,232.8h0.8M376.9,233.6h0.8M384.8,233.9h0.8M391.9,202.6h0.8M403.4,221.2h0.8M377,231h0.8M393.9,202.7h0.8M394.2,224.7h0.8M387.9,213.5h0.8M399.6,216.2h0.8M398.5,198.4h0.8M386,232.7h0.8M385.7,224h0.8M391,234.6h0.8M387.3,210.2h0.8M402.1,203.8h0.8M403.1,200.8h0.8M391,223h0.8M400.9,192.5h0.8M395.1,232.7h0.8M389.9,223.1h0.8M395.1,215h0.8M402.8,192.1h0.8M399.2,202.4h0.8M384.1,226.9h0.8M391.7,204.8h0.8M385.7,224h0.8M389.5,205.3h0.8M397.8,215.6h0.8M400.7,212.1h0.8M393.9,195.1h0.8M389.6,233.7h0.8M398.4,221.2h0.8M395.3,219.1h0.8M400.5,205.4h0.8M391.9,231h0.8M403.5,188.6h0.8M395.2,186.2h0.8M400.4,224.8h0.8M401.7,199.1h0.8M378.2,230.4h0.8M399.5,194.9h0.8M369.6,233h0.8M382.4,237.6h0.8M388.6,222.1h0.8M396,233.1h0.8M395.9,186.6h0.8M371.2,226.3h0.8M386.3,221.7h0.8M382.6,236.4h0.8M398.1,209.7h0.8M394.4,219.5h0.8M381.1,230.8h0.8M376,230h0.8M376.7,238.6h0.8M377.5,237.4h0.8M398,203.7h0.8M397.1,190h0.8M387.9,219.1h0.8M370.8,230.1h0.8M403.1,210.4h0.8M402.1,193.6h0.8M378.3,237.2h0.8M388.7,231.8h0.8M374.7,229.9h0.8M392.6,231.9h0.8M396.1,231.8h0.8M377.4,235.9h0.8M386.1,214.1h0.8M393.7,226.6h0.8M397,224.2h0.8M394.5,210.6h0.8M393.2,200.7h0.8M399.8,212.5h0.8M400.4,189.3h0.8M378.4,230.1h0.8M397.4,231.5h0.8M383,225.8h0.8M402,222.1h0.8M397.9,189.3h0.8M402.5,218.2h0.8M365.8,238.2h0.8M399.7,203h0.8M401.5,196.3h0.8M401.8,216.5h0.8M395.9,197.5h0.8M370.4,238.7h0.8M393.7,205.4h0.8M385.3,217.6h0.8M384.2,225.1h0.8M403,192.6h0.8M401,215.8h0.8M379.7,239.9h0.8M398.7,199.6h0.8M398.2,229h0.8M400.4,205.5h0.8M400,197.6h0.8M398.7,222.3h0.8M390.1,233.6h0.8M382.2,237.7h0.8M391.2,209.4h0.8M396.1,199.9h0.8M375.6,234.9h0.8M395.4,201.6h0.8M366,232.2h0.8M390.5,226.8h0.8M391,212.1h0.8M376.6,234.1h0.8M402.5,207.3h0.8M393.1,219.6h0.8M373.8,233.4h0.8M392.4,224.3h0.8M400.2,204.6h0.8M395,189.8h0.8M366.8,235.2h0.8M367.9,238.1h0.8M389.9,227.4h0.8M388.7,233.7h0.8M369.5,234.6h0.8M384,232.6h0.8M401.6,219.1h0.8M390.9,212.5h0.8M394.7,228.9h0.8M371.1,238.8h0.8M397.5,227.1h0.8M401.1,204.8h0.8M385.9,216.6h0.8M389,224.1h0.8M397.9,214.8h0.8M384.7,233.3h0.8M399.9,202.1h0.8M385.3,230.6h0.8M400.8,188.8h0.8M395.7,218.6h0.8M395.9,204h0.8M397.1,195.4h0.8M394,212.3h0.8M399.9,187.4h0.8M393.7,218.9h0.8M358.9,238.7h0.8M401.6,185.2h0.8M393.4,229h0.8M371.6,227.3h0.8M382.2,236.1h0.8M385,229.6h0.8M361.8,235.9h0.8M369.5,235.8h0.8M397.2,206.1h0.8M386.3,232.3h0.8M384.1,217.7h0.8M396.6,216h0.8M379.8,235.4h0.8M395.1,192.9h0.8M394.8,219.3h0.8M402.4,198.4h0.8M386.1,236.7h0.8M368.2,236.4h0.8M401.9,218.3h0.8M389,236.3h0.8M394.5,234.9h0.8M375.6,227.6h0.8M384,219.7h0.8M399.1,190.6h0.8M397.3,228.4h0.8M392.7,214.7h0.8M389.2,227.4h0.8M395.4,186.7h0.8M393.3,225.4h0.8M388.3,224.1h0.8M379.3,238h0.8M386.2,227h0.8M387.9,232.4h0.8M368.5,238.8h0.8M391.4,230.4h0.8M402.1,195.8h0.8M397.7,186h0.8M389.9,216h0.8M394.7,206.3h0.8M380.4,228.4h0.8M384.9,232.4h0.8M368.6,236.2h0.8M393,222.9h0.8M392.8,223.9h0.8M383.8,236h0.8M389.6,213.4h0.8M398.7,214.1h0.8M370.8,234.4h0.8M370.1,239h0.8M371.9,237.8h0.8M384.8,223h0.8M393.8,197.7h0.8M371.5,238.9h0.8M403.2,194.9h0.8M383.2,229.2h0.8M386.2,214.7h0.8M401.6,196.8h0.8M388.8,215.9h0.8M390.8,213.9h0.8M391.2,205.1h0.8M387.1,216.4h0.8M399.3,209.9h0.8M401,184.9h0.8M375.4,230.1h0.8M382.8,227.6h0.8M401.5,203.7h0.8M398.2,218h0.8M379.6,231.4h0.8M366.3,233h0.8M382.3,224.4h0.8M399.8,188.2h0.8M375,237.4h0.8M401.5,226.4h0.8M384,223.7h0.8M399,224.7h0.8M395.4,204.1h0.8M387.9,225.6h0.8M390.3,216.4h0.8M372.1,232.5h0.8M371,232.4h0.8M390,232h0.8M396,204.9h0.8M379.2,225.1h0.8M402.9,212.4h0.8M393.1,215.5h0.8M391.7,207.3h0.8M399.5,224.6h0.8M394.7,207.6h0.8M373.7,239h0.8M375.5,232.8h0.8M387.1,223h0.8M399.2,211.2h0.8M399.1,227.4h0.8M400.6,226.7h0.8M385.8,222.7h0.8M390.1,220.3h0.8M393.9,206.5h0.8M389.4,227.5h0.8M397.9,216h0.8M371,229.8h0.8M379.4,237.7h0.8M393.6,206.3h0.8M371.6,237.4h0.8M382,220.3h0.8M388.7,231.5h0.8M393.5,216.8h0.8M364.1,235h0.8M395.8,191.5h0.8M357.8,239.4h0.8M394.4,221.5h0.8M391.5,224.4h0.8" stroke="#8c8c8c" stroke-width="0.8" opacity="0.85" fill="none"/>
<polygon points="361,240 370,233 380,226 388,217 394,206 398,196 401,200 400,212 395,222 386,231 375,238 368,240" fill="#9a9a9a" filter="url(#b1)" opacity="1.0"/>
<path d="M369.1,235.5h0.8M399.2,198.5h0.8M381.6,222.9h0.8M386.2,231.3h0.8M385.3,230.1h0.8M389.8,214.9h0.8M382.5,229.4h0.8M369.1,235.9h0.8M397.8,201.9h0.8M369.3,238.3h0.8M390.8,214.7h0.8M395.5,206.8h0.8M394.8,220.8h0.8M383.5,229.1h0.8M375.3,233h0.8M381.9,226.1h0.8M371,234.5h0.8M398.5,216.2h0.8M382,230.2h0.8M386.3,227.8h0.8M396.3,212.3h0.8M392.6,221.7h0.8M389.4,222.1h0.8M396,204.6h0.8M386.9,225.2h0.8M391.5,217.5h0.8M398.2,215.5h0.8M393.4,220.9h0.8M369,238.8h0.8M389.5,225.7h0.8M394.1,215h0.8M393,211.6h0.8M388.4,220.1h0.8M397.9,213.4h0.8M378.2,229.3h0.8M383.4,223.2h0.8M386.5,225.3h0.8M385.2,227.9h0.8M377.9,229.5h0.8M384.2,222h0.8M380.2,227.8h0.8M389.4,215.1h0.8M397.3,216.7h0.8M394.6,218.5h0.8M391.8,219.7h0.8M372.8,234.5h0.8M399.2,209.6h0.8M400.2,198.9h0.8M376,234.8h0.8M399,211.4h0.8M398,203.4h0.8M382.8,233.4h0.8M396.7,204.4h0.8M398.1,199.3h0.8M385,229.1h0.8M398.7,205.6h0.8M386.2,231.4h0.8M370.8,232.4h0.8M377.4,232.6h0.8M385.6,228.2h0.8M387.2,226.2h0.8M395.3,208.8h0.8M398.3,211.6h0.8M397.8,212h0.8M377.2,233.6h0.8M398.9,211.5h0.8M382.5,226.1h0.8M384.9,224.7h0.8M368.7,238.6h0.8M398.8,201.3h0.8M369,233.9h0.8M397.4,206.7h0.8M394.1,213.4h0.8M395,202.3h0.8M383.2,224.9h0.8M384.9,228.1h0.8M366.4,238.9h0.8M381.8,230.1h0.8M397.4,201.7h0.8M393.8,210.6h0.8M386.6,228.5h0.8M389.8,222.5h0.8M392.7,209.5h0.8M394.4,210.7h0.8M383.2,228.1h0.8M365.7,238.8h0.8M390.7,220.1h0.8M396.7,208.3h0.8M389.5,222.7h0.8M385.4,219.7h0.8M378.6,228.5h0.8M395,212.4h0.8M397.6,203h0.8M394.2,221.4h0.8M392.9,218h0.8M395.9,215.8h0.8M365.2,238.2h0.8M390.2,222.9h0.8M376.4,232.6h0.8M369.4,235.7h0.8M371.1,234.9h0.8M396.4,215.7h0.8M389.6,222.7h0.8M375.6,233.1h0.8M384.7,231.1h0.8M394,211.6h0.8M391.8,209h0.8M393.3,220.6h0.8M365.2,237.4h0.8M392.6,218.3h0.8M375.5,232.5h0.8M369.3,239.4h0.8M394.2,221.2h0.8M389.1,223h0.8M386.8,219.5h0.8M395,205.5h0.8M391.8,223.6h0.8M380,231.9h0.8M396.8,219.4h0.8M371.2,236.6h0.8M387.1,219.9h0.8M365.7,238.6h0.8M380.5,228.2h0.8M365.5,239h0.8M379,229.9h0.8M392.7,216.1h0.8M399.5,211.1h0.8M382.4,232.4h0.8M400.6,206.2h0.8M381.1,227.6h0.8M375.1,233.7h0.8M371.1,232.7h0.8M398.9,207.9h0.8M374.8,237h0.8M395.9,219.7h0.8M386.7,226.4h0.8M392.4,220.5h0.8M371.9,235.2h0.8M395.6,218.2h0.8M389.4,221.1h0.8M383.1,230.8h0.8M398.3,214.3h0.8M375.9,232.8h0.8M383,226.2h0.8M379.5,228.9h0.8M377.5,230.8h0.8M377.1,232.8h0.8M389.9,221.4h0.8M391.6,220.3h0.8M394.6,213h0.8M397.6,199.6h0.8M365.1,237.3h0.8M399.4,205.6h0.8M395.4,212.5h0.8M379.6,231.4h0.8M397,203.4h0.8M392.7,217.8h0.8M393.7,210.2h0.8M390,223.8h0.8M384.9,222.6h0.8M394.6,213.7h0.8M369.2,235.4h0.8M400.4,201.5h0.8M388.5,218.7h0.8M394.7,221.3h0.8M368.1,236.5h0.8M385.9,221.8h0.8M377.7,228.3h0.8M389.9,219.9h0.8M381.7,225.8h0.8M391.2,222.2h0.8M363.8,239.4h0.8M399.5,198.9h0.8M395.1,209.1h0.8M373.4,237.3h0.8M389,228.9h0.8M391.4,220.5h0.8M381.3,233.6h0.8M395,208.6h0.8M376.3,237.3h0.8M397.7,208.5h0.8M381.6,224.4h0.8M394.5,207.5h0.8M382.1,232.7h0.8M396.7,203h0.8M393.7,211.5h0.8M388,221.1h0.8M367.8,236.8h0.8M390.7,220.2h0.8M399.4,201.8h0.8M395.7,208.7h0.8M376,232.2h0.8M381.7,233.9h0.8M375.6,237.7h0.8M387.8,224.1h0.8M378.5,229.2h0.8M393.1,211.6h0.8M398,206.1h0.8M385.4,225h0.8M371.1,236.3h0.8M382.8,229.9h0.8M392.9,215.2h0.8M379,232.7h0.8M396.6,216.3h0.8M400.3,211.7h0.8M377.5,235.7h0.8M376.3,229.7h0.8M392.2,218h0.8M366.4,238.2h0.8M396.5,208h0.8M367.4,236.2h0.8M381.2,229.9h0.8M398.7,210.2h0.8M392,221.6h0.8M389.9,221.2h0.8M366.9,235.4h0.8M370.7,232.7h0.8M383.7,225.6h0.8M396.3,202.4h0.8M395.2,219h0.8M363.6,238.3h0.8M396.6,214.8h0.8M399.9,205.2h0.8M399.9,200.5h0.8M397.2,209.1h0.8M383.5,230h0.8M387.6,222.6h0.8M386.6,228.8h0.8M399.7,201.2h0.8M372.5,237h0.8M376.7,234.3h0.8M395.2,210.6h0.8M395.4,217.3h0.8M388.4,229.1h0.8M401.1,205h0.8M381.5,225.9h0.8M395.2,206.3h0.8M372.2,231h0.8M385.4,227.9h0.8M383.8,226.8h0.8M399.7,211.8h0.8M381.1,226.9h0.8M394.8,208.2h0.8M398.1,197.2h0.8M391.8,225h0.8M387,220.2h0.8M382.3,226.9h0.8M375.8,233.7h0.8M389.2,220.5h0.8M389.5,218h0.8M393.9,208.3h0.8M398.7,205.2h0.8M373.5,236.2h0.8M396.3,214.8h0.8M399,210.4h0.8M399,213.1h0.8M376.4,230.1h0.8M375,233h0.8M365.4,237.6h0.8M396,209.3h0.8M387.4,230.2h0.8M392.4,211.1h0.8M393.6,222.7h0.8M396.1,203.2h0.8M400.3,207h0.8M381.8,233h0.8M383.5,233.5h0.8M396.5,205.9h0.8M384.9,223.4h0.8M366.5,237.2h0.8M381.1,228.8h0.8M370.8,232.9h0.8M397.8,210.3h0.8M382.6,229.8h0.8M376.1,228.4h0.8M398.6,207.7h0.8M400.3,206h0.8M382.2,226.3h0.8M378.2,233.1h0.8M375.6,232h0.8M394.3,208h0.8M371.6,234h0.8M388.3,223.3h0.8M395.8,216.5h0.8M387,227.2h0.8M396.6,208.7h0.8M370.6,233.3h0.8M375.4,232.9h0.8M391.2,213h0.8M394.9,218.2h0.8M392.5,222.8h0.8M363.2,238.5h0.8M396.9,216.8h0.8M384.7,224.8h0.8M376.6,233.7h0.8M389.1,226.9h0.8M377.2,237h0.8M372.3,239.1h0.8M382.7,225.8h0.8M367.6,238.7h0.8M394.3,209.8h0.8M366,236.6h0.8M362.7,238.9h0.8M396,208.1h0.8M393.7,210.3h0.8M389.9,215.1h0.8M395.8,210.6h0.8M366.6,233.3h0.8M375.1,236.1h0.8M392.7,219.4h0.8M378.8,235.4h0.8M373.3,234.5h0.8M370.6,238h0.8M396.9,217.3h0.8M392.1,216.3h0.8M394.5,217.6h0.8M389.7,221.3h0.8M391.1,218h0.8M393.4,215.5h0.8M391.5,213.3h0.8M399.9,210.2h0.8M388,218.5h0.8M383.1,224.9h0.8M375.4,233.1h0.8M374.9,228.8h0.8M385.7,226.5h0.8M378,235.4h0.8M382.4,227h0.8M372.4,233.2h0.8M385.4,225.2h0.8M390,218.8h0.8M400.3,211.5h0.8M389.4,216h0.8M397.1,200.1h0.8M375.6,234.4h0.8M397.2,215.5h0.8M399.4,203.5h0.8M387.6,227.1h0.8M389.7,218.6h0.8M388,225.3h0.8M390.6,216.9h0.8M392.8,207h0.8M396.6,215.7h0.8M384.9,222.7h0.8M387.9,221h0.8M393,212.9h0.8M390.8,225h0.8M398.3,217.1h0.8M399.2,205.8h0.8M372.4,234.3h0.8M375.7,235.9h0.8M369.6,238.3h0.8M374.2,231.2h0.8M363.3,239h0.8M373.2,235.3h0.8M369.5,233.7h0.8M399.9,204.1h0.8M377.5,229h0.8M383.4,229.6h0.8M386.8,227.9h0.8M379.1,227.9h0.8M377.9,229.6h0.8M400.2,207.9h0.8M397.5,200.4h0.8M375.7,236.3h0.8M379.2,230.9h0.8M374.6,231.3h0.8M383.9,225.3h0.8M382.3,229.4h0.8M386,226.6h0.8M375.5,232.5h0.8M372.3,237h0.8M386.9,230.6h0.8M384.7,225.1h0.8M374.3,237.2h0.8M389,226.5h0.8M394.7,215h0.8M384.3,225.1h0.8M384.3,228.5h0.8M388.1,229.1h0.8M390,221.8h0.8M382.2,231.5h0.8M381,228.2h0.8M386.7,226h0.8M362.1,239.1h0.8M397.7,197.5h0.8M382.5,225.8h0.8M387.9,227.8h0.8M396.4,216.1h0.8M390.2,221h0.8M386.5,221h0.8M381.6,229.4h0.8M392.4,223.4h0.8M371.6,234.8h0.8M387.5,220.1h0.8M396.6,201.6h0.8M383.9,225.8h0.8M394.5,208.6h0.8M386,227.3h0.8M364.5,237h0.8M376.8,229.5h0.8M372.8,237.8h0.8M396.3,205.2h0.8M376,234.2h0.8M388.3,219.4h0.8M383.2,226.8h0.8M372.3,236.1h0.8M395.1,211h0.8M382.8,229.9h0.8M390,220.6h0.8M397.2,209.6h0.8M399.2,206.4h0.8M380.5,233.7h0.8M389.2,222.7h0.8M387.4,224h0.8M391.4,213.9h0.8M394.5,211.4h0.8M399.1,208.6h0.8M394.7,205.3h0.8M377.9,232h0.8M396.2,201.8h0.8M395.5,211.7h0.8M401.3,206h0.8M398.2,199.7h0.8M382,233.1h0.8M376.9,230.8h0.8M392.3,212.1h0.8M389.8,211.7h0.8M399.3,211.2h0.8M394,217.3h0.8M385,225.2h0.8M378,230.7h0.8M393,223.7h0.8M377.6,232.9h0.8M390.8,222.2h0.8M362.1,239.5h0.8M377.1,232.2h0.8M374.7,232.9h0.8M372.2,237.1h0.8M396.9,201.9h0.8M396.8,216.5h0.8M385.9,222.6h0.8M382.4,230.8h0.8M373,236.6h0.8M377.2,235.2h0.8" stroke="#838383" stroke-width="0.8" opacity="0.85" fill="none"/>
<polygon points="394.5,184.5 403.5,184.5 403.5,197 395.5,196" fill="#c8c8c8" filter="url(#b1)" opacity="1.0"/>
<path d="M400.3,192.5h0.7M399.8,189.2h0.7M402.8,196.4h0.7M401.1,189.1h0.7M401.7,187.4h0.7M399.6,189.4h0.7M401.5,187.3h0.7M400.1,194.3h0.7M395.1,191.7h0.7M402.8,190h0.7M397.1,192.3h0.7M402.6,185.7h0.7M401.6,194.8h0.7M395.4,186.6h0.7M397.5,192.9h0.7M399.5,191.6h0.7M396.9,195.9h0.7M395.3,197h0.7M399.1,185.4h0.7M401.5,189.2h0.7M395.4,188.9h0.7M397.8,185h0.7M397.9,186.5h0.7M403,195.3h0.7M399.1,192.7h0.7M402.4,191.6h0.7M399.5,194.5h0.7M399.9,186.9h0.7M400.6,188.5h0.7M401.5,185.8h0.7M397.5,190.3h0.7M397.6,192.7h0.7M401.5,192.5h0.7M402,190.1h0.7M400.1,187.5h0.7M398.6,185h0.7M401,190h0.7M396.9,185.8h0.7M395.3,189.4h0.7M396.7,193.3h0.7M399.7,193.7h0.7M397.8,190h0.7M401.6,196.1h0.7M401.5,192.9h0.7M396.3,187.3h0.7M395.7,195h0.7M397.5,190.5h0.7M397.9,185.8h0.7M397.4,192.4h0.7M398.2,187.2h0.7M402,193.2h0.7M399.2,187.8h0.7M398.4,188.6h0.7M398,186.5h0.7M399.7,195.8h0.7M403.3,190.5h0.7M397.4,194.8h0.7M397.4,191.2h0.7M400.8,190.1h0.7M399.4,188.2h0.7M396.3,191.4h0.7M401.1,189h0.7M398.7,196.3h0.7M399.5,191.7h0.7M395.5,194.4h0.7M401.5,190.9h0.7M395.3,191h0.7M402.7,186.6h0.7M396,189.1h0.7M395.6,187h0.7M395.2,192h0.7M399.8,189.6h0.7M397.3,186.9h0.7M395.9,193h0.7M402.3,192h0.7M403,185.9h0.7M397,194.6h0.7M397.3,185.1h0.7M403.2,187.5h0.7M397.6,191.4h0.7M402.5,190.9h0.7M401.5,187.9h0.7M398.4,189.1h0.7M396.4,193.6h0.7M400.9,188h0.7M397.1,189.6h0.7M396.3,187.2h0.7M403.2,186.9h0.7M398,196.4h0.7M400.8,193h0.7M396.7,186.4h0.7M399.9,192h0.7M403.1,191.5h0.7M399.3,186.5h0.7M399.5,187.9h0.7M400.9,188.6h0.7M394.9,187.9h0.7M400,186.8h0.7M402.8,191.1h0.7M400.6,193.3h0.7M401.8,196.7h0.7M397.2,191.9h0.7M400.4,189.6h0.7M401.5,188.5h0.7M396.5,194.7h0.7M403.8,190.4h0.7M396.6,184.7h0.7M400.4,188.8h0.7M402.9,194.2h0.7M395.5,190.9h0.7M401,193.7h0.7M398,192.1h0.7M400.5,190.1h0.7M395.1,190.2h0.7M399.9,185.1h0.7M398,188.9h0.7M398,188h0.7M403,194.9h0.7M400.2,187.3h0.7M401.4,186.9h0.7M401.6,190.4h0.7M400.2,190.3h0.7M396.2,196.4h0.7M397.1,186.8h0.7M396.4,193.5h0.7M395.4,187.5h0.7M399.8,192.1h0.7M395.3,187.2h0.7M397.7,188.2h0.7M395.6,194.7h0.7M400.2,192.6h0.7M394.9,189.6h0.7M398.8,191.1h0.7M400.3,191h0.7M402.4,185.2h0.7M403,192.7h0.7M402.2,186.1h0.7M403.5,192.7h0.7M398.7,195.6h0.7M396.5,194.5h0.7" stroke="#a4a4a4" stroke-width="0.7" opacity="0.85" fill="none"/>
<path d="M401.1,187.5h0.8M397.4,194.1h0.8M396.3,184.8h0.8M401.9,188.3h0.8M396.5,193.1h0.8M401.3,189.3h0.8M396,192.3h0.8M397.8,195.7h0.8M398.8,192h0.8M399.8,195h0.8M397.5,195.2h0.8M403,186.9h0.8M397.9,190.4h0.8M400.8,192.1h0.8M401.5,192.3h0.8M402.7,185.7h0.8M403.5,195.4h0.8M401.2,193.2h0.8M398.5,188h0.8M403.7,188.1h0.8M400.5,188.7h0.8M397.8,190.8h0.8M395.7,187.1h0.8M397.5,186.8h0.8M403.1,186.5h0.8M397.2,189.1h0.8M395,186.6h0.8M399.5,192.7h0.8M396.2,192.6h0.8M397.8,194.6h0.8M395.3,186.3h0.8M402.6,187.2h0.8M396.8,193.4h0.8M399.6,187.8h0.8M396,186.8h0.8M398.5,191.9h0.8M399.2,188.7h0.8M396,184.8h0.8M395.8,192.7h0.8M395.1,190.6h0.8M399.2,189.4h0.8M400.1,188.5h0.8M395.3,193.5h0.8M403.3,184.8h0.8M402.9,191.5h0.8M397.3,192.1h0.8M403.8,195.9h0.8M400.8,197.1h0.8M399.2,194.2h0.8M399.5,192.4h0.8M396.6,195.4h0.8M399.1,195h0.8M396.7,185.5h0.8M399,188.7h0.8M402.2,192.5h0.8M399.8,196.4h0.8M397.2,194h0.8M398.6,193.5h0.8M399.8,192.5h0.8" stroke="#f4f4f4" stroke-width="0.8" opacity="0.9" fill="none"/>
<path d="M369,226.5 Q370.5,223.5 375.5,223 L381.5,223.3 Q384.8,225.5 384.5,229 L382.5,233 Q376,234.6 371.5,232.5 Q368.6,230 369,226.5 Z" fill="#ececf0" stroke="#555" stroke-width="0.45"/>
<ellipse cx="379" cy="228.6" rx="3.6" ry="2.8" fill="#3434d8" filter="url(#b1)"/>
<text x="363.5" y="219.3" font-size="4.4" text-anchor="middle" fill="#333" >Low FSC</text>
<text x="355.7" y="227.6" font-size="6" font-weight="bold" text-anchor="start" fill="#111"  textLength="11.8" lengthAdjust="spacingAndGlyphs">0.4%</text>
<text x="302" y="179" font-size="8.4" font-weight="bold" text-anchor="start" fill="#111" >iii</text>
<text transform="translate(314,212) rotate(-90)" font-size="2.8" text-anchor="middle" fill="#555">FSC-A (x 1,000)</text>
<text transform="translate(319.6,188) rotate(-90)" font-size="3.2" text-anchor="middle" fill="#444">250</text>
<text transform="translate(319.6,199) rotate(-90)" font-size="3.2" text-anchor="middle" fill="#444">200</text>
<text transform="translate(319.6,211) rotate(-90)" font-size="3.2" text-anchor="middle" fill="#444">150</text>
<text transform="translate(319.6,223) rotate(-90)" font-size="3.2" text-anchor="middle" fill="#444">100</text>
<text transform="translate(319.6,235) rotate(-90)" font-size="3.2" text-anchor="middle" fill="#444">50</text>
<text x="334" y="245" font-size="2.6" text-anchor="middle" fill="#555" >10²</text>
<text x="354" y="245" font-size="2.6" text-anchor="middle" fill="#555" >10³</text>
<text x="375" y="245" font-size="2.6" text-anchor="middle" fill="#555" >10⁴</text>
<text x="396" y="245" font-size="2.6" text-anchor="middle" fill="#555" >10⁵</text>
<text x="361.5" y="252.2" font-size="4" text-anchor="middle" fill="#555" >SSC-A</text>
<rect x="437.9" y="19.4" width="78.1" height="73.6" fill="none" stroke="#777" stroke-width="0.6"/>
<path d="M436.3,19.4h1.6M437.1,21h0.8M437.1,22.7h0.8M437.1,24.3h0.8M437.1,25.9h0.8M436.3,27.6h1.6M437.1,29.2h0.8M437.1,30.8h0.8M437.1,32.5h0.8M437.1,34.1h0.8M436.3,35.8h1.6M437.1,37.4h0.8M437.1,39h0.8M437.1,40.7h0.8M437.1,42.3h0.8M436.3,43.9h1.6M437.1,45.6h0.8M437.1,47.2h0.8M437.1,48.8h0.8M437.1,50.5h0.8M436.3,52.1h1.6M437.1,53.7h0.8M437.1,55.4h0.8M437.1,57h0.8M437.1,58.7h0.8M436.3,60.3h1.6M437.1,61.9h0.8M437.1,63.6h0.8M437.1,65.2h0.8M437.1,66.8h0.8M436.3,68.5h1.6M437.1,70.1h0.8M437.1,71.7h0.8M437.1,73.4h0.8M437.1,75h0.8M436.3,76.6h1.6M437.1,78.3h0.8M437.1,79.9h0.8M437.1,81.6h0.8M437.1,83.2h0.8M436.3,84.8h1.6M437.1,86.5h0.8M437.1,88.1h0.8M437.1,89.7h0.8M437.1,91.4h0.8M436.3,93h1.6M437.9,93v1.6M439.5,93v0.8M441.2,93v0.8M442.8,93v0.8M444.4,93v0.8M446,93v1.6M447.7,93v0.8M449.3,93v0.8M450.9,93v0.8M452.5,93v0.8M454.2,93v1.6M455.8,93v0.8M457.4,93v0.8M459.1,93v0.8M460.7,93v0.8M462.3,93v1.6M463.9,93v0.8M465.6,93v0.8M467.2,93v0.8M468.8,93v0.8M470.4,93v1.6M472.1,93v0.8M473.7,93v0.8M475.3,93v0.8M476.9,93v0.8M478.6,93v1.6M480.2,93v0.8M481.8,93v0.8M483.5,93v0.8M485.1,93v0.8M486.7,93v1.6M488.3,93v0.8M490,93v0.8M491.6,93v0.8M493.2,93v0.8M494.8,93v1.6M496.5,93v0.8M498.1,93v0.8M499.7,93v0.8M501.4,93v0.8M503,93v1.6M504.6,93v0.8M506.2,93v0.8M507.9,93v0.8M509.5,93v0.8M511.1,93v1.6M512.7,93v0.8M514.4,93v0.8M516,93v0.8" stroke="#777" stroke-width="0.4" fill="none"/>
<path d="M456.8,92.3h0.7M455.1,90.9h0.7M470.1,84.7h0.7M467.5,87h0.7M462.4,90.7h0.7M460.2,88.1h0.7M458.4,91h0.7M462.1,90.5h0.7M452.4,92h0.7M450.5,89.6h0.7M469.5,85.8h0.7M453.7,90.1h0.7M446.3,91.4h0.7M455.6,89.3h0.7M456.8,90.2h0.7M469.3,87.2h0.7M457.8,88.2h0.7M470.4,86.3h0.7M453.9,91.4h0.7M466.7,87.4h0.7M459.3,89h0.7M460.2,89.6h0.7M471.2,88.3h0.7M444.3,89.6h0.7M466.9,87.3h0.7M457.8,84.3h0.7M458.2,89.9h0.7M463.4,88.5h0.7M471.2,87.8h0.7M445.4,92.2h0.7M465.6,86.7h0.7M468.5,88h0.7M447.8,91.9h0.7M444.2,91.4h0.7M469.3,89.9h0.7M448.9,90.6h0.7M458.7,87.8h0.7M467.9,85.4h0.7" stroke="#c8c8c8" stroke-width="0.7" opacity="0.8" fill="none"/>
<polygon points="463,61.5 469.5,57 476,52.5 484,46 492,39.5 502,31.5 509,26.5 516,22 516,48 506,49.5 496,51.5 486,54.5 476,58.5 468,62 464,63.5" fill="#acacac" filter="url(#b1)" opacity="1.0"/>
<path d="M487.4,54h0.8M475.6,59.9h0.8M503.6,41.8h0.8M465.6,62.5h0.8M469.5,61.2h0.8M489,52.4h0.8M513.6,32.7h0.8M502.8,42.6h0.8M502.4,34.4h0.8M509.3,39.4h0.8M495.6,45h0.8M466.2,58.9h0.8M486.7,51.7h0.8M510.3,40h0.8M508.2,29.2h0.8M484.5,49.2h0.8M493.9,49h0.8M501.7,33.2h0.8M493.8,42.5h0.8M512.8,36.1h0.8M499.9,42.3h0.8M482.7,49.9h0.8M476.9,58.2h0.8M477.8,54.7h0.8M500.8,41.8h0.8M483.6,54.3h0.8M474.7,58.9h0.8M486.6,50.6h0.8M484.3,51.9h0.8M499.4,40.5h0.8M513.1,45.9h0.8M491.7,45.4h0.8M489.1,52.1h0.8M513.2,46.6h0.8M499.9,36.3h0.8M483.2,53.7h0.8M485.7,45.3h0.8M510.7,28.4h0.8M490.9,51.2h0.8M497.8,46.6h0.8M515.3,33.8h0.8M498,38.8h0.8M472.3,58.3h0.8M466.1,61.1h0.8M482.3,53.7h0.8M503.4,35.9h0.8M504.9,42.8h0.8M481.4,51.6h0.8M496.8,51.3h0.8M508.5,43.7h0.8M468.6,56.6h0.8M484.7,51h0.8M499.7,35.3h0.8M461.7,60.6h0.8M511.4,26.1h0.8M494,47h0.8M498.8,43h0.8M513.7,41h0.8M506.4,31.8h0.8M504.7,42.6h0.8M495.6,36.4h0.8M480.6,53.4h0.8M479.6,51h0.8M478.3,56.9h0.8M503.8,42.5h0.8M511.8,48.6h0.8M514,42.6h0.8M480.6,49h0.8M483.3,47.8h0.8M479.7,54.4h0.8M503.7,32.1h0.8M498.9,40.3h0.8M499.7,36.7h0.8M489.1,51.1h0.8M507.5,35.4h0.8M498.6,45.1h0.8M477.1,52.6h0.8M492.8,43.8h0.8M502.8,37h0.8M482.3,52.1h0.8M492,39.5h0.8M496.5,47.3h0.8M492.8,50.2h0.8M468.3,61h0.8M507.9,30.8h0.8M501,34.6h0.8M512,44.5h0.8M508,35.9h0.8M509.2,25.7h0.8M496.8,38.3h0.8M483.9,49h0.8M504.5,44.1h0.8M485.4,50.6h0.8M495.9,37.2h0.8M501.2,35.3h0.8M497.9,47.9h0.8M498.6,41.3h0.8M492.3,38.5h0.8M492.8,41.4h0.8M513.8,44.2h0.8M488.3,43.5h0.8M485.8,51.8h0.8M512.2,32.2h0.8M491.7,42.4h0.8M482.1,49.8h0.8M504.4,50.8h0.8M507.1,39h0.8M496.9,39.4h0.8M473.5,58.6h0.8M511.8,47.8h0.8M506.5,37.2h0.8M500.3,38.2h0.8M493.6,43.7h0.8M496.4,41.1h0.8M487.5,48.1h0.8M510.1,29.2h0.8M476.7,53.1h0.8M508.6,31h0.8M488.2,44.1h0.8M485.5,50.5h0.8M487.3,45.4h0.8M500.9,37.1h0.8M514.3,29.8h0.8M473.3,60.8h0.8M501.1,36.5h0.8M501.3,36.5h0.8M475.1,59.9h0.8M514.8,44.2h0.8M499.6,45.4h0.8M511.2,24.3h0.8M495.1,46.2h0.8M495.1,50.9h0.8M497.3,39.8h0.8M502.1,37.4h0.8M494.6,38.7h0.8M503.8,50.9h0.8M501,36.7h0.8M510.2,35.4h0.8M485.3,50.9h0.8M496.3,45.5h0.8M506.5,33.2h0.8M475.6,58.2h0.8M512.9,44.1h0.8M511,40.4h0.8M489.5,44.7h0.8M509.4,44.9h0.8M511.7,29.9h0.8M487.8,53.2h0.8M506.5,47.8h0.8M514.1,36.7h0.8M509.2,36.7h0.8M483.2,55.5h0.8M477.4,51.7h0.8M503.7,44h0.8M509.1,27.2h0.8M503.1,32.6h0.8M489.9,48.4h0.8M494.6,42.2h0.8M481.2,49.2h0.8M492.7,38.2h0.8M511.6,33.9h0.8M502.7,42.5h0.8M494.7,43.8h0.8M503.1,43.5h0.8M491.6,42.5h0.8M489.2,50h0.8M501.2,47.9h0.8M473.8,56.5h0.8M476,54.3h0.8M487.3,49.8h0.8M483.8,51.7h0.8M468.5,59h0.8M492,47.5h0.8M495.6,43.2h0.8M486,55.6h0.8M514.7,27.9h0.8M505.4,34.2h0.8M505.5,39.5h0.8M512.7,30.3h0.8M501.7,37h0.8M491.3,48.3h0.8M493,46.1h0.8M474.5,55h0.8M503.6,34.6h0.8M492.4,54.4h0.8M513.2,35.6h0.8M511.1,40.4h0.8M494.3,39.8h0.8M493.1,43.1h0.8M468.5,60.8h0.8M504.5,38.2h0.8M489.8,43.1h0.8M512.3,34.5h0.8M499.2,36.6h0.8M506.2,50.5h0.8M482,48.5h0.8M504.4,41.7h0.8M501.6,45.2h0.8M488.8,53.2h0.8M483.5,51.2h0.8M493.2,49.9h0.8M515.1,43.3h0.8M470.7,60.6h0.8M490.1,49.5h0.8M467.9,60.1h0.8M502.8,37.7h0.8M494.4,47.8h0.8M508.9,33.9h0.8M486.1,45h0.8M486.9,50.9h0.8M514.9,37.8h0.8M514.2,22.5h0.8M474.2,54.7h0.8M485.1,48h0.8M497.7,42.7h0.8M500.4,36.9h0.8M481.3,53.9h0.8M498.5,51.5h0.8M477.6,55.1h0.8M509.8,40.2h0.8M513.4,43.5h0.8M484.3,47.4h0.8M503.4,35.3h0.8M483.1,53.7h0.8M495,40.5h0.8M494.2,41.5h0.8M488.5,42.9h0.8M481.7,52.8h0.8M513,44.4h0.8M513.1,27.3h0.8M478.6,54.1h0.8M508.6,44.7h0.8M501.9,38.1h0.8M481.1,52.6h0.8M502.7,50.8h0.8M508.5,43h0.8M507.7,26.3h0.8M504.7,43.4h0.8M493.6,37.7h0.8M493.9,43.2h0.8M508.7,48h0.8M503.3,48.9h0.8M504.8,40h0.8M506.2,35.2h0.8M487.8,42.8h0.8M475.1,57.1h0.8M503.4,34.8h0.8M510.9,40.4h0.8M509.3,44.4h0.8M502.2,43.8h0.8M470.1,58.5h0.8M481.5,53.6h0.8M513.9,46h0.8M489.9,50.5h0.8M481,50.4h0.8M481.5,50h0.8M491,42.5h0.8M499.5,42.7h0.8M482,53.5h0.8M500.3,38.2h0.8M482,52.1h0.8M474.9,54h0.8M489,45.8h0.8M500.6,36.9h0.8M480.6,56.1h0.8M478.6,59.7h0.8M507.9,44.5h0.8M499.2,38h0.8M497.6,48.6h0.8M496.3,43.9h0.8M514.9,48.8h0.8M492,40.4h0.8M511.9,28.3h0.8M511.5,30.7h0.8M510.7,38.1h0.8M481.9,53.9h0.8M493.7,44.1h0.8M494,50.4h0.8M472.7,56.9h0.8M490.4,48.1h0.8M513.3,41.2h0.8M472.9,54.5h0.8M511.4,34.6h0.8M511.8,37.2h0.8M508.7,32.2h0.8M499.3,47.8h0.8M503.8,39.4h0.8M507.2,32.6h0.8M509.5,43.5h0.8M498.6,35.2h0.8M477.5,56.8h0.8M510.8,42.6h0.8M511.7,45.3h0.8M483.3,54h0.8M482.7,46.5h0.8M481.9,50.4h0.8M472.1,58.9h0.8M502.4,38.5h0.8M500.2,34h0.8M508.6,46.8h0.8M503.5,48.4h0.8M509.9,41.6h0.8M480.6,51.2h0.8M490.6,47.4h0.8M504.1,50.3h0.8M479.1,52.5h0.8M484.5,51.1h0.8M500.9,46.5h0.8M480.7,53.3h0.8M514.2,32h0.8M506.4,34.9h0.8M486.8,52.7h0.8M504.4,34.2h0.8M493,42h0.8M493.3,39.1h0.8M480.4,51.9h0.8M509.7,46.7h0.8M464.7,61.7h0.8M515.3,47.8h0.8M513.6,34.7h0.8M489.4,47.1h0.8M511.6,36.7h0.8M493.2,44.8h0.8M514.9,48h0.8M507.4,46.3h0.8M495.2,39.2h0.8M510.6,40.6h0.8M486.7,48.8h0.8M485.1,46.1h0.8M492.8,37.6h0.8M485.9,52.8h0.8M502.8,34.3h0.8M505.4,28h0.8M503.1,45.6h0.8M510.8,35h0.8M512.1,48.4h0.8M511.7,42.5h0.8M500,42.5h0.8M501.8,35.7h0.8M510.4,47.4h0.8M479.6,56.2h0.8M482.9,46.4h0.8M511.2,44.9h0.8M509.4,32.4h0.8M495.2,41.8h0.8M488.1,47h0.8M469.6,60h0.8M491.2,48.2h0.8M506.9,27.9h0.8M508,38.1h0.8M489.4,54.1h0.8M514.7,29.4h0.8M498.7,45.5h0.8M503.3,37.2h0.8M500.5,31.8h0.8M503.4,42.9h0.8M513.5,29.4h0.8M470.3,60h0.8M484.4,50.9h0.8M502.5,40.2h0.8M481.3,56.2h0.8M508.6,40.9h0.8M482.4,54.9h0.8M476.4,52.5h0.8M511,44.9h0.8M477.5,57.3h0.8M501.5,47.2h0.8M503.9,43.3h0.8M482.3,51.4h0.8M490.6,46.8h0.8M478.8,55.1h0.8M504.7,51.4h0.8M483.6,47.3h0.8M508.7,38.9h0.8M513.7,41.7h0.8M511,45.6h0.8M504.2,50.5h0.8M488.1,50.4h0.8M504.6,45.7h0.8M491.7,51.1h0.8M514,29.7h0.8M514.8,23.7h0.8M509,30.2h0.8M513.2,48.9h0.8M486.9,46.3h0.8M504,42.7h0.8M490.6,45.4h0.8M477.1,59.4h0.8M462.7,62.8h0.8M479.5,53.1h0.8M503.3,34.9h0.8M473.2,55h0.8M510,35.3h0.8M506.2,46.3h0.8M496.2,45.8h0.8M500.5,35.4h0.8M483.3,55.5h0.8M506.5,43.1h0.8M499.4,41.1h0.8M513.6,29.8h0.8M486.6,52.6h0.8M498.6,46.6h0.8M476.4,53.6h0.8M513.2,33.4h0.8M495.4,41h0.8M500.8,37.2h0.8M502.4,42.8h0.8M490.7,48.9h0.8M470.1,56.7h0.8M509.8,47.5h0.8M496.9,37h0.8M509.8,49.4h0.8M464.1,60.7h0.8M503.7,48.7h0.8M514.5,33.9h0.8M510.7,32.8h0.8M496.2,46.4h0.8M500.3,52.1h0.8M499.4,42.1h0.8M477.4,56.7h0.8M514.3,43.7h0.8M513.1,25.3h0.8M479.4,49.1h0.8M511.6,38.7h0.8M504.5,48.3h0.8M484,51.2h0.8M499.5,47.2h0.8M492.4,51.6h0.8M510.7,49.1h0.8M487.5,46.8h0.8M509.7,40.2h0.8M484.4,43.9h0.8M468.5,58.4h0.8M468.1,60.2h0.8M505.2,40.8h0.8M472.5,57h0.8M514.1,38.5h0.8M511.3,46.8h0.8M507.4,36.3h0.8M501.7,47.7h0.8M505.5,35.2h0.8M513.5,46.3h0.8M510.7,44.7h0.8M468.9,58.5h0.8M509.7,33.2h0.8M482,54.1h0.8M480.2,56.5h0.8M485.1,50.3h0.8M500.2,37.1h0.8M490.5,51.6h0.8M472.1,56.2h0.8M486,51.1h0.8M495.5,42.8h0.8M513.8,29h0.8M511.1,34.8h0.8M506.9,43.6h0.8M505.4,34.8h0.8M506.3,29h0.8M484.1,48.9h0.8M496.2,41.4h0.8M487.3,50h0.8M489.5,52.1h0.8M490.8,43.1h0.8M509.1,37.7h0.8M487.4,45.3h0.8M512.4,42.9h0.8M504.2,36.8h0.8M503.4,34.3h0.8M506.3,32.7h0.8M489,45.2h0.8M487.9,50.4h0.8M482.8,55.2h0.8M468,58.9h0.8M511.2,28.1h0.8M509.4,37.8h0.8M506.2,45.5h0.8M506.3,42h0.8M487.6,45.6h0.8M487.6,48.5h0.8M497.1,38.1h0.8M504.7,32.6h0.8M469.1,59.8h0.8M484,46.5h0.8M491.5,48.6h0.8M508.7,30.1h0.8M494.9,44.9h0.8M486.3,44.6h0.8M487.1,51.8h0.8M490.3,51.1h0.8M494.5,42h0.8M512.1,41h0.8M472.1,57.9h0.8M514.7,32.5h0.8M503.9,37.1h0.8M503.2,37.8h0.8M511,38.4h0.8M512.5,44.4h0.8M504.7,31.2h0.8M469.3,61.3h0.8M509.7,37.8h0.8M510.4,40h0.8M507,40.5h0.8M477.8,52.1h0.8M512,31.9h0.8M509.6,30.8h0.8M494.4,37.9h0.8M508.1,45.2h0.8M511.7,48.7h0.8M504.4,44.9h0.8M505.5,39.8h0.8M511,38.4h0.8M514.6,29h0.8M508.9,42.2h0.8M492.1,51.2h0.8M513.8,46.9h0.8M508.9,49.1h0.8M477.2,59.3h0.8M492.8,41.8h0.8M472.5,61.2h0.8M492.7,46.7h0.8M504.9,41.2h0.8M513.1,45.4h0.8M498.9,48.6h0.8M502.3,35.9h0.8M480.5,54.5h0.8M513,32.8h0.8M504.2,39.1h0.8M505.4,45.1h0.8M507.6,42.4h0.8M496.1,39.5h0.8M510.8,45.6h0.8M507.4,41h0.8M499.9,43.5h0.8M487.1,47.9h0.8M493.1,51h0.8M513.7,25.8h0.8M492.5,50h0.8M488.8,46.7h0.8M501,47.8h0.8M512.1,25.6h0.8M514.8,46.5h0.8M513.5,44.8h0.8M491.5,46.6h0.8M505.7,46.7h0.8M508.3,29.4h0.8M506.1,44.5h0.8M501.3,32.4h0.8M511.9,37.9h0.8M498.2,38.6h0.8M491.7,51.3h0.8M497.7,36.7h0.8M507.5,47.1h0.8M476.8,53.3h0.8M487.6,45.5h0.8M505.7,33.3h0.8M514.7,36.2h0.8M513.9,43.8h0.8M469.4,57.6h0.8M480.6,49h0.8M507.8,38.3h0.8M510.6,44.5h0.8M479.7,57.9h0.8M480.7,48.6h0.8M507.7,39.9h0.8M498,41.3h0.8M503,34.8h0.8M496.6,41.4h0.8M487.7,53.1h0.8M514.4,44.1h0.8M508.9,31.4h0.8M504.5,40.1h0.8M472,60.1h0.8M495.6,41.1h0.8M512.4,33.3h0.8M502.1,39h0.8M504.1,46h0.8M474.1,58.7h0.8M507.6,43.3h0.8M492,50.9h0.8M503.4,45h0.8M513.4,47.1h0.8M495.5,45h0.8M475,59.1h0.8M502.4,33.8h0.8M512.8,29.7h0.8M479.7,54.8h0.8M514.5,38.2h0.8M494.1,40.9h0.8M508.6,45h0.8M473.1,55.7h0.8M514.6,29.6h0.8M470.1,58.4h0.8M514.7,43.5h0.8M492.5,46.8h0.8M509,35.2h0.8M487.1,43.2h0.8M498.9,43.8h0.8M496.6,37.5h0.8M509.2,34h0.8M504.7,43.9h0.8M486.8,44.7h0.8M479.1,54.8h0.8M502.8,32.9h0.8M507.8,48.7h0.8M500.9,48.4h0.8M507,42.3h0.8M488.8,43.4h0.8M485,49.9h0.8M491.8,41.1h0.8M515,31.7h0.8M512.5,32.4h0.8M512.2,30.4h0.8M494,51.4h0.8M479.7,50.5h0.8M508.2,42.9h0.8M505,28.1h0.8M488.7,47h0.8M496.5,44.4h0.8M492.3,42.4h0.8M505.5,30.1h0.8M513.3,41.8h0.8M495.6,38.7h0.8M480.9,53.7h0.8M507.7,35.9h0.8M475.1,52.9h0.8M511.3,47.9h0.8M495.7,49.8h0.8M499.8,46h0.8M508.7,38.8h0.8M474.4,54.7h0.8M505.9,44.1h0.8M508,45.6h0.8M479.9,50h0.8M507.4,48h0.8M511.2,49.5h0.8M495.7,47.2h0.8M513.2,37.8h0.8M496.8,45.4h0.8M504.6,42.8h0.8M513,44.9h0.8M488.3,49.9h0.8M488.4,49h0.8M501.2,44.7h0.8M502,34.6h0.8M507.6,27.7h0.8M507.6,47.9h0.8M477.8,54.8h0.8M468.2,60.9h0.8M513.3,42.4h0.8M505.8,36.7h0.8M474,55.7h0.8M494.4,48h0.8M491.8,52.6h0.8M477.1,53.6h0.8M510.6,45.1h0.8M489.3,48.3h0.8M506.2,37.6h0.8M514.2,31.8h0.8M488.2,51.3h0.8M504.7,36.5h0.8M507.4,43.4h0.8M493.7,44.2h0.8M511.8,43.3h0.8M485.4,47.4h0.8M499.7,45.9h0.8M491.1,45.3h0.8M505.3,35.7h0.8M495.1,44.4h0.8M507,30.9h0.8M500.8,39.3h0.8M491.2,41.9h0.8M467.2,59.1h0.8M471.3,59.5h0.8M477.5,50.7h0.8M490.2,49.2h0.8M483.6,51.9h0.8M491.7,49.2h0.8M484,46.6h0.8M480.5,55.2h0.8M513.4,37.1h0.8M514.9,41.4h0.8M497.9,47.7h0.8M492.7,44.7h0.8M497.8,34.2h0.8M510.2,39.3h0.8M488.9,43.4h0.8M500.5,33.4h0.8M506.8,39.9h0.8M487,52.9h0.8M466.9,58.7h0.8M509.4,36h0.8M504.4,46.5h0.8M490.1,43.6h0.8M485.6,44.1h0.8M479.1,55.5h0.8M506.8,30.8h0.8M511.6,43.9h0.8M507.1,40.9h0.8M492.9,40.5h0.8M510.4,42.6h0.8M463.6,60.7h0.8M472.3,56h0.8M504,46.5h0.8M496.5,46.3h0.8M508.1,38.1h0.8M512.4,28h0.8M514.6,39.8h0.8M511.5,26.6h0.8M497.9,47.9h0.8M481,48.2h0.8M513.4,45.3h0.8M493.8,47.8h0.8M499.4,49.1h0.8M482.4,52.6h0.8M493.9,41.7h0.8M499.6,44.5h0.8M485.3,50.5h0.8M497.7,45.9h0.8M513.5,24.5h0.8M493.6,43.3h0.8M476.3,59.4h0.8M494.3,40.6h0.8M513.9,34.7h0.8M508.7,41.2h0.8M512.6,25.8h0.8M506,34.9h0.8M504.6,49.7h0.8M497.8,37.8h0.8M500.8,35.8h0.8M505.6,38.7h0.8M504.6,43.5h0.8M509.1,45.9h0.8M500.8,42.2h0.8M513,34.3h0.8M479.2,49.5h0.8M512.4,24.2h0.8M495.2,49.9h0.8M505.8,47.9h0.8M503.5,33.9h0.8M514,33.1h0.8M505.9,41.7h0.8M494.5,48.9h0.8M497.2,48.4h0.8M513.9,32.5h0.8M497.6,39.8h0.8M497.6,42h0.8M473.6,54.4h0.8M501.2,36.9h0.8M515.3,44.8h0.8M481.5,47.9h0.8M490.4,48.8h0.8M503.7,37.3h0.8M512.7,28.3h0.8M480.4,48h0.8M477.5,56.8h0.8M487.1,47.4h0.8M512.5,26.5h0.8M502,48.6h0.8M495.2,42.6h0.8M499.4,46.7h0.8M513.5,46.4h0.8M510.8,34.4h0.8M483,51.9h0.8M491.7,46.6h0.8M484.2,54.1h0.8M502.2,40.3h0.8M511.2,36.4h0.8M493.3,50.5h0.8M511,39.7h0.8M510.9,43.7h0.8M488.1,51.3h0.8M500.9,33.3h0.8M505.9,49.8h0.8M500.3,41.2h0.8M489.5,46.8h0.8M476.4,53h0.8M511.5,24.6h0.8M494.2,45.1h0.8M493.3,42.5h0.8M494.5,50.9h0.8M511.6,26.4h0.8M497.9,37.7h0.8M512,44.8h0.8M504.1,36.9h0.8M496,48.9h0.8M495.4,50h0.8M476.4,55.1h0.8M495.9,37h0.8M502.1,40.2h0.8M495.3,46h0.8M509.8,43.2h0.8M505.1,48.9h0.8M508.8,41.3h0.8M502.6,36h0.8M510,27.2h0.8M512.1,40.8h0.8M515.1,34.9h0.8M489.3,51.1h0.8M511.8,37.3h0.8M494.5,42.9h0.8M504.4,47.2h0.8M495.9,44.8h0.8M513.8,26.6h0.8M467.4,61.5h0.8M496.1,38.1h0.8M494.1,43.1h0.8M500.8,47.3h0.8M469,60.5h0.8M503.8,34.4h0.8M479.2,52.7h0.8M514,44.8h0.8M493.9,44.1h0.8M497,46.5h0.8M514.6,46.1h0.8M511.8,24.2h0.8M491.7,43.8h0.8M505.4,45h0.8M479.7,53.7h0.8M495.4,41h0.8M511.7,24.9h0.8M478.3,52.7h0.8M492.7,40.2h0.8M500.6,32.7h0.8M509,45.7h0.8M510.8,42.2h0.8M502.2,36.4h0.8M502.5,35h0.8M509.8,39.1h0.8M485.8,51.4h0.8M496.6,41h0.8" stroke="#8c8c8c" stroke-width="0.8" opacity="0.85" fill="none"/>
<polygon points="476,56 488,47.5 502,38 516,29 516,43 500,46.5 486,52 477,57.5" fill="#9c9c9c" filter="url(#b1)" opacity="1.0"/>
<path d="M507.7,37.2h0.8M501.1,41h0.8M501.7,46.4h0.8M487.1,50.1h0.8M498.9,41.6h0.8M497.6,47.1h0.8M507.6,44.7h0.8M496.6,46h0.8M503.5,45.6h0.8M508.9,42.1h0.8M506,34.7h0.8M507.3,42.5h0.8M499,43.2h0.8M507.3,38.6h0.8M494.9,50.9h0.8M481.6,52.7h0.8M485.2,52.4h0.8M484.5,51.8h0.8M499.1,47.1h0.8M494.4,45.1h0.8M496.9,44.5h0.8M493.1,44.9h0.8M496.8,47.4h0.8M510.8,37.5h0.8M512.6,42.4h0.8M489.4,49.5h0.8M502.9,41.8h0.8M486.1,49.3h0.8M511.3,43.9h0.8M506.7,39.4h0.8M502.4,41.8h0.8M509.4,42.9h0.8M507.2,42.3h0.8M505.3,37.5h0.8M490.2,48h0.8M509.5,37.7h0.8M494.6,44.5h0.8M514,31.6h0.8M504.8,41.5h0.8M510.2,40.9h0.8M501,41.3h0.8M501.3,46.2h0.8M512,40h0.8M488.4,48.3h0.8M494.3,47.3h0.8M508.6,42.4h0.8M482.5,51.9h0.8M511.7,38.7h0.8M513.5,30.9h0.8M498.1,43.4h0.8M489.8,49.6h0.8M501.6,43.3h0.8M510.1,36.4h0.8M503.2,46.1h0.8M506.4,36.5h0.8M513.3,38.2h0.8M508.4,36.1h0.8M505.2,44.5h0.8M497.4,44.6h0.8M503.4,43.7h0.8M500.4,45.6h0.8M515.2,37.8h0.8M508.1,42.3h0.8M510.9,43.9h0.8M514.1,43h0.8M503.8,39.9h0.8M500.2,43.6h0.8M480.9,51.8h0.8M510.2,41.7h0.8M505.1,42.4h0.8M507.3,34.5h0.8M496.8,41.7h0.8M492.3,45.2h0.8M485.3,48.1h0.8M504.9,40.3h0.8M498.1,45.2h0.8M477.2,55.1h0.8M489.9,50.9h0.8M511.5,33h0.8M515.3,31h0.8M499.2,42.4h0.8M510.7,35.8h0.8M496.8,47.3h0.8M511.4,36h0.8M512.3,39.3h0.8M504.9,39.8h0.8M499.4,42.7h0.8M510.7,35.3h0.8M503.1,38.5h0.8M515.3,30.2h0.8M498.4,44.6h0.8M500.6,39h0.8M514.4,36h0.8M484.5,52.2h0.8M491.9,46.9h0.8M507.7,44.6h0.8M513.1,42.5h0.8M498.9,40.7h0.8M488.2,50.3h0.8M500.1,45.9h0.8M487.8,47.6h0.8M504.7,43.1h0.8M504.1,36.7h0.8M507.1,42.7h0.8M505,45.2h0.8M496.8,46.9h0.8M510.1,37.5h0.8M512.5,39.4h0.8M506.2,45.3h0.8M503,43h0.8M483.7,51.8h0.8M508.9,43.5h0.8M495.1,47.4h0.8M505.3,42.9h0.8M515.3,33.2h0.8M505.4,45.1h0.8M501.4,44.3h0.8M504.1,36.9h0.8M484.1,52.3h0.8M508.7,41.4h0.8M476.9,55.1h0.8M511.9,40h0.8M492.1,46.2h0.8M481.2,54.9h0.8M501.7,40.4h0.8M480.6,54.4h0.8M502.9,42.5h0.8M481.3,54.1h0.8M511.4,36.3h0.8M504.2,41.2h0.8M503.1,43.7h0.8M510,32.6h0.8M494.8,44.3h0.8M508.2,38.7h0.8M493.9,43.9h0.8M500,38.6h0.8M492.6,41.4h0.8M514.8,39.9h0.8M481,51.7h0.8M488.6,49.5h0.8M510.6,33.4h0.8M502.2,43.3h0.8M499.6,40.1h0.8M499.7,42.5h0.8M490,47.7h0.8M481,52.3h0.8M507,38.8h0.8M514.3,39.5h0.8M487.9,49.6h0.8M505.1,36.6h0.8M510.6,39.1h0.8M480.8,52.3h0.8M481.2,53.5h0.8M511.4,37.6h0.8M504.7,45.1h0.8M489.5,47.1h0.8M488,47.9h0.8M489.7,47.7h0.8M514.5,30.4h0.8M481.5,50.9h0.8M513.1,37.6h0.8M509.6,38.2h0.8M485,51.1h0.8M505.1,43.2h0.8M507.2,38.1h0.8M506.7,37.7h0.8M514.1,38.2h0.8M499.3,43.6h0.8M496.7,43.4h0.8M484,52.9h0.8M508.9,36h0.8M500.3,45.5h0.8M507.2,39.2h0.8M515.5,40.3h0.8M483.8,50.1h0.8M510.8,33.9h0.8M514.1,34.2h0.8M500.3,39.5h0.8M505,43.6h0.8M513.1,41.1h0.8M505.7,44.1h0.8M477.9,55.8h0.8M493.7,44.4h0.8M504.9,44.6h0.8M510.3,36.8h0.8M503.1,39.1h0.8M501.6,40.7h0.8M510.9,35.2h0.8M487.4,49.6h0.8M508.6,35.8h0.8M499.4,43.8h0.8M497.2,43h0.8M501.8,38.4h0.8M510.4,43.2h0.8M502.4,43.6h0.8M496.4,47.8h0.8M504.3,37.1h0.8M487.2,49.9h0.8M484.1,49.9h0.8M496.9,45.8h0.8M514.5,42.8h0.8M490.7,46.1h0.8M494.9,45.7h0.8M514.8,41.7h0.8M514.9,34.3h0.8M512.3,31.8h0.8M498.5,44.9h0.8M480.3,53.6h0.8M487.6,50.1h0.8M497.2,41.9h0.8M494.1,48.4h0.8M493,44.6h0.8M489.9,49.2h0.8M505.5,41.1h0.8M506,42.6h0.8M510.7,34.9h0.8M480.8,54.7h0.8M478.7,55.7h0.8M491.9,48.6h0.8M491.8,47.6h0.8M486.5,52.7h0.8M493.2,49.6h0.8M511.4,39h0.8M506.1,36.3h0.8M512.7,31.8h0.8M482.8,53.4h0.8M499.2,43.9h0.8M500.1,43h0.8M497.2,45.3h0.8M487.1,52.2h0.8M476.8,55.5h0.8M502.5,42h0.8M490.4,49.9h0.8M500.8,43h0.8M503.3,46.2h0.8M492.7,47.2h0.8M476.6,57.7h0.8M511,43h0.8M511.8,38.1h0.8M483.7,52.5h0.8M480.1,55.2h0.8M511,41.8h0.8M513.7,30.8h0.8M507.8,37.9h0.8M514.5,39.6h0.8M507.1,36.7h0.8M484.9,49.4h0.8M512,43.6h0.8M509,36.9h0.8M502.1,43.2h0.8M511.9,34.6h0.8M495.4,45h0.8M514.8,40.4h0.8M512.5,42.3h0.8M503.3,45.3h0.8M508.3,42.8h0.8M487.8,49.6h0.8M507.4,37.9h0.8M512.8,33.1h0.8M490.2,50h0.8M498.7,43.8h0.8M513,32.3h0.8M504.6,42.8h0.8M507.4,42.5h0.8M505.4,43.9h0.8M481.3,52.6h0.8M515,38.3h0.8M494.3,46.6h0.8M488.3,49.9h0.8M500.5,42.9h0.8M508.6,33.4h0.8M488.2,50.7h0.8M504.5,38.6h0.8M513.3,36.3h0.8M495.2,43.4h0.8M496.9,47.8h0.8M514.6,38.9h0.8M499.1,44.6h0.8M515.2,32.9h0.8M514.5,31.9h0.8M477.7,57.1h0.8M514.8,32.5h0.8M500.5,44h0.8M502.4,43.3h0.8M507.2,37.2h0.8M484.7,50.5h0.8M489.9,47.9h0.8M510.4,37.6h0.8M509.5,37.3h0.8M479.1,54.5h0.8M486.1,47.8h0.8M513.4,34.7h0.8M502.2,37.7h0.8M489.8,49.4h0.8M515.2,35.9h0.8M503.1,45.7h0.8M510.6,35.8h0.8M481.7,52.9h0.8M512.9,41.9h0.8M494.5,46.7h0.8M513.9,41.3h0.8M480.1,52.3h0.8M512.2,35.6h0.8M492.3,47h0.8M498.6,41.2h0.8M506.2,45.7h0.8M510.9,40h0.8M497.9,42.3h0.8M512.6,35.2h0.8M506.2,38.2h0.8M511,34.1h0.8M501.5,41.4h0.8M486.4,50.8h0.8M515.1,37.2h0.8M509.4,36.9h0.8M491.1,47.2h0.8M513.1,33.2h0.8M513.4,38.9h0.8M497.5,45.7h0.8M494,46h0.8M498.6,42.3h0.8M480.1,55.5h0.8M509.8,37.4h0.8M502,40.9h0.8M512.1,37.5h0.8M484.7,49.5h0.8M503.1,44.1h0.8M483.8,51.3h0.8M506.7,40h0.8M489.4,48.2h0.8M499.9,45h0.8M507.7,37.5h0.8M491.5,48.9h0.8M513.5,32.2h0.8M507.4,44.2h0.8M495.3,44.1h0.8M483.8,51.9h0.8M483.1,51.4h0.8M485.9,51.5h0.8M479.5,54.8h0.8M480.1,52.3h0.8M503.8,44.8h0.8M514.8,40.2h0.8M513,33.1h0.8M514.4,34.7h0.8M506.8,36.4h0.8M492.8,46.5h0.8M513.6,34.9h0.8M510.1,34.7h0.8M509.2,42.6h0.8M511.1,42.6h0.8M501.7,40.8h0.8M504.8,36.6h0.8M509.6,41h0.8M499.7,40.9h0.8M498.1,45.8h0.8M512.6,33.1h0.8M508.6,37.9h0.8M498.2,42.2h0.8M510.7,43.5h0.8M492.7,48.1h0.8M502,39.4h0.8M501.9,41.7h0.8M486.1,50.3h0.8M477.3,55.7h0.8M510.2,37.7h0.8M513,40.1h0.8M505.3,39.8h0.8M510.8,42.1h0.8M513,37.6h0.8M511.9,36.4h0.8M503.5,44.8h0.8M515,42.9h0.8M507.2,42h0.8M502,43.7h0.8M506.5,42.9h0.8M508.6,44.6h0.8M492,45.3h0.8M503.8,41.7h0.8M510,41.4h0.8M513.3,35.1h0.8M500.8,42.9h0.8M510.4,42h0.8M513.8,38.3h0.8M484.1,49.9h0.8M512.5,41.2h0.8M504.1,42.9h0.8M512.1,41.7h0.8M507.5,40.5h0.8M507.4,43.2h0.8M489,48.7h0.8M480.2,55.4h0.8M497.8,44.6h0.8M494.3,44h0.8M512.4,36.2h0.8M491.7,45.7h0.8M490.3,45.6h0.8M515.2,36.7h0.8M513.6,38.2h0.8M494.2,46.3h0.8M512.9,38.7h0.8M487.3,48.3h0.8M503.9,42.6h0.8M492.1,50.8h0.8M483.9,52.5h0.8M512.7,34.9h0.8M513.9,42.1h0.8M500,47h0.8M499.9,41h0.8M487,50.9h0.8M483.1,50.6h0.8M504.6,36.9h0.8M513.9,40.2h0.8M501,44.1h0.8M514.5,30.1h0.8M506.9,42.3h0.8M510.8,41.1h0.8M514.3,32.4h0.8M482.2,53.1h0.8M494.8,44h0.8M514.3,31.6h0.8M492.4,46.3h0.8M501.4,41h0.8M511.9,32.9h0.8M496.1,43.9h0.8M500.8,45.4h0.8M485.3,49.9h0.8M504.9,43.4h0.8M487.5,48.5h0.8M500.3,43.1h0.8M514.3,39.4h0.8M479.1,53.7h0.8M512.1,39.5h0.8M507.7,41.3h0.8M500.1,44.5h0.8M502.3,39.4h0.8M504,36.1h0.8M495.7,47h0.8" stroke="#828282" stroke-width="0.8" opacity="0.85" fill="none"/>
<path d="M486,49.3h0.7M494.9,50.5h0.7M477.6,53.5h0.7M504.3,38.5h0.7M490.6,36.7h0.7M506.3,47.6h0.7M512.3,47h0.7M493.6,47.5h0.7M511.3,34.6h0.7M471,56.5h0.7M488,41.8h0.7M478.7,57h0.7M510.5,36.8h0.7M499.2,38.3h0.7M511,37.5h0.7M510.2,31h0.7M501.9,42.2h0.7M493.4,46.3h0.7M503.8,43h0.7M510.7,50.8h0.7M510.6,29.9h0.7M503.9,48.2h0.7M515,40.9h0.7M508.3,42.3h0.7M485.5,47.8h0.7M489.3,53.3h0.7M503.3,33.7h0.7M511.4,36.5h0.7M502.2,48.4h0.7M507.1,33.3h0.7M512.4,37.8h0.7M502.2,49.9h0.7M489.7,53.4h0.7M499.2,46.4h0.7M503.5,39.9h0.7M510.1,36.2h0.7M502.9,33.4h0.7M511.2,37.6h0.7M482.2,50.1h0.7M508,37.8h0.7M499.6,49.4h0.7M506.1,49.2h0.7M509,43.2h0.7M505.3,35.8h0.7M498.2,45.7h0.7M509.2,44.7h0.7M506.3,46.1h0.7M515.2,32.9h0.7M464.3,60.7h0.7M508,30.3h0.7M496,48.3h0.7M507.8,45.5h0.7M500,46.8h0.7M492.8,48.4h0.7M475.7,57.2h0.7M495.9,40.5h0.7M470.5,63.9h0.7M507.1,28.7h0.7M489.5,47.7h0.7M488.3,52.2h0.7M514,44.1h0.7M488.1,50.8h0.7M469.3,57.1h0.7M507.9,41.9h0.7M476.3,59h0.7M469.9,57.7h0.7M492,48.7h0.7M501.5,47.1h0.7M514.8,23.7h0.7M508.9,43.6h0.7M500.5,41.4h0.7M505.5,46.1h0.7M501.9,42h0.7M506.6,38.6h0.7M499.1,39.5h0.7M512.6,38.7h0.7M498.6,49.5h0.7M511.8,31.4h0.7M489.7,48.6h0.7M509.5,44.7h0.7M505.4,40.1h0.7M477.8,54.7h0.7M504.2,37.6h0.7M506.2,39.2h0.7M506.9,30.7h0.7M492.4,47.7h0.7M500.9,51.8h0.7M492.2,40.6h0.7M501.7,42.2h0.7M502.4,40.6h0.7M495.9,33.7h0.7M512.2,40.9h0.7M509.9,23.1h0.7M493.5,44.1h0.7M487,42.3h0.7M515.5,43h0.7M511,31.7h0.7M510.8,35.6h0.7M497.6,44.8h0.7M475.7,61h0.7M507.3,45.7h0.7M514.7,31h0.7M483.8,48h0.7M504.4,34.2h0.7M471,63.8h0.7M471.2,61.5h0.7M478.8,54.4h0.7M499.7,37.5h0.7M493.2,37.1h0.7M500.5,45.1h0.7M514.5,27.2h0.7M472.8,59.7h0.7M498,45.5h0.7M506.1,32h0.7M480.5,52h0.7M509.1,46.5h0.7M508,38.2h0.7M466.5,63.1h0.7M498,40.2h0.7M511.3,27.4h0.7M496.3,47h0.7M504.7,45.3h0.7M479.6,49.8h0.7M491.3,44.4h0.7M486.4,41.1h0.7M498.7,50.6h0.7M510.4,31h0.7M510.4,44.4h0.7M515.3,46.3h0.7M495.7,45.9h0.7M509.3,40.1h0.7M494.5,41.5h0.7M500.3,46.9h0.7M498.5,48h0.7M478,53.1h0.7M487.6,50.9h0.7M499.8,40.7h0.7M485.5,50.6h0.7M494,40.3h0.7M479,54.8h0.7M495.1,41.4h0.7M492.6,33.9h0.7M503,32.1h0.7M504.5,43.4h0.7M514.4,42.2h0.7M512.5,29h0.7M468.5,56.9h0.7M495.6,41h0.7M506.3,43.6h0.7M509.5,43.4h0.7M507.6,45.6h0.7M509.2,29.4h0.7M481.1,51.3h0.7M479,52h0.7M485.2,44.5h0.7M490.7,49.6h0.7M480.6,52h0.7M509.8,27.4h0.7M512.3,35.8h0.7M483.1,54.4h0.7M501.5,33h0.7M491.5,47.9h0.7M509.9,42.1h0.7M514.8,23.7h0.7M512.8,32.1h0.7M501.9,50h0.7M483.2,52.4h0.7M499.8,30.1h0.7" stroke="#b4b4b4" stroke-width="0.7" opacity="0.8" fill="none"/>
<path d="M457.5,80.7h0.7M457.2,80.8h0.7M452,87.5h0.7M455.6,80.3h0.7M458.7,76.8h0.7M447.3,84.9h0.7M463.7,70.4h0.7M467.5,66.3h0.7M463.6,67.6h0.7M465,69.5h0.7M458.3,72.4h0.7M460.8,77.5h0.7M469.8,61.6h0.7M466,67.3h0.7M460.6,77.8h0.7M457.9,76.4h0.7M454.1,80.9h0.7M452.8,86.1h0.7M459.3,76.7h0.7M464.2,68.6h0.7M455.7,81.5h0.7M452.1,89.8h0.7M457.4,81.9h0.7M454.6,79.5h0.7M459.8,73.3h0.7M469.1,65.5h0.7M472.2,61.6h0.7M469.3,68.7h0.7M466.1,61.1h0.7M459.1,75.3h0.7M450.2,91.3h0.7M470.2,59.3h0.7M468.6,63.5h0.7M462.2,74.8h0.7M466.1,65.8h0.7M462.4,69.6h0.7M448.3,88.1h0.7M454.3,83.6h0.7M459.8,75.6h0.7M464.8,62h0.7M470.4,64.9h0.7M461.9,69.6h0.7M451.7,89.2h0.7M469.7,65.7h0.7M452.6,88.2h0.7M456.8,74.4h0.7M451.4,85.4h0.7M462.5,73.1h0.7M466,72.4h0.7M455.9,75h0.7M464.7,65.4h0.7M460.8,75.2h0.7M449.1,87.4h0.7M452.8,83.2h0.7M464.9,73h0.7M468.8,68.3h0.7M463.9,67.6h0.7M466.7,59.6h0.7M465.5,67.5h0.7" stroke="#c4c4c4" stroke-width="0.7" opacity="0.8" fill="none"/>
<polygon points="443.7,91 443.7,79 464.7,54 477.9,64.6 442.4,92.3" fill="none" stroke="#333" stroke-width="0.5"/>
<text x="446.3" y="67" font-size="3" text-anchor="middle" fill="#666" >SP</text>
<text x="440.6" y="75.4" font-size="6" font-weight="bold" text-anchor="start" fill="#111"  textLength="11.8" lengthAdjust="spacingAndGlyphs">0.1%</text>
<text x="448.4" y="30.6" font-size="6.8" font-weight="bold" text-anchor="start" fill="#111"  textLength="33.4" lengthAdjust="spacingAndGlyphs">+ verapamil</text>
<text x="415.8" y="28.3" font-size="8.4" font-weight="bold" text-anchor="start" fill="#111" >iv</text>
<text transform="translate(431.8,55.4) rotate(-90)" font-size="2.8" text-anchor="middle" fill="#555">Hoechst Blue-A</text>
<text transform="translate(432,25) rotate(-90)" font-size="2.6" text-anchor="middle" fill="#555">(x 1,000)</text>
<text transform="translate(436,23) rotate(-90)" font-size="3.2" text-anchor="middle" fill="#444">250</text>
<text transform="translate(436,38) rotate(-90)" font-size="3.2" text-anchor="middle" fill="#444">200</text>
<text transform="translate(436,53) rotate(-90)" font-size="3.2" text-anchor="middle" fill="#444">150</text>
<text transform="translate(436,68) rotate(-90)" font-size="3.2" text-anchor="middle" fill="#444">100</text>
<text transform="translate(436,83) rotate(-90)" font-size="3.2" text-anchor="middle" fill="#444">50</text>
<text x="453" y="97.8" font-size="2.6" text-anchor="middle" fill="#555" >50</text>
<text x="469" y="97.8" font-size="2.6" text-anchor="middle" fill="#555" >100</text>
<text x="484" y="97.8" font-size="2.6" text-anchor="middle" fill="#555" >150</text>
<text x="500" y="97.8" font-size="2.6" text-anchor="middle" fill="#555" >200</text>
<text x="515" y="97.8" font-size="2.6" text-anchor="middle" fill="#555" >250</text>
<text x="471.3" y="101.5" font-size="3" text-anchor="middle" fill="#555" >Hoechst Red-A</text>
<text x="508" y="99.5" font-size="2.6" text-anchor="middle" fill="#555" >(x 1,000)</text>
<text x="416.8" y="112.9" font-size="7.6" text-anchor="start" fill="#111" >V</text>
<rect x="431.5" y="112.2" width="83.8" height="56.4" fill="none" stroke="#666" stroke-width="0.6"/>
<path d="M429.9,112.2h1.6M430.7,113.8h0.8M430.7,115.4h0.8M430.7,117h0.8M430.7,118.6h0.8M429.9,120.3h1.6M430.7,121.9h0.8M430.7,123.5h0.8M430.7,125.1h0.8M430.7,126.7h0.8M429.9,128.3h1.6M430.7,129.9h0.8M430.7,131.5h0.8M430.7,133.1h0.8M430.7,134.8h0.8M429.9,136.4h1.6M430.7,138h0.8M430.7,139.6h0.8M430.7,141.2h0.8M430.7,142.8h0.8M429.9,144.4h1.6M430.7,146h0.8M430.7,147.7h0.8M430.7,149.3h0.8M430.7,150.9h0.8M429.9,152.5h1.6M430.7,154.1h0.8M430.7,155.7h0.8M430.7,157.3h0.8M430.7,158.9h0.8M429.9,160.5h1.6M430.7,162.2h0.8M430.7,163.8h0.8M430.7,165.4h0.8M430.7,167h0.8M429.9,168.6h1.6M431.5,168.6v1.6M433.1,168.6v0.8M434.7,168.6v0.8M436.3,168.6v0.8M437.9,168.6v0.8M439.6,168.6v1.6M441.2,168.6v0.8M442.8,168.6v0.8M444.4,168.6v0.8M446,168.6v0.8M447.6,168.6v1.6M449.2,168.6v0.8M450.8,168.6v0.8M452.4,168.6v0.8M454.1,168.6v0.8M455.7,168.6v1.6M457.3,168.6v0.8M458.9,168.6v0.8M460.5,168.6v0.8M462.1,168.6v0.8M463.7,168.6v1.6M465.3,168.6v0.8M467,168.6v0.8M468.6,168.6v0.8M470.2,168.6v0.8M471.8,168.6v1.6M473.4,168.6v0.8M475,168.6v0.8M476.6,168.6v0.8M478.2,168.6v0.8M479.8,168.6v1.6M481.5,168.6v0.8M483.1,168.6v0.8M484.7,168.6v0.8M486.3,168.6v0.8M487.9,168.6v1.6M489.5,168.6v0.8M491.1,168.6v0.8M492.7,168.6v0.8M494.3,168.6v0.8M496,168.6v1.6M497.6,168.6v0.8M499.2,168.6v0.8M500.8,168.6v0.8M502.4,168.6v0.8M504,168.6v1.6M505.6,168.6v0.8M507.2,168.6v0.8M508.9,168.6v0.8M510.5,168.6v0.8M512.1,168.6v1.6M513.7,168.6v0.8M515.3,168.6v0.8" stroke="#666" stroke-width="0.4" fill="none"/>
<polygon points="462,168.6 463.5,166 464.5,164 465.5,150 466.3,130 467,116 467.6,112.8 468.4,113.5 469.2,125 470,140 471,152 472.5,159 474.5,162 478,163.5 484,163 490,163.5 494,162 496,158 498,154 500,151.6 502,152.5 504,156 506,162 508,167 509,168.6" fill="#f26a6e" stroke="#dc3440" stroke-width="0.5"/>
<line x1="459.6" y1="112.2" x2="459.6" y2="168.6" stroke="#555" stroke-width="0.5"/>
<line x1="477.4" y1="112.2" x2="477.4" y2="168.6" stroke="#555" stroke-width="0.5"/>
<line x1="494.3" y1="112.2" x2="494.3" y2="168.6" stroke="#555" stroke-width="0.5"/>
<line x1="512.5" y1="112.2" x2="512.5" y2="168.6" stroke="#555" stroke-width="0.5"/>
<line x1="459.6" y1="164" x2="477.4" y2="164" stroke="#555" stroke-width="0.5"/>
<line x1="494.3" y1="159" x2="512.5" y2="159" stroke="#555" stroke-width="0.5"/>
<text x="468.5" y="121.4" font-size="3.2" text-anchor="middle" fill="#666" >G0/G1</text>
<text x="485.9" y="121.4" font-size="3.2" text-anchor="middle" fill="#666" >S</text>
<text x="503.4" y="121.4" font-size="3.2" text-anchor="middle" fill="#666" >G2M</text>
<text x="468.5" y="129.8" font-size="5.7" font-weight="bold" text-anchor="middle" fill="#111" >51.9</text>
<text x="485.9" y="129.8" font-size="5.7" font-weight="bold" text-anchor="middle" fill="#111" >17.8</text>
<text x="503.4" y="129.8" font-size="5.7" font-weight="bold" text-anchor="middle" fill="#111" >29.8</text>
<text transform="translate(425,140.4) rotate(-90)" font-size="3.4" text-anchor="middle" fill="#555">Count</text>
<text transform="translate(429.3,114.2) rotate(-90)" font-size="2.6" text-anchor="middle" fill="#444">300</text>
<text transform="translate(429.3,122.2) rotate(-90)" font-size="2.6" text-anchor="middle" fill="#444">250</text>
<text transform="translate(429.3,130.2) rotate(-90)" font-size="2.6" text-anchor="middle" fill="#444">200</text>
<text transform="translate(429.3,138.2) rotate(-90)" font-size="2.6" text-anchor="middle" fill="#444">150</text>
<text transform="translate(429.3,146.2) rotate(-90)" font-size="2.6" text-anchor="middle" fill="#444">100</text>
<text transform="translate(429.3,154.2) rotate(-90)" font-size="2.6" text-anchor="middle" fill="#444">50</text>
<text transform="translate(429.3,162.2) rotate(-90)" font-size="2.6" text-anchor="middle" fill="#444"></text>
<text x="449.5" y="173.2" font-size="2.8" text-anchor="middle" fill="#555" >50</text>
<text x="465.5" y="173.2" font-size="2.8" text-anchor="middle" fill="#555" >100</text>
<text x="482.5" y="173.2" font-size="2.8" text-anchor="middle" fill="#555" >150</text>
<text x="499.5" y="173.2" font-size="2.8" text-anchor="middle" fill="#555" >200</text>
<text x="515.5" y="173.2" font-size="2.8" text-anchor="middle" fill="#555" >250</text>
<text x="472.4" y="177" font-size="3.2" text-anchor="middle" fill="#555" >PI-D05-A</text>
<text x="514.3" y="176.6" font-size="2.6" text-anchor="middle" fill="#666" >(x 1,000)</text>
<rect x="432.8" y="187.6" width="83.2" height="56.2" fill="none" stroke="#666" stroke-width="0.6"/>
<path d="M431.2,187.6h1.6M432,189.2h0.8M432,190.8h0.8M432,192.4h0.8M432,194h0.8M431.2,195.6h1.6M432,197.2h0.8M432,198.8h0.8M432,200.4h0.8M432,202.1h0.8M431.2,203.7h1.6M432,205.3h0.8M432,206.9h0.8M432,208.5h0.8M432,210.1h0.8M431.2,211.7h1.6M432,213.3h0.8M432,214.9h0.8M432,216.5h0.8M432,218.1h0.8M431.2,219.7h1.6M432,221.3h0.8M432,222.9h0.8M432,224.5h0.8M432,226.1h0.8M431.2,227.7h1.6M432,229.3h0.8M432,231h0.8M432,232.6h0.8M432,234.2h0.8M431.2,235.8h1.6M432,237.4h0.8M432,239h0.8M432,240.6h0.8M432,242.2h0.8M431.2,243.8h1.6M432.8,243.8v1.6M434.4,243.8v0.8M436.1,243.8v0.8M437.7,243.8v0.8M439.3,243.8v0.8M441,243.8v1.6M442.6,243.8v0.8M444.2,243.8v0.8M445.9,243.8v0.8M447.5,243.8v0.8M449.1,243.8v1.6M450.7,243.8v0.8M452.4,243.8v0.8M454,243.8v0.8M455.6,243.8v0.8M457.3,243.8v1.6M458.9,243.8v0.8M460.5,243.8v0.8M462.2,243.8v0.8M463.8,243.8v0.8M465.4,243.8v1.6M467.1,243.8v0.8M468.7,243.8v0.8M470.3,243.8v0.8M472,243.8v0.8M473.6,243.8v1.6M475.2,243.8v0.8M476.8,243.8v0.8M478.5,243.8v0.8M480.1,243.8v0.8M481.7,243.8v1.6M483.4,243.8v0.8M485,243.8v0.8M486.6,243.8v0.8M488.3,243.8v0.8M489.9,243.8v1.6M491.5,243.8v0.8M493.2,243.8v0.8M494.8,243.8v0.8M496.4,243.8v0.8M498.1,243.8v1.6M499.7,243.8v0.8M501.3,243.8v0.8M502.9,243.8v0.8M504.6,243.8v0.8M506.2,243.8v1.6M507.8,243.8v0.8M509.5,243.8v0.8M511.1,243.8v0.8M512.7,243.8v0.8M514.4,243.8v1.6M516,243.8v0.8" stroke="#666" stroke-width="0.4" fill="none"/>
<polygon points="461.5,243.8 463,241 464.5,230 466,210 467.5,195 468.6,188 469.6,189 471,200 472.5,215 474,230 475.5,238 477.5,241 485,241.8 493,241.5 496,239.5 499,238.2 502,238.8 505,241 508,243.8" fill="#f26a6e" stroke="#dc3440" stroke-width="0.5"/>
<line x1="460.4" y1="187.6" x2="460.4" y2="243.8" stroke="#555" stroke-width="0.5"/>
<line x1="477.7" y1="187.6" x2="477.7" y2="243.8" stroke="#555" stroke-width="0.5"/>
<line x1="494.4" y1="187.6" x2="494.4" y2="243.8" stroke="#555" stroke-width="0.5"/>
<line x1="511.8" y1="187.6" x2="511.8" y2="243.8" stroke="#555" stroke-width="0.5"/>
<line x1="460.4" y1="239" x2="477.7" y2="239" stroke="#555" stroke-width="0.5"/>
<line x1="494.4" y1="233.2" x2="511.8" y2="233.2" stroke="#555" stroke-width="0.5"/>
<text x="469" y="196.8" font-size="3.2" text-anchor="middle" fill="#666" >G0/G1</text>
<text x="486" y="196.8" font-size="3.2" text-anchor="middle" fill="#666" >S</text>
<text x="503.1" y="196.8" font-size="3.2" text-anchor="middle" fill="#666" >G2M</text>
<text x="469" y="206.6" font-size="5.7" font-weight="bold" text-anchor="middle" fill="#111" >67.3</text>
<text x="486" y="206.6" font-size="5.7" font-weight="bold" text-anchor="middle" fill="#111" >4.7</text>
<text x="503.1" y="206.6" font-size="5.7" font-weight="bold" text-anchor="middle" fill="#111" >8</text>
<text transform="translate(426.3,215.7) rotate(-90)" font-size="3.4" text-anchor="middle" fill="#555">Count</text>
<text transform="translate(430.6,189.6) rotate(-90)" font-size="2.6" text-anchor="middle" fill="#444">300</text>
<text transform="translate(430.6,197.6) rotate(-90)" font-size="2.6" text-anchor="middle" fill="#444">250</text>
<text transform="translate(430.6,205.6) rotate(-90)" font-size="2.6" text-anchor="middle" fill="#444">200</text>
<text transform="translate(430.6,213.6) rotate(-90)" font-size="2.6" text-anchor="middle" fill="#444">150</text>
<text transform="translate(430.6,221.6) rotate(-90)" font-size="2.6" text-anchor="middle" fill="#444">100</text>
<text transform="translate(430.6,229.6) rotate(-90)" font-size="2.6" text-anchor="middle" fill="#444">50</text>
<text transform="translate(430.6,237.6) rotate(-90)" font-size="2.6" text-anchor="middle" fill="#444"></text>
<text x="450.8" y="248.4" font-size="2.8" text-anchor="middle" fill="#555" >50</text>
<text x="466.8" y="248.4" font-size="2.8" text-anchor="middle" fill="#555" >100</text>
<text x="483.8" y="248.4" font-size="2.8" text-anchor="middle" fill="#555" >150</text>
<text x="500.8" y="248.4" font-size="2.8" text-anchor="middle" fill="#555" >200</text>
<text x="516.8" y="248.4" font-size="2.8" text-anchor="middle" fill="#555" >250</text>
<text x="473.4" y="252.2" font-size="3.2" text-anchor="middle" fill="#555" >PI-D05-A</text>
<text x="515" y="251.8" font-size="2.6" text-anchor="middle" fill="#666" >(x 1,000)</text>
<rect x="46.2" y="261" width="93.4" height="66.2" fill="none" stroke="#555" stroke-width="0.6"/>
<path d="M44.6,261h1.6M45.4,262.6h0.8M45.4,264.2h0.8M45.4,265.8h0.8M45.4,267.5h0.8M44.6,269.1h1.6M45.4,270.7h0.8M45.4,272.3h0.8M45.4,273.9h0.8M45.4,275.5h0.8M44.6,277.1h1.6M45.4,278.8h0.8M45.4,280.4h0.8M45.4,282h0.8M45.4,283.6h0.8M44.6,285.2h1.6M45.4,286.8h0.8M45.4,288.4h0.8M45.4,290.1h0.8M45.4,291.7h0.8M44.6,293.3h1.6M45.4,294.9h0.8M45.4,296.5h0.8M45.4,298.1h0.8M45.4,299.8h0.8M44.6,301.4h1.6M45.4,303h0.8M45.4,304.6h0.8M45.4,306.2h0.8M45.4,307.8h0.8M44.6,309.4h1.6M45.4,311.1h0.8M45.4,312.7h0.8M45.4,314.3h0.8M45.4,315.9h0.8M44.6,317.5h1.6M45.4,319.1h0.8M45.4,320.7h0.8M45.4,322.4h0.8M45.4,324h0.8M44.6,325.6h1.6M45.4,327.2h0.8M46.2,327.2v1.6M47.8,327.2v0.8M49.4,327.2v0.8M51,327.2v0.8M52.6,327.2v0.8M54.3,327.2v1.6M55.9,327.2v0.8M57.5,327.2v0.8M59.1,327.2v0.8M60.7,327.2v0.8M62.3,327.2v1.6M63.9,327.2v0.8M65.5,327.2v0.8M67.1,327.2v0.8M68.7,327.2v0.8M70.4,327.2v1.6M72,327.2v0.8M73.6,327.2v0.8M75.2,327.2v0.8M76.8,327.2v0.8M78.4,327.2v1.6M80,327.2v0.8M81.6,327.2v0.8M83.2,327.2v0.8M84.8,327.2v0.8M86.5,327.2v1.6M88.1,327.2v0.8M89.7,327.2v0.8M91.3,327.2v0.8M92.9,327.2v0.8M94.5,327.2v1.6M96.1,327.2v0.8M97.7,327.2v0.8M99.3,327.2v0.8M101,327.2v0.8M102.6,327.2v1.6M104.2,327.2v0.8M105.8,327.2v0.8M107.4,327.2v0.8M109,327.2v0.8M110.6,327.2v1.6M112.2,327.2v0.8M113.8,327.2v0.8M115.4,327.2v0.8M117.1,327.2v0.8M118.7,327.2v1.6M120.3,327.2v0.8M121.9,327.2v0.8M123.5,327.2v0.8M125.1,327.2v0.8M126.7,327.2v1.6M128.3,327.2v0.8M129.9,327.2v0.8M131.5,327.2v0.8M133.2,327.2v0.8M134.8,327.2v1.6M136.4,327.2v0.8M138,327.2v0.8M139.6,327.2v0.8" stroke="#555" stroke-width="0.6" fill="none"/>
<rect x="50.3" y="263.7" width="32.7" height="22.1" fill="#fff" stroke="#c8c8cc" stroke-width="0.4"/>
<path d="M61.4,283.3 C62.2,280.3 63.4,269.7 64.4,264.7 C65.2,270.7 65.9,278.3 67.9,281.1 L72.4,282 L78.4,282.6 L78.4,283.3 Z" fill="#f07474" stroke="#d84048" stroke-width="0.45"/>
<line x1="69.6" y1="265.7" x2="69.6" y2="283.3" stroke="#999" stroke-width="0.4"/>
<line x1="79.8" y1="265.7" x2="79.8" y2="283.3" stroke="#999" stroke-width="0.4"/>
<line x1="69.6" y1="273.7" x2="79.8" y2="273.7" stroke="#aaa" stroke-width="0.4"/>
<path d="M51.3,283.3H82" stroke="#bbb" stroke-width="0.4"/>
<text x="74" y="294.2" font-size="5.2" text-anchor="start" fill="#222"  textLength="13.6" lengthAdjust="spacingAndGlyphs">G0/G1</text>
<path d="M100.2,314.7h0.9M94.2,309.6h0.9M102.5,313.3h0.9M114.5,310.8h0.9M104.1,312.5h0.9M108,308.3h0.9M99.4,306.7h0.9M95.7,304.5h0.9M93.7,310.1h0.9M115.9,317.8h0.9M105.9,314.2h0.9M111.2,304.3h0.9M96.1,320.4h0.9M107.5,308.8h0.9M102.3,312.3h0.9M110.4,310.4h0.9M106.3,310h0.9M106,310.6h0.9M108.7,314.1h0.9M118.6,311h0.9M101.8,315.6h0.9M124.2,316.5h0.9M102.2,309.6h0.9M109.3,316.5h0.9M110.4,312.1h0.9M105.4,310.8h0.9M93.3,303.7h0.9M122.8,299.7h0.9M109,310.3h0.9M102.4,309.2h0.9M117.6,302.7h0.9M100.8,313.4h0.9M121.5,307.1h0.9M95.6,309h0.9M100.9,312.1h0.9M106.9,312.4h0.9M100.6,315.3h0.9M116.4,304.8h0.9M118,318.2h0.9M118.2,309h0.9M110.9,307.9h0.9M101.7,319.2h0.9M120.3,305.7h0.9M107,302.5h0.9M115.4,309.8h0.9M111.3,316.4h0.9M97.1,301.4h0.9M105.4,313.7h0.9M104.9,305.4h0.9M123.5,304.3h0.9M98.5,304.6h0.9M97.2,303.4h0.9M109.4,311.6h0.9M113.9,307.9h0.9M97.8,314.6h0.9M117.5,302.4h0.9M113.4,312.6h0.9M103.5,313.1h0.9M100.6,318.4h0.9M107.1,308.8h0.9M98.9,305.6h0.9M114.5,308.8h0.9M125.1,310.6h0.9M106.9,316.3h0.9M115.2,305.7h0.9M121.3,313.3h0.9M97.3,307.2h0.9M125,299.5h0.9M103.6,310.6h0.9M111.4,314.2h0.9M121,313.3h0.9M102,321.1h0.9M122.8,316.3h0.9M128.5,312.2h0.9M120.7,303.9h0.9M128,309.9h0.9M111.1,313.5h0.9M129.9,310.1h0.9M107.8,305.1h0.9M96.6,309.2h0.9M94.6,309.7h0.9M96.6,308.4h0.9M117.8,314.7h0.9M118.2,303h0.9M115.8,309h0.9M100.4,303.8h0.9M119.2,310h0.9M102.7,311.6h0.9M126.4,310.6h0.9M127.9,304.6h0.9M106.7,306.1h0.9M116.1,305.6h0.9M123.5,305.8h0.9M124.3,309.7h0.9M112.5,304.1h0.9M113.6,311.1h0.9M117.2,310.7h0.9M100.6,302h0.9M101.9,318.5h0.9M108.8,299.2h0.9M129.2,309.9h0.9M110.1,313h0.9M111.2,310.6h0.9M109.1,313.6h0.9M128.2,303h0.9M95.3,311.6h0.9M97.4,304.3h0.9M107.7,305.3h0.9M101.5,306.4h0.9M103.5,312.9h0.9M119.9,301.2h0.9M99.2,310.7h0.9M107.2,304.6h0.9M94.6,306.9h0.9M103.4,314h0.9" stroke="#e898b0" stroke-width="0.9" opacity="0.85" fill="none"/>
<path d="M106.8,318.1h0.8M102.2,310.2h0.8M99.8,303.7h0.8M121.1,307.7h0.8M106.5,308h0.8M125.2,312.5h0.8M97.7,316.5h0.8M99.5,310h0.8M121.3,315.9h0.8M103.5,311h0.8M102.7,300.2h0.8M107.6,302h0.8M124.2,306.2h0.8M98.9,306.4h0.8M128.4,303.9h0.8M120.7,303.2h0.8M110.8,308.6h0.8M97.3,309.1h0.8M99.3,307.8h0.8M117.8,319.8h0.8M103.9,307.5h0.8M122.3,310.6h0.8M120.2,305.1h0.8M112.4,311.4h0.8M97.1,316.1h0.8M92.6,309.1h0.8M105.5,308.7h0.8M128.1,313.9h0.8M113.1,312.8h0.8M94.5,314.2h0.8M100.4,313.5h0.8M114.4,300.3h0.8M110.1,317.4h0.8M113.4,308.1h0.8" stroke="#d05070" stroke-width="0.8" opacity="0.9" fill="none"/>
<path d="M81.6,305.3h0.9M84.1,315.6h0.9M92.6,303.3h0.9M88.9,303.5h0.9M78.8,304.5h0.9M85.6,312.9h0.9M80,306.3h0.9M85.5,301.6h0.9M75,306h0.9M78.9,307.7h0.9M81.8,313.6h0.9M79,308.1h0.9M79.2,310.4h0.9M77.3,310.5h0.9M75.1,307.7h0.9M80.7,303.6h0.9M81.3,302.6h0.9M86,308.5h0.9M78,308.6h0.9M86.8,311.6h0.9M84.3,310.8h0.9M84.1,311.7h0.9M93.4,312.5h0.9M90.4,315h0.9M79.8,315.8h0.9M74.8,309.5h0.9M76,308.3h0.9M87.5,315.1h0.9" stroke="#c868d8" stroke-width="0.9" opacity="0.9" fill="none"/>
<ellipse cx="86" cy="320" rx="6.6" ry="4.9" fill="#eeb0f4" opacity="0.7" filter="url(#b2)"/>
<ellipse cx="86" cy="320" rx="4.6" ry="3.4" fill="#dc40ec" filter="url(#b1)"/>
<path d="M84.3,325.9h0.9M84.5,316.5h0.9M87.1,322.8h0.9M83.3,322.9h0.9M89.4,319.1h0.9M88.5,319.9h0.9M87.9,318.5h0.9M91.9,321.1h0.9M90.3,321.3h0.9M84.2,316.8h0.9M87.5,319.2h0.9M87.3,319.5h0.9M86.6,320.1h0.9M84.9,320.6h0.9M87,323.8h0.9M93,312.1h0.9M91.2,319h0.9M80.9,319.2h0.9M87.4,316.6h0.9M84.8,325.3h0.9M85.8,322.2h0.9M86.2,318.6h0.9M85.7,321.1h0.9M80.6,320.6h0.9M82.6,317.5h0.9M87.8,314.1h0.9M85.8,317.2h0.9M89.3,323.1h0.9M85.8,316.7h0.9M84.8,315.3h0.9M88.4,319h0.9M90,317.8h0.9M82.3,323.6h0.9M90.5,322.4h0.9M88.2,318.3h0.9M86.4,323.4h0.9M89.3,323.3h0.9M88.6,318.9h0.9M93.3,322.4h0.9M91.9,319.8h0.9M83.2,320h0.9M84.4,320.9h0.9M83.9,324.8h0.9M87.4,324.6h0.9M84.3,319.6h0.9M85.8,320.2h0.9M87,314.1h0.9M87.4,320.1h0.9M86.1,322.4h0.9M80.7,319.9h0.9M82.3,322.5h0.9M80.7,316.9h0.9M83.4,323.1h0.9M87.3,315.6h0.9M80,321.8h0.9M92.7,319.4h0.9M89.2,318.7h0.9M86.6,316.9h0.9M88.8,322.5h0.9M84.7,317.6h0.9M85,317.1h0.9M87.7,321.3h0.9M83.3,317.8h0.9M83.2,322h0.9M87.5,316.9h0.9M92.5,320.2h0.9M89.6,324.1h0.9M83.4,318.6h0.9M95.1,318h0.9M79,321.3h0.9M85.1,321h0.9M91.3,319.7h0.9M89.9,319.7h0.9M83.4,322.8h0.9M80.4,319.3h0.9M84.8,319.4h0.9M89.2,323.1h0.9M88.5,318.5h0.9M87.1,322.8h0.9M77.9,324h0.9M81.4,318.4h0.9M85.6,320.1h0.9M87.6,319h0.9M82.6,320.1h0.9M86.6,316.8h0.9M86.8,320.7h0.9M86.9,316.4h0.9M87.7,320.3h0.9M82,321.2h0.9M85.7,320.1h0.9M81.9,320.9h0.9M82.3,323.3h0.9M90.2,319.4h0.9M84.1,322.6h0.9M80,322.5h0.9M89.9,321.5h0.9M88.3,322.3h0.9M86.2,320.3h0.9M92.2,319.9h0.9M85.8,318.2h0.9M87,320.4h0.9M90.2,320.3h0.9M87.4,316.8h0.9M91.5,316.8h0.9M82,321.5h0.9M84.1,321.7h0.9M87.9,319.4h0.9M79.1,312.4h0.9M89.2,319.2h0.9M97.7,321.8h0.9M87.3,321.9h0.9M82.1,318.1h0.9M86.8,321.4h0.9M86.9,320.1h0.9M84.5,321.5h0.9M89.9,316.7h0.9M84.5,323.7h0.9M86.3,317.2h0.9M87.5,314h0.9M87.9,319.7h0.9" stroke="#c828e0" stroke-width="0.9" opacity="0.9" fill="none"/>
<rect x="72.9" y="299.2" width="20.6" height="17.5" fill="none" stroke="#222" stroke-width="0.6"/>
<text x="54.1" y="310.1" font-size="5.8" font-weight="bold" text-anchor="start" fill="#111"  textLength="14.2" lengthAdjust="spacingAndGlyphs">18.3%</text>
<text x="92.6" y="254.5" font-size="6.4" font-weight="bold" text-anchor="middle" fill="#111" >Ctrl (14h)</text>
<text transform="translate(36,290) rotate(-90)" font-size="4.8" text-anchor="middle" fill="#444" textLength="33" lengthAdjust="spacingAndGlyphs">Alexa Fluor 488-A</text>
<text transform="translate(44.2,265) rotate(-90)" font-size="4" text-anchor="middle" fill="#333">10⁵</text>
<text transform="translate(44.2,280.5) rotate(-90)" font-size="4" text-anchor="middle" fill="#333">10⁴</text>
<text transform="translate(44.2,296.5) rotate(-90)" font-size="4" text-anchor="middle" fill="#333">10³</text>
<text transform="translate(44.2,312.5) rotate(-90)" font-size="4" text-anchor="middle" fill="#333">10²</text>
<text x="63.3" y="334.8" font-size="3.8" text-anchor="middle" fill="#555" >50</text>
<text x="80.9" y="334.8" font-size="3.8" text-anchor="middle" fill="#555" >100</text>
<text x="99.3" y="334.8" font-size="3.8" text-anchor="middle" fill="#555" >150</text>
<text x="116.4" y="334.8" font-size="3.8" text-anchor="middle" fill="#555" >200</text>
<text x="133.5" y="334.8" font-size="3.8" text-anchor="middle" fill="#555" >250</text>
<text x="83.1" y="341" font-size="4.6" text-anchor="start" fill="#444"  textLength="19.2" lengthAdjust="spacingAndGlyphs">PI-595-A</text>
<text x="124.1" y="340" font-size="3.4" text-anchor="start" fill="#666"  textLength="15.5" lengthAdjust="spacingAndGlyphs">(x 1,000)</text>
<rect x="157.1" y="260.5" width="94.1" height="66.7" fill="none" stroke="#555" stroke-width="0.6"/>
<path d="M155.5,260.5h1.6M156.3,262.1h0.8M156.3,263.8h0.8M156.3,265.4h0.8M156.3,267h0.8M155.5,268.6h1.6M156.3,270.3h0.8M156.3,271.9h0.8M156.3,273.5h0.8M156.3,275.1h0.8M155.5,276.8h1.6M156.3,278.4h0.8M156.3,280h0.8M156.3,281.6h0.8M156.3,283.3h0.8M155.5,284.9h1.6M156.3,286.5h0.8M156.3,288.2h0.8M156.3,289.8h0.8M156.3,291.4h0.8M155.5,293h1.6M156.3,294.7h0.8M156.3,296.3h0.8M156.3,297.9h0.8M156.3,299.5h0.8M155.5,301.2h1.6M156.3,302.8h0.8M156.3,304.4h0.8M156.3,306.1h0.8M156.3,307.7h0.8M155.5,309.3h1.6M156.3,310.9h0.8M156.3,312.6h0.8M156.3,314.2h0.8M156.3,315.8h0.8M155.5,317.4h1.6M156.3,319.1h0.8M156.3,320.7h0.8M156.3,322.3h0.8M156.3,323.9h0.8M155.5,325.6h1.6M156.3,327.2h0.8M157.1,327.2v1.6M158.7,327.2v0.8M160.3,327.2v0.8M162,327.2v0.8M163.6,327.2v0.8M165.2,327.2v1.6M166.8,327.2v0.8M168.5,327.2v0.8M170.1,327.2v0.8M171.7,327.2v0.8M173.3,327.2v1.6M174.9,327.2v0.8M176.6,327.2v0.8M178.2,327.2v0.8M179.8,327.2v0.8M181.4,327.2v1.6M183.1,327.2v0.8M184.7,327.2v0.8M186.3,327.2v0.8M187.9,327.2v0.8M189.5,327.2v1.6M191.2,327.2v0.8M192.8,327.2v0.8M194.4,327.2v0.8M196,327.2v0.8M197.7,327.2v1.6M199.3,327.2v0.8M200.9,327.2v0.8M202.5,327.2v0.8M204.1,327.2v0.8M205.8,327.2v1.6M207.4,327.2v0.8M209,327.2v0.8M210.6,327.2v0.8M212.3,327.2v0.8M213.9,327.2v1.6M215.5,327.2v0.8M217.1,327.2v0.8M218.8,327.2v0.8M220.4,327.2v0.8M222,327.2v1.6M223.6,327.2v0.8M225.2,327.2v0.8M226.9,327.2v0.8M228.5,327.2v0.8M230.1,327.2v1.6M231.7,327.2v0.8M233.4,327.2v0.8M235,327.2v0.8M236.6,327.2v0.8M238.2,327.2v1.6M239.8,327.2v0.8M241.5,327.2v0.8M243.1,327.2v0.8M244.7,327.2v0.8M246.3,327.2v1.6M248,327.2v0.8M249.6,327.2v0.8M251.2,327.2v0.8" stroke="#555" stroke-width="0.6" fill="none"/>
<rect x="161.6" y="263.4" width="32.7" height="21.8" fill="#fff" stroke="#c8c8cc" stroke-width="0.4"/>
<path d="M172,282.7 C172.8,279.7 174,269.4 175,264.4 C175.8,270.4 176.5,277.7 178.5,280.5 L183,281.4 L189,282 L189,282.7 Z" fill="#f07474" stroke="#d84048" stroke-width="0.45"/>
<line x1="180.2" y1="265.4" x2="180.2" y2="282.7" stroke="#999" stroke-width="0.4"/>
<line x1="191.1" y1="265.4" x2="191.1" y2="282.7" stroke="#999" stroke-width="0.4"/>
<line x1="180.2" y1="273.4" x2="191.1" y2="273.4" stroke="#aaa" stroke-width="0.4"/>
<path d="M162.6,282.7H193.3" stroke="#bbb" stroke-width="0.4"/>
<text x="184.7" y="294.2" font-size="5.2" text-anchor="start" fill="#222"  textLength="13.6" lengthAdjust="spacingAndGlyphs">G0/G1</text>
<path d="M233.7,305.3h0.9M232.2,310.3h0.9M205.7,302.2h0.9M207.3,317.7h0.9M222.5,307.2h0.9M212.5,309.5h0.9M217.8,305.8h0.9M242.8,309h0.9M219.7,313.8h0.9M214.5,311.9h0.9M232.2,305.7h0.9M227.9,316.4h0.9M232.3,314.7h0.9M216.9,309.5h0.9M213.1,310.6h0.9M223.4,312.2h0.9M212.7,314.1h0.9M211.7,310h0.9M239,309.7h0.9M208.5,302.8h0.9M223.3,311.5h0.9M230.8,309.5h0.9M231.8,305.5h0.9M219.3,309.8h0.9M203.7,299.2h0.9M218.8,307.2h0.9M221.6,315.1h0.9M215,317.3h0.9M238.1,315.7h0.9M226.9,320.8h0.9M226.6,307.7h0.9M216.7,304.6h0.9M205.9,307.1h0.9M206.5,301.5h0.9M244.1,302.9h0.9M226,309.9h0.9M228.1,315h0.9M236.2,312.8h0.9M214.7,313.2h0.9M218.1,317h0.9M233.1,303.8h0.9M210.6,301.1h0.9M219.8,312.9h0.9M224.6,299.9h0.9M215.8,315.4h0.9M229.7,311.1h0.9M218,298.7h0.9M208.3,304.8h0.9M215.1,307.2h0.9M218.5,307.6h0.9M225.7,309.6h0.9M222.7,323.1h0.9M230.6,309.7h0.9M211.7,311.2h0.9M234.1,310.4h0.9M223.6,315.1h0.9M239.5,310.6h0.9M236.2,313.1h0.9M222.1,313.8h0.9M208.2,312.2h0.9M209.6,315.9h0.9M223.7,308.1h0.9M212.1,302h0.9M234.8,304.6h0.9M222.6,312.9h0.9M230.8,310.7h0.9M239.5,307.6h0.9M216.3,313.1h0.9M214,304h0.9M213.3,307.6h0.9M220.5,320.2h0.9M215.4,312.6h0.9M219,306.4h0.9M227,304.4h0.9M217.4,306.9h0.9M231.6,308.6h0.9M228.7,315.5h0.9M232.8,318.2h0.9M238.1,308.1h0.9M216.7,305.8h0.9M207.4,307.1h0.9M229.1,310.7h0.9M203.5,311.1h0.9M238.3,300.4h0.9M231.5,308.2h0.9M243,307.4h0.9M208.3,302.2h0.9M228.8,299.6h0.9M217.3,318.1h0.9M216.1,303.5h0.9M220.7,321.9h0.9M213.2,302.3h0.9M228.5,311.6h0.9M225.2,315.4h0.9M230.6,311.2h0.9M222.2,306.4h0.9M213.5,304.9h0.9M213.5,311h0.9M217.5,309.8h0.9M213.2,314h0.9M222.3,314.1h0.9M212.3,315.4h0.9M227.1,316.3h0.9M222.5,309.4h0.9M239.2,311.8h0.9M211.4,315.1h0.9M216.4,309.1h0.9M239.2,304.4h0.9M212.9,311h0.9M212.1,305.8h0.9M206.1,306h0.9M221.9,307.2h0.9M222.9,311.8h0.9M221.9,301h0.9M211.2,322.1h0.9M210.9,298.9h0.9M229.7,309.3h0.9M224.2,311.6h0.9M215,310.4h0.9M222.5,309h0.9" stroke="#e898b0" stroke-width="0.9" opacity="0.85" fill="none"/>
<path d="M238.1,307.5h0.8M205.5,319.1h0.8M226.8,307.5h0.8M214.5,309h0.8M211.2,302.9h0.8M216.6,319.6h0.8M228.5,304.2h0.8M213.4,304.9h0.8M218.5,303.2h0.8M216.4,312.9h0.8M231.5,303.8h0.8M218.8,300.6h0.8M223.5,314.9h0.8M225.9,305.2h0.8M218.7,308.7h0.8M230.2,313.2h0.8M207.8,312.1h0.8M221.3,311.6h0.8M208.2,308.4h0.8M227.7,304h0.8M221.6,313.8h0.8M210.2,304.7h0.8M242.6,302.4h0.8M216.9,306.8h0.8M223.7,308.1h0.8M218.8,300.7h0.8M222.8,312.1h0.8M226.7,309.4h0.8M208.9,310.2h0.8M215.3,311.6h0.8M208.2,308.8h0.8M240.4,313.3h0.8M226.5,303.3h0.8M244.2,304.8h0.8M225,308.3h0.8M218,317h0.8" stroke="#d05070" stroke-width="0.8" opacity="0.9" fill="none"/>
<path d="M190.7,315.2h0.9M193,303.8h0.9M201.1,307.7h0.9M187.9,311.8h0.9M187.7,316.7h0.9M189.9,316.5h0.9M189.8,308.1h0.9M198.7,316.7h0.9M191.3,311.7h0.9M199.9,314.6h0.9M184,314.9h0.9M197.4,305.8h0.9M200.5,303.4h0.9M198.8,307.8h0.9M189.1,306.9h0.9M202.6,299.8h0.9M196.8,306.5h0.9M192.1,308.5h0.9M191.6,311.1h0.9M190,310.9h0.9M190.7,301.4h0.9M196,311.1h0.9M197.4,304.6h0.9M197.2,314.2h0.9M188.3,307.3h0.9M191.1,304.3h0.9M189.6,307.6h0.9M197.5,308.1h0.9M194.7,314.2h0.9M192.8,303.2h0.9M189.3,313.8h0.9M192.2,309.9h0.9M184.3,307.9h0.9M195.6,314.2h0.9M195.1,309.8h0.9M193.2,312.2h0.9M196.3,299.5h0.9M195.5,312.4h0.9M185.9,303.6h0.9M199.3,310.9h0.9M198.7,304.6h0.9M200.3,314h0.9M187.2,300.4h0.9M193.4,316.2h0.9M189.5,307.6h0.9M195,312.2h0.9M193.4,310h0.9M197.5,305.6h0.9M191.5,308.6h0.9M193.9,301.8h0.9M192.2,306h0.9M203,307.4h0.9M193.9,309.7h0.9M199.3,311.6h0.9M199.7,310.4h0.9M199.6,309h0.9M189,312.4h0.9M191.1,313.3h0.9M184.9,309.5h0.9M202.7,309.8h0.9M192.6,313.4h0.9M201.4,305.6h0.9M189.3,307.3h0.9M198.5,300.9h0.9M195.4,306.2h0.9M202,312.3h0.9M197.3,310.3h0.9M188,303.1h0.9M190.3,310.6h0.9M198.4,313.3h0.9M197.6,313.8h0.9M186.2,309.5h0.9M193.5,315.5h0.9M192.6,308.2h0.9M189.9,313.1h0.9M188.8,305.4h0.9M190.2,312.6h0.9M188.3,315.5h0.9M202.2,306.7h0.9M197.7,311.2h0.9M192.1,307.7h0.9M198.8,314h0.9M186.6,308.7h0.9M202.7,307.7h0.9M201.1,310.4h0.9M201,305.3h0.9M185.6,314.4h0.9M194.6,303.8h0.9M197.7,311h0.9M200.4,308.9h0.9M197.3,303.1h0.9M195,313.1h0.9M200.8,315.2h0.9M196.6,310.2h0.9M192.2,313.9h0.9" stroke="#c868d8" stroke-width="0.9" opacity="0.9" fill="none"/>
<ellipse cx="195.5" cy="321.2" rx="6.6" ry="4.7" fill="#eeb0f4" opacity="0.7" filter="url(#b2)"/>
<ellipse cx="195.5" cy="321.2" rx="4.6" ry="3.2" fill="#dc40ec" filter="url(#b1)"/>
<path d="M193.4,320.1h0.9M196.9,318.6h0.9M197.6,323.2h0.9M197.5,320.9h0.9M192.6,322.4h0.9M188.1,320.6h0.9M193.8,319.2h0.9M200,322.2h0.9M197.9,321.1h0.9M202.7,324.7h0.9M196.5,321.9h0.9M197.2,320.3h0.9M192.8,319.1h0.9M188.5,321.1h0.9M196.4,321.4h0.9M189.6,324.3h0.9M201.8,319.5h0.9M201.3,321.5h0.9M191,319.8h0.9M196.6,322.8h0.9M203.5,321.7h0.9M191.5,319.3h0.9M192.6,319.4h0.9M198.7,316.5h0.9M199.6,318.6h0.9M201.1,321.2h0.9M199.1,322.8h0.9M194.3,323h0.9M196.6,321.6h0.9M191.1,319.4h0.9M196.8,320.9h0.9M200,319.1h0.9M196.3,326.2h0.9M191.3,324.3h0.9M197.5,319.8h0.9M195.1,322h0.9M195.3,322.1h0.9M202,317.1h0.9M194.4,318.9h0.9M192.2,320.3h0.9M199.3,318.9h0.9M193.7,315.6h0.9M191.5,319.3h0.9M194,322.2h0.9M192.5,321.3h0.9M189.7,322.5h0.9M200.4,320.1h0.9M195.2,319.6h0.9M195.3,322.3h0.9M200,319.5h0.9M196.1,324.3h0.9M188.5,322.4h0.9M193.5,323.2h0.9M199.1,322.4h0.9M195.3,324.5h0.9M198.2,320.8h0.9M198,316.9h0.9M188.4,324.6h0.9M193.6,320.5h0.9M203.3,317.6h0.9M194.2,317.9h0.9M196.4,322h0.9M193,324.2h0.9M198.5,322.1h0.9M197,322.6h0.9M199,321.6h0.9M196.5,323h0.9M193.6,318.6h0.9M191.4,318.1h0.9M196.5,318.7h0.9M194.8,321.2h0.9M192.5,324.7h0.9M197,320.3h0.9M200.1,324.3h0.9M198,324.3h0.9M196.7,318.8h0.9M189.4,320.4h0.9M195.6,322.2h0.9M195.2,321.5h0.9M198,323.9h0.9M195,321.8h0.9M189.7,323h0.9M193.6,317.9h0.9M197.7,322.2h0.9M194.7,320.1h0.9M191.9,321.5h0.9M194.5,322.3h0.9M189.6,322h0.9M191,321.8h0.9M191.7,323.9h0.9M202.2,322.6h0.9M194.2,321.5h0.9M196.7,320.7h0.9M195.9,317h0.9M197.7,322.7h0.9M190.3,322.7h0.9M199.4,323.7h0.9M196.8,319.7h0.9M199.5,323.7h0.9M190,318.8h0.9M195.8,323h0.9M192.7,321.1h0.9M193.9,316.8h0.9M195.4,317h0.9M192,324.2h0.9M195,324.1h0.9M193.4,324.4h0.9M197.9,324.1h0.9M193.2,319.2h0.9M198.4,318.2h0.9M192,320.6h0.9M191.1,318.3h0.9M195.1,321.4h0.9M196.2,318.7h0.9M196.4,321.5h0.9M198.8,319.2h0.9M194.8,321.8h0.9M190.4,318.4h0.9M197.9,325.2h0.9M188,320.9h0.9" stroke="#c828e0" stroke-width="0.9" opacity="0.9" fill="none"/>
<rect x="183.7" y="299.3" width="20.6" height="17.7" fill="none" stroke="#222" stroke-width="0.6"/>
<text x="164.3" y="310.3" font-size="5.8" font-weight="bold" text-anchor="start" fill="#111"  textLength="14.2" lengthAdjust="spacingAndGlyphs">31.6%</text>
<text x="204.3" y="254.5" font-size="6.4" font-weight="bold" text-anchor="middle" fill="#111" >7762/6244 (14h)</text>
<text transform="translate(146.9,290) rotate(-90)" font-size="4.8" text-anchor="middle" fill="#444" textLength="33" lengthAdjust="spacingAndGlyphs">Alexa Fluor 488-A</text>
<text transform="translate(155.1,264.5) rotate(-90)" font-size="4" text-anchor="middle" fill="#333">10⁵</text>
<text transform="translate(155.1,280) rotate(-90)" font-size="4" text-anchor="middle" fill="#333">10⁴</text>
<text transform="translate(155.1,296) rotate(-90)" font-size="4" text-anchor="middle" fill="#333">10³</text>
<text transform="translate(155.1,312) rotate(-90)" font-size="4" text-anchor="middle" fill="#333">10²</text>
<text x="174.3" y="334.8" font-size="3.8" text-anchor="middle" fill="#555" >50</text>
<text x="192.1" y="334.8" font-size="3.8" text-anchor="middle" fill="#555" >100</text>
<text x="210.5" y="334.8" font-size="3.8" text-anchor="middle" fill="#555" >150</text>
<text x="227.9" y="334.8" font-size="3.8" text-anchor="middle" fill="#555" >200</text>
<text x="245.1" y="334.8" font-size="3.8" text-anchor="middle" fill="#555" >250</text>
<text x="194.3" y="341" font-size="4.6" text-anchor="start" fill="#444"  textLength="19.2" lengthAdjust="spacingAndGlyphs">PI-595-A</text>
<text x="235.7" y="340" font-size="3.4" text-anchor="start" fill="#666"  textLength="15.5" lengthAdjust="spacingAndGlyphs">(x 1,000)</text>
<path d="M29,339.6 V287.5 M29,339.6 H73.5" stroke="#111" stroke-width="0.9" fill="none"/>
<path d="M29,285 l-1.9,3.2 h3.8 z M76.3,339.6 l-3.2,-1.9 v3.8 z" fill="#111"/>
<text transform="translate(25.3,314) rotate(-90)" font-size="5.8" font-weight="bold" text-anchor="middle" fill="#111" textLength="32" lengthAdjust="spacingAndGlyphs">Active Casp 3</text>
<text x="37" y="348.3" font-size="5.8" font-weight="bold" text-anchor="start" fill="#111"  textLength="33" lengthAdjust="spacingAndGlyphs">DNA Content</text>
</g>
</svg>
</body></html>
